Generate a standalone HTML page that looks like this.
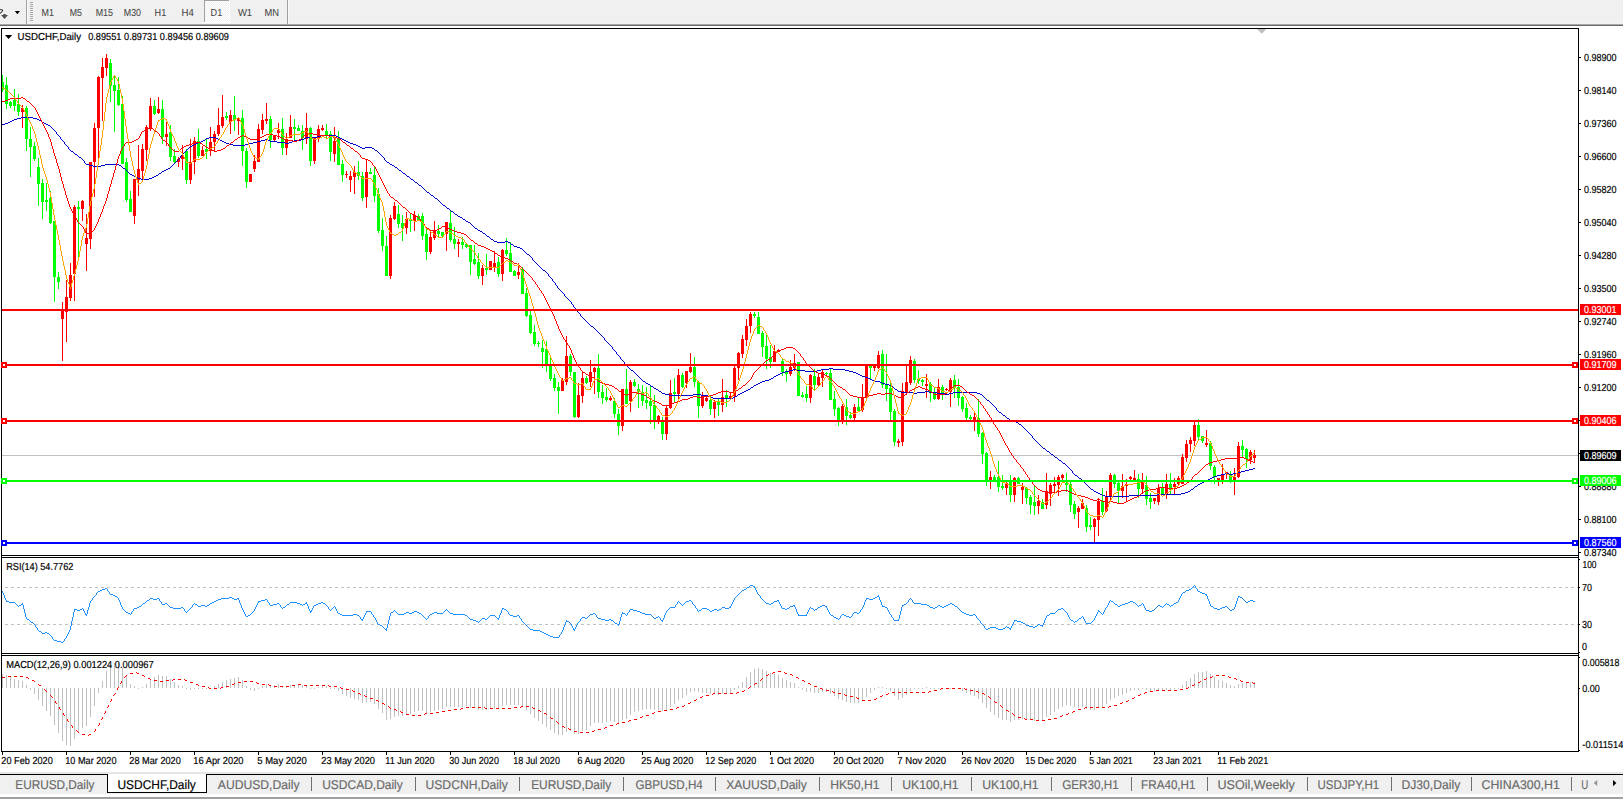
<!DOCTYPE html>
<html><head><meta charset="utf-8"><title>USDCHF,Daily</title>
<style>html,body{margin:0;padding:0;background:#fff;overflow:hidden}svg{display:block}text{white-space:pre}</style>
</head><body>
<svg width="1623" height="799" viewBox="0 0 1623 799" font-family="'Liberation Sans', sans-serif" text-rendering="geometricPrecision">
<rect x="0" y="0" width="1623" height="799" fill="#fff"/>
<g shape-rendering="crispEdges">
<rect x="0" y="0" width="1623" height="23" fill="#f0f0f0"/>
<rect x="0" y="23" width="1623" height="1" fill="#f3f3f3"/>
<rect x="0" y="24" width="1623" height="1" fill="#a8a8a8"/>
<rect x="0" y="25" width="1623" height="1" fill="#6a6a6a"/>
<rect x="26" y="0" width="1" height="24" fill="#a0a0a0"/>
<rect x="27" y="0" width="1" height="24" fill="#fafafa"/>
<rect x="30" y="2" width="3" height="1" fill="#a8a8a8"/>
<rect x="30" y="4" width="3" height="1" fill="#a8a8a8"/>
<rect x="30" y="6" width="3" height="1" fill="#a8a8a8"/>
<rect x="30" y="8" width="3" height="1" fill="#a8a8a8"/>
<rect x="30" y="10" width="3" height="1" fill="#a8a8a8"/>
<rect x="30" y="12" width="3" height="1" fill="#a8a8a8"/>
<rect x="30" y="14" width="3" height="1" fill="#a8a8a8"/>
<rect x="30" y="16" width="3" height="1" fill="#a8a8a8"/>
<rect x="30" y="18" width="3" height="1" fill="#a8a8a8"/>
<rect x="30" y="20" width="3" height="1" fill="#a8a8a8"/>
<rect x="287" y="0" width="1" height="24" fill="#a0a0a0"/>
<rect x="288" y="0" width="1" height="24" fill="#fafafa"/>
<pattern id="ck" width="2" height="2" patternUnits="userSpaceOnUse"><rect width="2" height="2" fill="#f0f0f0"/><rect width="1" height="1" fill="#fff"/><rect x="1" y="1" width="1" height="1" fill="#fff"/></pattern>
<rect x="205" y="1" width="24" height="21" fill="url(#ck)"/>
<rect x="204" y="0" width="25" height="1" fill="#a0a0a0"/>
<rect x="204" y="0" width="1" height="22" fill="#a0a0a0"/>
<rect x="229" y="0" width="1" height="23" fill="#fff"/>
<rect x="204" y="22" width="26" height="1" fill="#fff"/>
</g>
<path d="M-0.5 9.5 Q2.7 9.5 2.6 10.7 Q2.3 12.2 -0.5 13.6" fill="none" stroke="#3c3c3c" stroke-width="1.05"/>
<path d="M1 15.1 L8 15.1 L4.5 19 Z M3.3 14.1 H5.8 V15.2 H3.3 Z" fill="#505050"/>
<path d="M14.8 11 L20 11 L17.4 14.3 Z" fill="#000"/>
<text x="41.6" y="16" font-size="10.2" fill="#444" stroke="#444" stroke-width="0.05" textLength="12.4" lengthAdjust="spacingAndGlyphs">M1</text>
<text x="69.8" y="16" font-size="10.2" fill="#444" stroke="#444" stroke-width="0.05" textLength="12.2" lengthAdjust="spacingAndGlyphs">M5</text>
<text x="95.7" y="16" font-size="10.2" fill="#444" stroke="#444" stroke-width="0.05" textLength="17.3" lengthAdjust="spacingAndGlyphs">M15</text>
<text x="123.8" y="16" font-size="10.2" fill="#444" stroke="#444" stroke-width="0.05" textLength="17.2" lengthAdjust="spacingAndGlyphs">M30</text>
<text x="154.6" y="16" font-size="10.2" fill="#444" stroke="#444" stroke-width="0.05" textLength="11.6" lengthAdjust="spacingAndGlyphs">H1</text>
<text x="181.6" y="16" font-size="10.2" fill="#444" stroke="#444" stroke-width="0.05" textLength="12.3" lengthAdjust="spacingAndGlyphs">H4</text>
<text x="210.6" y="16" font-size="10.2" fill="#444" stroke="#444" stroke-width="0.05" textLength="11.6" lengthAdjust="spacingAndGlyphs">D1</text>
<text x="237.9" y="16" font-size="10.2" fill="#444" stroke="#444" stroke-width="0.05" textLength="14.2" lengthAdjust="spacingAndGlyphs">W1</text>
<text x="264.6" y="16" font-size="10.2" fill="#444" stroke="#444" stroke-width="0.05" textLength="14.5" lengthAdjust="spacingAndGlyphs">MN</text>
<g shape-rendering="crispEdges">
<rect x="1" y="28" width="1578" height="1" fill="#000"/>
<rect x="1" y="28" width="1" height="724" fill="#000"/>
<rect x="1578" y="28" width="1" height="724" fill="#000"/>
<rect x="1" y="751" width="1578" height="1" fill="#000"/>
</g>
<g shape-rendering="crispEdges">
<rect x="1" y="555" width="1578" height="1" fill="#000"/>
<rect x="1" y="557" width="1578" height="1" fill="#000"/>
<rect x="1" y="653" width="1578" height="1" fill="#000"/>
<rect x="1" y="655" width="1578" height="1" fill="#000"/>
</g>
<clipPath id="cm"><rect x="2" y="29" width="1576" height="526"/></clipPath>
<g clip-path="url(#cm)">
<g shape-rendering="crispEdges">
<rect x="2" y="455" width="1576" height="1" fill="#c0c0c0"/>
<rect x="2" y="75" width="1" height="17" fill="#00ff00"/>
<rect x="1" y="82" width="3" height="8" fill="#00ff00"/>
<rect x="6" y="77" width="1" height="32" fill="#00ff00"/>
<rect x="5" y="85" width="3" height="19" fill="#00ff00"/>
<rect x="10" y="101" width="1" height="7" fill="#00ff00"/>
<rect x="9" y="102" width="3" height="4" fill="#00ff00"/>
<rect x="14" y="89" width="1" height="22" fill="#00ff00"/>
<rect x="13" y="100" width="3" height="6" fill="#00ff00"/>
<rect x="18" y="94" width="1" height="22" fill="#00ff00"/>
<rect x="17" y="104" width="3" height="8" fill="#00ff00"/>
<rect x="22" y="105" width="1" height="23" fill="#ff0000"/>
<rect x="21" y="108" width="3" height="4" fill="#ff0000"/>
<rect x="26" y="106" width="1" height="45" fill="#00ff00"/>
<rect x="25" y="108" width="3" height="31" fill="#00ff00"/>
<rect x="30" y="127" width="1" height="50" fill="#00ff00"/>
<rect x="29" y="139" width="3" height="8" fill="#00ff00"/>
<rect x="34" y="142" width="1" height="19" fill="#00ff00"/>
<rect x="33" y="146" width="3" height="13" fill="#00ff00"/>
<rect x="38" y="158" width="1" height="48" fill="#00ff00"/>
<rect x="37" y="167" width="3" height="17" fill="#00ff00"/>
<rect x="42" y="179" width="1" height="40" fill="#00ff00"/>
<rect x="41" y="183" width="3" height="19" fill="#00ff00"/>
<rect x="46" y="183" width="1" height="28" fill="#00ff00"/>
<rect x="45" y="200" width="3" height="2" fill="#00ff00"/>
<rect x="50" y="191" width="1" height="33" fill="#00ff00"/>
<rect x="49" y="198" width="3" height="25" fill="#00ff00"/>
<rect x="54" y="221" width="1" height="81" fill="#00ff00"/>
<rect x="53" y="221" width="3" height="56" fill="#00ff00"/>
<rect x="58" y="272" width="1" height="17" fill="#00ff00"/>
<rect x="57" y="277" width="3" height="5" fill="#00ff00"/>
<rect x="62" y="302" width="1" height="59" fill="#ff0000"/>
<rect x="61" y="309" width="3" height="10" fill="#ff0000"/>
<rect x="66" y="280" width="1" height="62" fill="#ff0000"/>
<rect x="65" y="297" width="3" height="15" fill="#ff0000"/>
<rect x="70" y="263" width="1" height="38" fill="#ff0000"/>
<rect x="69" y="275" width="3" height="23" fill="#ff0000"/>
<rect x="74" y="205" width="1" height="96" fill="#ff0000"/>
<rect x="73" y="207" width="3" height="67" fill="#ff0000"/>
<rect x="78" y="201" width="1" height="56" fill="#00ff00"/>
<rect x="77" y="207" width="3" height="2" fill="#00ff00"/>
<rect x="82" y="200" width="1" height="21" fill="#ff0000"/>
<rect x="81" y="201" width="3" height="8" fill="#ff0000"/>
<rect x="86" y="214" width="1" height="57" fill="#ff0000"/>
<rect x="85" y="238" width="3" height="6" fill="#ff0000"/>
<rect x="90" y="162" width="1" height="87" fill="#ff0000"/>
<rect x="89" y="162" width="3" height="77" fill="#ff0000"/>
<rect x="94" y="123" width="1" height="74" fill="#ff0000"/>
<rect x="93" y="128" width="3" height="34" fill="#ff0000"/>
<rect x="98" y="76" width="1" height="82" fill="#ff0000"/>
<rect x="97" y="77" width="3" height="51" fill="#ff0000"/>
<rect x="102" y="58" width="1" height="63" fill="#ff0000"/>
<rect x="101" y="67" width="3" height="11" fill="#ff0000"/>
<rect x="106" y="54" width="1" height="22" fill="#ff0000"/>
<rect x="105" y="58" width="3" height="10" fill="#ff0000"/>
<rect x="110" y="59" width="1" height="43" fill="#00ff00"/>
<rect x="109" y="63" width="3" height="23" fill="#00ff00"/>
<rect x="114" y="76" width="1" height="56" fill="#00ff00"/>
<rect x="113" y="85" width="3" height="6" fill="#00ff00"/>
<rect x="118" y="77" width="1" height="29" fill="#00ff00"/>
<rect x="117" y="90" width="3" height="15" fill="#00ff00"/>
<rect x="122" y="96" width="1" height="68" fill="#00ff00"/>
<rect x="121" y="104" width="3" height="60" fill="#00ff00"/>
<rect x="126" y="158" width="1" height="44" fill="#00ff00"/>
<rect x="125" y="162" width="3" height="38" fill="#00ff00"/>
<rect x="130" y="191" width="1" height="21" fill="#00ff00"/>
<rect x="129" y="199" width="3" height="13" fill="#00ff00"/>
<rect x="134" y="179" width="1" height="45" fill="#ff0000"/>
<rect x="133" y="179" width="3" height="37" fill="#ff0000"/>
<rect x="138" y="145" width="1" height="51" fill="#ff0000"/>
<rect x="137" y="169" width="3" height="11" fill="#ff0000"/>
<rect x="142" y="144" width="1" height="35" fill="#ff0000"/>
<rect x="141" y="149" width="3" height="22" fill="#ff0000"/>
<rect x="146" y="125" width="1" height="36" fill="#ff0000"/>
<rect x="145" y="127" width="3" height="23" fill="#ff0000"/>
<rect x="150" y="98" width="1" height="33" fill="#ff0000"/>
<rect x="149" y="106" width="3" height="22" fill="#ff0000"/>
<rect x="154" y="100" width="1" height="15" fill="#00ff00"/>
<rect x="153" y="106" width="3" height="8" fill="#00ff00"/>
<rect x="158" y="97" width="1" height="17" fill="#ff0000"/>
<rect x="157" y="109" width="3" height="4" fill="#ff0000"/>
<rect x="162" y="100" width="1" height="44" fill="#00ff00"/>
<rect x="161" y="109" width="3" height="28" fill="#00ff00"/>
<rect x="166" y="122" width="1" height="24" fill="#ff0000"/>
<rect x="165" y="134" width="3" height="3" fill="#ff0000"/>
<rect x="170" y="125" width="1" height="36" fill="#00ff00"/>
<rect x="169" y="132" width="3" height="25" fill="#00ff00"/>
<rect x="174" y="149" width="1" height="14" fill="#00ff00"/>
<rect x="173" y="156" width="3" height="6" fill="#00ff00"/>
<rect x="178" y="157" width="1" height="10" fill="#ff0000"/>
<rect x="177" y="159" width="3" height="3" fill="#ff0000"/>
<rect x="182" y="145" width="1" height="25" fill="#ff0000"/>
<rect x="181" y="156" width="3" height="3" fill="#ff0000"/>
<rect x="186" y="149" width="1" height="35" fill="#00ff00"/>
<rect x="185" y="151" width="3" height="29" fill="#00ff00"/>
<rect x="190" y="139" width="1" height="45" fill="#ff0000"/>
<rect x="189" y="162" width="3" height="18" fill="#ff0000"/>
<rect x="194" y="137" width="1" height="37" fill="#ff0000"/>
<rect x="193" y="141" width="3" height="21" fill="#ff0000"/>
<rect x="198" y="129" width="1" height="29" fill="#00ff00"/>
<rect x="197" y="141" width="3" height="15" fill="#00ff00"/>
<rect x="202" y="146" width="1" height="10" fill="#ff0000"/>
<rect x="201" y="150" width="3" height="6" fill="#ff0000"/>
<rect x="206" y="139" width="1" height="20" fill="#00ff00"/>
<rect x="205" y="149" width="3" height="3" fill="#00ff00"/>
<rect x="210" y="127" width="1" height="29" fill="#ff0000"/>
<rect x="209" y="142" width="3" height="9" fill="#ff0000"/>
<rect x="214" y="131" width="1" height="21" fill="#ff0000"/>
<rect x="213" y="134" width="3" height="8" fill="#ff0000"/>
<rect x="218" y="108" width="1" height="28" fill="#ff0000"/>
<rect x="217" y="125" width="3" height="9" fill="#ff0000"/>
<rect x="222" y="95" width="1" height="33" fill="#ff0000"/>
<rect x="221" y="117" width="3" height="9" fill="#ff0000"/>
<rect x="226" y="112" width="1" height="8" fill="#00ff00"/>
<rect x="225" y="116" width="3" height="2" fill="#00ff00"/>
<rect x="230" y="110" width="1" height="24" fill="#ff0000"/>
<rect x="229" y="115" width="3" height="7" fill="#ff0000"/>
<rect x="234" y="96" width="1" height="35" fill="#00ff00"/>
<rect x="233" y="115" width="3" height="5" fill="#00ff00"/>
<rect x="238" y="117" width="1" height="18" fill="#ff0000"/>
<rect x="237" y="118" width="3" height="3" fill="#ff0000"/>
<rect x="242" y="110" width="1" height="56" fill="#00ff00"/>
<rect x="241" y="118" width="3" height="33" fill="#00ff00"/>
<rect x="246" y="148" width="1" height="40" fill="#00ff00"/>
<rect x="245" y="151" width="3" height="31" fill="#00ff00"/>
<rect x="250" y="174" width="1" height="8" fill="#ff0000"/>
<rect x="249" y="174" width="3" height="8" fill="#ff0000"/>
<rect x="254" y="155" width="1" height="17" fill="#ff0000"/>
<rect x="253" y="161" width="3" height="8" fill="#ff0000"/>
<rect x="258" y="124" width="1" height="38" fill="#ff0000"/>
<rect x="257" y="129" width="3" height="33" fill="#ff0000"/>
<rect x="262" y="114" width="1" height="20" fill="#ff0000"/>
<rect x="261" y="120" width="3" height="10" fill="#ff0000"/>
<rect x="266" y="103" width="1" height="21" fill="#ff0000"/>
<rect x="265" y="119" width="3" height="2" fill="#ff0000"/>
<rect x="270" y="116" width="1" height="32" fill="#00ff00"/>
<rect x="269" y="119" width="3" height="21" fill="#00ff00"/>
<rect x="274" y="135" width="1" height="6" fill="#ff0000"/>
<rect x="273" y="136" width="3" height="4" fill="#ff0000"/>
<rect x="278" y="123" width="1" height="16" fill="#ff0000"/>
<rect x="277" y="130" width="3" height="3" fill="#ff0000"/>
<rect x="282" y="118" width="1" height="37" fill="#00ff00"/>
<rect x="281" y="129" width="3" height="19" fill="#00ff00"/>
<rect x="286" y="133" width="1" height="22" fill="#ff0000"/>
<rect x="285" y="139" width="3" height="9" fill="#ff0000"/>
<rect x="290" y="115" width="1" height="23" fill="#ff0000"/>
<rect x="289" y="127" width="3" height="11" fill="#ff0000"/>
<rect x="294" y="119" width="1" height="21" fill="#00ff00"/>
<rect x="293" y="127" width="3" height="2" fill="#00ff00"/>
<rect x="298" y="125" width="1" height="6" fill="#00ff00"/>
<rect x="297" y="128" width="3" height="3" fill="#00ff00"/>
<rect x="302" y="125" width="1" height="25" fill="#00ff00"/>
<rect x="301" y="131" width="3" height="7" fill="#00ff00"/>
<rect x="306" y="113" width="1" height="31" fill="#ff0000"/>
<rect x="305" y="128" width="3" height="11" fill="#ff0000"/>
<rect x="310" y="127" width="1" height="39" fill="#00ff00"/>
<rect x="309" y="128" width="3" height="33" fill="#00ff00"/>
<rect x="314" y="138" width="1" height="26" fill="#ff0000"/>
<rect x="313" y="138" width="3" height="23" fill="#ff0000"/>
<rect x="318" y="125" width="1" height="17" fill="#ff0000"/>
<rect x="317" y="129" width="3" height="9" fill="#ff0000"/>
<rect x="322" y="125" width="1" height="6" fill="#ff0000"/>
<rect x="321" y="128" width="3" height="2" fill="#ff0000"/>
<rect x="326" y="124" width="1" height="14" fill="#00ff00"/>
<rect x="325" y="131" width="3" height="4" fill="#00ff00"/>
<rect x="330" y="131" width="1" height="30" fill="#00ff00"/>
<rect x="329" y="134" width="3" height="18" fill="#00ff00"/>
<rect x="334" y="127" width="1" height="35" fill="#ff0000"/>
<rect x="333" y="141" width="3" height="13" fill="#ff0000"/>
<rect x="338" y="131" width="1" height="34" fill="#00ff00"/>
<rect x="337" y="138" width="3" height="27" fill="#00ff00"/>
<rect x="342" y="160" width="1" height="22" fill="#00ff00"/>
<rect x="341" y="164" width="3" height="11" fill="#00ff00"/>
<rect x="346" y="171" width="1" height="7" fill="#ff0000"/>
<rect x="345" y="174" width="3" height="1" fill="#ff0000"/>
<rect x="350" y="171" width="1" height="21" fill="#ff0000"/>
<rect x="349" y="176" width="3" height="4" fill="#ff0000"/>
<rect x="354" y="166" width="1" height="28" fill="#ff0000"/>
<rect x="353" y="172" width="3" height="5" fill="#ff0000"/>
<rect x="358" y="161" width="1" height="19" fill="#00ff00"/>
<rect x="357" y="172" width="3" height="4" fill="#00ff00"/>
<rect x="362" y="172" width="1" height="29" fill="#00ff00"/>
<rect x="361" y="176" width="3" height="22" fill="#00ff00"/>
<rect x="366" y="160" width="1" height="48" fill="#ff0000"/>
<rect x="365" y="172" width="3" height="25" fill="#ff0000"/>
<rect x="370" y="168" width="1" height="6" fill="#00ff00"/>
<rect x="369" y="172" width="3" height="2" fill="#00ff00"/>
<rect x="374" y="166" width="1" height="36" fill="#00ff00"/>
<rect x="373" y="175" width="3" height="21" fill="#00ff00"/>
<rect x="378" y="188" width="1" height="45" fill="#00ff00"/>
<rect x="377" y="194" width="3" height="37" fill="#00ff00"/>
<rect x="382" y="218" width="1" height="33" fill="#00ff00"/>
<rect x="381" y="230" width="3" height="16" fill="#00ff00"/>
<rect x="386" y="236" width="1" height="40" fill="#00ff00"/>
<rect x="385" y="246" width="3" height="30" fill="#00ff00"/>
<rect x="390" y="215" width="1" height="64" fill="#ff0000"/>
<rect x="389" y="218" width="3" height="58" fill="#ff0000"/>
<rect x="394" y="202" width="1" height="18" fill="#ff0000"/>
<rect x="393" y="206" width="3" height="13" fill="#ff0000"/>
<rect x="398" y="205" width="1" height="23" fill="#00ff00"/>
<rect x="397" y="214" width="3" height="10" fill="#00ff00"/>
<rect x="402" y="215" width="1" height="26" fill="#00ff00"/>
<rect x="401" y="223" width="3" height="5" fill="#00ff00"/>
<rect x="406" y="212" width="1" height="22" fill="#ff0000"/>
<rect x="405" y="219" width="3" height="9" fill="#ff0000"/>
<rect x="410" y="214" width="1" height="18" fill="#00ff00"/>
<rect x="409" y="219" width="3" height="2" fill="#00ff00"/>
<rect x="414" y="211" width="1" height="20" fill="#ff0000"/>
<rect x="413" y="215" width="3" height="6" fill="#ff0000"/>
<rect x="418" y="214" width="1" height="6" fill="#00ff00"/>
<rect x="417" y="216" width="3" height="4" fill="#00ff00"/>
<rect x="422" y="213" width="1" height="27" fill="#00ff00"/>
<rect x="421" y="216" width="3" height="20" fill="#00ff00"/>
<rect x="426" y="229" width="1" height="31" fill="#00ff00"/>
<rect x="425" y="234" width="3" height="18" fill="#00ff00"/>
<rect x="430" y="232" width="1" height="22" fill="#ff0000"/>
<rect x="429" y="237" width="3" height="15" fill="#ff0000"/>
<rect x="434" y="221" width="1" height="19" fill="#ff0000"/>
<rect x="433" y="230" width="3" height="8" fill="#ff0000"/>
<rect x="438" y="225" width="1" height="13" fill="#00ff00"/>
<rect x="437" y="231" width="3" height="3" fill="#00ff00"/>
<rect x="442" y="232" width="1" height="5" fill="#00ff00"/>
<rect x="441" y="232" width="3" height="4" fill="#00ff00"/>
<rect x="446" y="222" width="1" height="29" fill="#ff0000"/>
<rect x="445" y="222" width="3" height="12" fill="#ff0000"/>
<rect x="450" y="211" width="1" height="31" fill="#00ff00"/>
<rect x="449" y="223" width="3" height="17" fill="#00ff00"/>
<rect x="454" y="227" width="1" height="22" fill="#00ff00"/>
<rect x="453" y="239" width="3" height="5" fill="#00ff00"/>
<rect x="458" y="239" width="1" height="18" fill="#ff0000"/>
<rect x="457" y="242" width="3" height="2" fill="#ff0000"/>
<rect x="462" y="237" width="1" height="12" fill="#00ff00"/>
<rect x="461" y="242" width="3" height="3" fill="#00ff00"/>
<rect x="466" y="243" width="1" height="5" fill="#00ff00"/>
<rect x="465" y="244" width="3" height="3" fill="#00ff00"/>
<rect x="470" y="245" width="1" height="30" fill="#00ff00"/>
<rect x="469" y="245" width="3" height="17" fill="#00ff00"/>
<rect x="474" y="245" width="1" height="20" fill="#00ff00"/>
<rect x="473" y="259" width="3" height="5" fill="#00ff00"/>
<rect x="478" y="253" width="1" height="26" fill="#00ff00"/>
<rect x="477" y="262" width="3" height="14" fill="#00ff00"/>
<rect x="482" y="265" width="1" height="20" fill="#ff0000"/>
<rect x="481" y="268" width="3" height="8" fill="#ff0000"/>
<rect x="486" y="254" width="1" height="21" fill="#00ff00"/>
<rect x="485" y="268" width="3" height="2" fill="#00ff00"/>
<rect x="490" y="261" width="1" height="9" fill="#ff0000"/>
<rect x="489" y="261" width="3" height="9" fill="#ff0000"/>
<rect x="494" y="251" width="1" height="21" fill="#ff0000"/>
<rect x="493" y="263" width="3" height="5" fill="#ff0000"/>
<rect x="498" y="257" width="1" height="20" fill="#00ff00"/>
<rect x="497" y="262" width="3" height="12" fill="#00ff00"/>
<rect x="502" y="249" width="1" height="32" fill="#ff0000"/>
<rect x="501" y="250" width="3" height="24" fill="#ff0000"/>
<rect x="506" y="238" width="1" height="18" fill="#00ff00"/>
<rect x="505" y="250" width="3" height="4" fill="#00ff00"/>
<rect x="510" y="242" width="1" height="30" fill="#00ff00"/>
<rect x="509" y="253" width="3" height="19" fill="#00ff00"/>
<rect x="514" y="270" width="1" height="6" fill="#00ff00"/>
<rect x="513" y="271" width="3" height="5" fill="#00ff00"/>
<rect x="518" y="263" width="1" height="16" fill="#ff0000"/>
<rect x="517" y="272" width="3" height="3" fill="#ff0000"/>
<rect x="522" y="267" width="1" height="27" fill="#00ff00"/>
<rect x="521" y="269" width="3" height="25" fill="#00ff00"/>
<rect x="526" y="288" width="1" height="29" fill="#00ff00"/>
<rect x="525" y="293" width="3" height="23" fill="#00ff00"/>
<rect x="530" y="311" width="1" height="23" fill="#00ff00"/>
<rect x="529" y="315" width="3" height="18" fill="#00ff00"/>
<rect x="534" y="325" width="1" height="21" fill="#00ff00"/>
<rect x="533" y="332" width="3" height="12" fill="#00ff00"/>
<rect x="538" y="341" width="1" height="6" fill="#00ff00"/>
<rect x="537" y="343" width="3" height="1" fill="#00ff00"/>
<rect x="542" y="340" width="1" height="28" fill="#00ff00"/>
<rect x="541" y="348" width="3" height="4" fill="#00ff00"/>
<rect x="546" y="341" width="1" height="31" fill="#00ff00"/>
<rect x="545" y="349" width="3" height="17" fill="#00ff00"/>
<rect x="550" y="358" width="1" height="23" fill="#00ff00"/>
<rect x="549" y="364" width="3" height="15" fill="#00ff00"/>
<rect x="554" y="374" width="1" height="17" fill="#00ff00"/>
<rect x="553" y="378" width="3" height="10" fill="#00ff00"/>
<rect x="558" y="382" width="1" height="32" fill="#00ff00"/>
<rect x="557" y="387" width="3" height="4" fill="#00ff00"/>
<rect x="562" y="378" width="1" height="13" fill="#ff0000"/>
<rect x="561" y="380" width="3" height="11" fill="#ff0000"/>
<rect x="566" y="336" width="1" height="49" fill="#ff0000"/>
<rect x="565" y="356" width="3" height="26" fill="#ff0000"/>
<rect x="570" y="354" width="1" height="22" fill="#00ff00"/>
<rect x="569" y="356" width="3" height="16" fill="#00ff00"/>
<rect x="574" y="372" width="1" height="46" fill="#00ff00"/>
<rect x="573" y="372" width="3" height="45" fill="#00ff00"/>
<rect x="578" y="383" width="1" height="35" fill="#ff0000"/>
<rect x="577" y="395" width="3" height="22" fill="#ff0000"/>
<rect x="582" y="372" width="1" height="31" fill="#ff0000"/>
<rect x="581" y="378" width="3" height="18" fill="#ff0000"/>
<rect x="586" y="376" width="1" height="8" fill="#00ff00"/>
<rect x="585" y="378" width="3" height="5" fill="#00ff00"/>
<rect x="590" y="360" width="1" height="27" fill="#ff0000"/>
<rect x="589" y="372" width="3" height="10" fill="#ff0000"/>
<rect x="594" y="367" width="1" height="27" fill="#ff0000"/>
<rect x="593" y="368" width="3" height="4" fill="#ff0000"/>
<rect x="598" y="354" width="1" height="44" fill="#00ff00"/>
<rect x="597" y="368" width="3" height="24" fill="#00ff00"/>
<rect x="602" y="385" width="1" height="19" fill="#00ff00"/>
<rect x="601" y="392" width="3" height="6" fill="#00ff00"/>
<rect x="606" y="388" width="1" height="14" fill="#00ff00"/>
<rect x="605" y="397" width="3" height="3" fill="#00ff00"/>
<rect x="610" y="396" width="1" height="5" fill="#ff0000"/>
<rect x="609" y="398" width="3" height="2" fill="#ff0000"/>
<rect x="614" y="398" width="1" height="20" fill="#00ff00"/>
<rect x="613" y="401" width="3" height="13" fill="#00ff00"/>
<rect x="618" y="409" width="1" height="26" fill="#00ff00"/>
<rect x="617" y="414" width="3" height="12" fill="#00ff00"/>
<rect x="622" y="389" width="1" height="42" fill="#ff0000"/>
<rect x="621" y="389" width="3" height="37" fill="#ff0000"/>
<rect x="626" y="369" width="1" height="35" fill="#00ff00"/>
<rect x="625" y="389" width="3" height="15" fill="#00ff00"/>
<rect x="630" y="380" width="1" height="32" fill="#ff0000"/>
<rect x="629" y="382" width="3" height="19" fill="#ff0000"/>
<rect x="634" y="379" width="1" height="8" fill="#00ff00"/>
<rect x="633" y="382" width="3" height="4" fill="#00ff00"/>
<rect x="638" y="384" width="1" height="24" fill="#00ff00"/>
<rect x="637" y="389" width="3" height="3" fill="#00ff00"/>
<rect x="642" y="385" width="1" height="21" fill="#00ff00"/>
<rect x="641" y="392" width="3" height="9" fill="#00ff00"/>
<rect x="646" y="387" width="1" height="22" fill="#00ff00"/>
<rect x="645" y="400" width="3" height="3" fill="#00ff00"/>
<rect x="650" y="386" width="1" height="38" fill="#00ff00"/>
<rect x="649" y="401" width="3" height="5" fill="#00ff00"/>
<rect x="654" y="395" width="1" height="34" fill="#00ff00"/>
<rect x="653" y="405" width="3" height="15" fill="#00ff00"/>
<rect x="658" y="415" width="1" height="9" fill="#ff0000"/>
<rect x="657" y="416" width="3" height="4" fill="#ff0000"/>
<rect x="662" y="417" width="1" height="23" fill="#00ff00"/>
<rect x="661" y="421" width="3" height="13" fill="#00ff00"/>
<rect x="666" y="406" width="1" height="34" fill="#ff0000"/>
<rect x="665" y="408" width="3" height="26" fill="#ff0000"/>
<rect x="670" y="380" width="1" height="29" fill="#ff0000"/>
<rect x="669" y="393" width="3" height="15" fill="#ff0000"/>
<rect x="674" y="378" width="1" height="24" fill="#00ff00"/>
<rect x="673" y="392" width="3" height="2" fill="#00ff00"/>
<rect x="678" y="369" width="1" height="32" fill="#ff0000"/>
<rect x="677" y="375" width="3" height="19" fill="#ff0000"/>
<rect x="682" y="373" width="1" height="15" fill="#00ff00"/>
<rect x="681" y="375" width="3" height="12" fill="#00ff00"/>
<rect x="686" y="371" width="1" height="17" fill="#ff0000"/>
<rect x="685" y="371" width="3" height="12" fill="#ff0000"/>
<rect x="690" y="353" width="1" height="20" fill="#ff0000"/>
<rect x="689" y="367" width="3" height="5" fill="#ff0000"/>
<rect x="694" y="357" width="1" height="30" fill="#00ff00"/>
<rect x="693" y="367" width="3" height="15" fill="#00ff00"/>
<rect x="698" y="381" width="1" height="37" fill="#00ff00"/>
<rect x="697" y="382" width="3" height="24" fill="#00ff00"/>
<rect x="702" y="392" width="1" height="16" fill="#ff0000"/>
<rect x="701" y="396" width="3" height="10" fill="#ff0000"/>
<rect x="706" y="397" width="1" height="5" fill="#ff0000"/>
<rect x="705" y="398" width="3" height="3" fill="#ff0000"/>
<rect x="710" y="396" width="1" height="19" fill="#00ff00"/>
<rect x="709" y="400" width="3" height="9" fill="#00ff00"/>
<rect x="714" y="400" width="1" height="18" fill="#ff0000"/>
<rect x="713" y="402" width="3" height="7" fill="#ff0000"/>
<rect x="718" y="398" width="1" height="18" fill="#00ff00"/>
<rect x="717" y="402" width="3" height="3" fill="#00ff00"/>
<rect x="722" y="379" width="1" height="33" fill="#ff0000"/>
<rect x="721" y="397" width="3" height="8" fill="#ff0000"/>
<rect x="726" y="390" width="1" height="17" fill="#00ff00"/>
<rect x="725" y="395" width="3" height="3" fill="#00ff00"/>
<rect x="730" y="392" width="1" height="6" fill="#ff0000"/>
<rect x="729" y="396" width="3" height="2" fill="#ff0000"/>
<rect x="734" y="366" width="1" height="36" fill="#ff0000"/>
<rect x="733" y="368" width="3" height="28" fill="#ff0000"/>
<rect x="738" y="352" width="1" height="28" fill="#ff0000"/>
<rect x="737" y="353" width="3" height="15" fill="#ff0000"/>
<rect x="742" y="335" width="1" height="23" fill="#ff0000"/>
<rect x="741" y="339" width="3" height="15" fill="#ff0000"/>
<rect x="746" y="319" width="1" height="27" fill="#ff0000"/>
<rect x="745" y="326" width="3" height="14" fill="#ff0000"/>
<rect x="750" y="312" width="1" height="21" fill="#ff0000"/>
<rect x="749" y="314" width="3" height="12" fill="#ff0000"/>
<rect x="754" y="312" width="1" height="6" fill="#00ff00"/>
<rect x="753" y="314" width="3" height="2" fill="#00ff00"/>
<rect x="758" y="312" width="1" height="22" fill="#00ff00"/>
<rect x="757" y="317" width="3" height="17" fill="#00ff00"/>
<rect x="762" y="331" width="1" height="26" fill="#00ff00"/>
<rect x="761" y="333" width="3" height="14" fill="#00ff00"/>
<rect x="766" y="335" width="1" height="34" fill="#00ff00"/>
<rect x="765" y="346" width="3" height="13" fill="#00ff00"/>
<rect x="770" y="345" width="1" height="23" fill="#00ff00"/>
<rect x="769" y="357" width="3" height="5" fill="#00ff00"/>
<rect x="774" y="345" width="1" height="17" fill="#ff0000"/>
<rect x="773" y="351" width="3" height="11" fill="#ff0000"/>
<rect x="778" y="349" width="1" height="3" fill="#ff0000"/>
<rect x="777" y="350" width="3" height="2" fill="#ff0000"/>
<rect x="782" y="359" width="1" height="17" fill="#00ff00"/>
<rect x="781" y="361" width="3" height="11" fill="#00ff00"/>
<rect x="786" y="369" width="1" height="13" fill="#00ff00"/>
<rect x="785" y="372" width="3" height="2" fill="#00ff00"/>
<rect x="790" y="360" width="1" height="16" fill="#ff0000"/>
<rect x="789" y="367" width="3" height="7" fill="#ff0000"/>
<rect x="794" y="354" width="1" height="17" fill="#ff0000"/>
<rect x="793" y="363" width="3" height="5" fill="#ff0000"/>
<rect x="798" y="362" width="1" height="34" fill="#00ff00"/>
<rect x="797" y="362" width="3" height="34" fill="#00ff00"/>
<rect x="802" y="392" width="1" height="6" fill="#00ff00"/>
<rect x="801" y="395" width="3" height="2" fill="#00ff00"/>
<rect x="806" y="386" width="1" height="16" fill="#00ff00"/>
<rect x="805" y="394" width="3" height="4" fill="#00ff00"/>
<rect x="810" y="374" width="1" height="29" fill="#ff0000"/>
<rect x="809" y="375" width="3" height="23" fill="#ff0000"/>
<rect x="814" y="369" width="1" height="22" fill="#00ff00"/>
<rect x="813" y="376" width="3" height="9" fill="#00ff00"/>
<rect x="818" y="373" width="1" height="13" fill="#ff0000"/>
<rect x="817" y="377" width="3" height="8" fill="#ff0000"/>
<rect x="822" y="369" width="1" height="18" fill="#ff0000"/>
<rect x="821" y="372" width="3" height="6" fill="#ff0000"/>
<rect x="826" y="372" width="1" height="4" fill="#00ff00"/>
<rect x="825" y="373" width="3" height="1" fill="#00ff00"/>
<rect x="830" y="368" width="1" height="32" fill="#00ff00"/>
<rect x="829" y="373" width="3" height="27" fill="#00ff00"/>
<rect x="834" y="391" width="1" height="25" fill="#00ff00"/>
<rect x="833" y="399" width="3" height="10" fill="#00ff00"/>
<rect x="838" y="407" width="1" height="19" fill="#00ff00"/>
<rect x="837" y="408" width="3" height="12" fill="#00ff00"/>
<rect x="842" y="404" width="1" height="20" fill="#ff0000"/>
<rect x="841" y="406" width="3" height="14" fill="#ff0000"/>
<rect x="846" y="399" width="1" height="26" fill="#00ff00"/>
<rect x="845" y="407" width="3" height="9" fill="#00ff00"/>
<rect x="850" y="412" width="1" height="7" fill="#00ff00"/>
<rect x="849" y="415" width="3" height="3" fill="#00ff00"/>
<rect x="854" y="404" width="1" height="16" fill="#ff0000"/>
<rect x="853" y="407" width="3" height="11" fill="#ff0000"/>
<rect x="858" y="398" width="1" height="14" fill="#00ff00"/>
<rect x="857" y="407" width="3" height="4" fill="#00ff00"/>
<rect x="862" y="384" width="1" height="28" fill="#ff0000"/>
<rect x="861" y="397" width="3" height="13" fill="#ff0000"/>
<rect x="866" y="365" width="1" height="33" fill="#ff0000"/>
<rect x="865" y="365" width="3" height="33" fill="#ff0000"/>
<rect x="870" y="365" width="1" height="15" fill="#00ff00"/>
<rect x="869" y="366" width="3" height="2" fill="#00ff00"/>
<rect x="874" y="365" width="1" height="6" fill="#ff0000"/>
<rect x="873" y="366" width="3" height="2" fill="#ff0000"/>
<rect x="878" y="351" width="1" height="18" fill="#ff0000"/>
<rect x="877" y="355" width="3" height="13" fill="#ff0000"/>
<rect x="882" y="350" width="1" height="38" fill="#00ff00"/>
<rect x="881" y="354" width="3" height="31" fill="#00ff00"/>
<rect x="886" y="354" width="1" height="47" fill="#00ff00"/>
<rect x="885" y="385" width="3" height="4" fill="#00ff00"/>
<rect x="890" y="383" width="1" height="37" fill="#00ff00"/>
<rect x="889" y="388" width="3" height="24" fill="#00ff00"/>
<rect x="894" y="409" width="1" height="37" fill="#00ff00"/>
<rect x="893" y="411" width="3" height="31" fill="#00ff00"/>
<rect x="898" y="439" width="1" height="8" fill="#ff0000"/>
<rect x="897" y="441" width="3" height="2" fill="#ff0000"/>
<rect x="902" y="383" width="1" height="63" fill="#ff0000"/>
<rect x="901" y="391" width="3" height="51" fill="#ff0000"/>
<rect x="906" y="366" width="1" height="29" fill="#ff0000"/>
<rect x="905" y="382" width="3" height="10" fill="#ff0000"/>
<rect x="910" y="356" width="1" height="29" fill="#ff0000"/>
<rect x="909" y="360" width="3" height="23" fill="#ff0000"/>
<rect x="914" y="359" width="1" height="24" fill="#00ff00"/>
<rect x="913" y="361" width="3" height="19" fill="#00ff00"/>
<rect x="918" y="370" width="1" height="14" fill="#00ff00"/>
<rect x="917" y="379" width="3" height="2" fill="#00ff00"/>
<rect x="922" y="379" width="1" height="7" fill="#00ff00"/>
<rect x="921" y="380" width="3" height="2" fill="#00ff00"/>
<rect x="926" y="374" width="1" height="24" fill="#ff0000"/>
<rect x="925" y="384" width="3" height="2" fill="#ff0000"/>
<rect x="930" y="382" width="1" height="20" fill="#00ff00"/>
<rect x="929" y="384" width="3" height="9" fill="#00ff00"/>
<rect x="934" y="388" width="1" height="12" fill="#00ff00"/>
<rect x="933" y="392" width="3" height="7" fill="#00ff00"/>
<rect x="938" y="379" width="1" height="21" fill="#ff0000"/>
<rect x="937" y="387" width="3" height="12" fill="#ff0000"/>
<rect x="942" y="385" width="1" height="15" fill="#00ff00"/>
<rect x="941" y="387" width="3" height="8" fill="#00ff00"/>
<rect x="946" y="388" width="1" height="3" fill="#ff0000"/>
<rect x="945" y="389" width="3" height="1" fill="#ff0000"/>
<rect x="950" y="378" width="1" height="29" fill="#ff0000"/>
<rect x="949" y="380" width="3" height="12" fill="#ff0000"/>
<rect x="954" y="375" width="1" height="23" fill="#00ff00"/>
<rect x="953" y="380" width="3" height="8" fill="#00ff00"/>
<rect x="958" y="379" width="1" height="27" fill="#00ff00"/>
<rect x="957" y="387" width="3" height="11" fill="#00ff00"/>
<rect x="962" y="396" width="1" height="16" fill="#00ff00"/>
<rect x="961" y="397" width="3" height="12" fill="#00ff00"/>
<rect x="966" y="403" width="1" height="17" fill="#00ff00"/>
<rect x="965" y="408" width="3" height="10" fill="#00ff00"/>
<rect x="970" y="415" width="1" height="5" fill="#00ff00"/>
<rect x="969" y="417" width="3" height="2" fill="#00ff00"/>
<rect x="974" y="411" width="1" height="20" fill="#ff0000"/>
<rect x="973" y="417" width="3" height="4" fill="#ff0000"/>
<rect x="978" y="399" width="1" height="38" fill="#00ff00"/>
<rect x="977" y="418" width="3" height="16" fill="#00ff00"/>
<rect x="982" y="432" width="1" height="32" fill="#00ff00"/>
<rect x="981" y="433" width="3" height="21" fill="#00ff00"/>
<rect x="986" y="452" width="1" height="34" fill="#00ff00"/>
<rect x="985" y="453" width="3" height="28" fill="#00ff00"/>
<rect x="990" y="471" width="1" height="18" fill="#ff0000"/>
<rect x="989" y="477" width="3" height="3" fill="#ff0000"/>
<rect x="994" y="475" width="1" height="6" fill="#00ff00"/>
<rect x="993" y="477" width="3" height="4" fill="#00ff00"/>
<rect x="998" y="461" width="1" height="31" fill="#00ff00"/>
<rect x="997" y="477" width="3" height="10" fill="#00ff00"/>
<rect x="1002" y="475" width="1" height="15" fill="#00ff00"/>
<rect x="1001" y="486" width="3" height="2" fill="#00ff00"/>
<rect x="1006" y="482" width="1" height="13" fill="#ff0000"/>
<rect x="1005" y="483" width="3" height="5" fill="#ff0000"/>
<rect x="1010" y="475" width="1" height="27" fill="#00ff00"/>
<rect x="1009" y="481" width="3" height="14" fill="#00ff00"/>
<rect x="1014" y="477" width="1" height="25" fill="#ff0000"/>
<rect x="1013" y="478" width="3" height="17" fill="#ff0000"/>
<rect x="1018" y="477" width="1" height="7" fill="#00ff00"/>
<rect x="1017" y="478" width="3" height="6" fill="#00ff00"/>
<rect x="1022" y="483" width="1" height="21" fill="#ff0000"/>
<rect x="1021" y="487" width="3" height="3" fill="#ff0000"/>
<rect x="1026" y="487" width="1" height="17" fill="#00ff00"/>
<rect x="1025" y="488" width="3" height="10" fill="#00ff00"/>
<rect x="1030" y="495" width="1" height="19" fill="#00ff00"/>
<rect x="1029" y="497" width="3" height="8" fill="#00ff00"/>
<rect x="1034" y="486" width="1" height="29" fill="#00ff00"/>
<rect x="1033" y="502" width="3" height="4" fill="#00ff00"/>
<rect x="1038" y="495" width="1" height="19" fill="#ff0000"/>
<rect x="1037" y="501" width="3" height="5" fill="#ff0000"/>
<rect x="1042" y="499" width="1" height="10" fill="#00ff00"/>
<rect x="1041" y="502" width="3" height="7" fill="#00ff00"/>
<rect x="1046" y="473" width="1" height="36" fill="#ff0000"/>
<rect x="1045" y="491" width="3" height="14" fill="#ff0000"/>
<rect x="1050" y="483" width="1" height="23" fill="#ff0000"/>
<rect x="1049" y="485" width="3" height="9" fill="#ff0000"/>
<rect x="1054" y="477" width="1" height="17" fill="#ff0000"/>
<rect x="1053" y="484" width="3" height="2" fill="#ff0000"/>
<rect x="1058" y="475" width="1" height="21" fill="#ff0000"/>
<rect x="1057" y="477" width="3" height="8" fill="#ff0000"/>
<rect x="1062" y="474" width="1" height="6" fill="#ff0000"/>
<rect x="1061" y="475" width="3" height="3" fill="#ff0000"/>
<rect x="1066" y="473" width="1" height="19" fill="#00ff00"/>
<rect x="1065" y="483" width="3" height="2" fill="#00ff00"/>
<rect x="1070" y="482" width="1" height="30" fill="#00ff00"/>
<rect x="1069" y="484" width="3" height="21" fill="#00ff00"/>
<rect x="1074" y="501" width="1" height="18" fill="#00ff00"/>
<rect x="1073" y="504" width="3" height="10" fill="#00ff00"/>
<rect x="1078" y="506" width="1" height="22" fill="#ff0000"/>
<rect x="1077" y="508" width="3" height="4" fill="#ff0000"/>
<rect x="1082" y="499" width="1" height="10" fill="#ff0000"/>
<rect x="1081" y="503" width="3" height="6" fill="#ff0000"/>
<rect x="1086" y="505" width="1" height="27" fill="#00ff00"/>
<rect x="1085" y="508" width="3" height="19" fill="#00ff00"/>
<rect x="1090" y="517" width="1" height="13" fill="#00ff00"/>
<rect x="1089" y="525" width="3" height="2" fill="#00ff00"/>
<rect x="1094" y="518" width="1" height="24" fill="#ff0000"/>
<rect x="1093" y="519" width="3" height="8" fill="#ff0000"/>
<rect x="1098" y="498" width="1" height="38" fill="#ff0000"/>
<rect x="1097" y="501" width="3" height="19" fill="#ff0000"/>
<rect x="1102" y="488" width="1" height="27" fill="#00ff00"/>
<rect x="1101" y="501" width="3" height="11" fill="#00ff00"/>
<rect x="1106" y="491" width="1" height="21" fill="#ff0000"/>
<rect x="1105" y="496" width="3" height="15" fill="#ff0000"/>
<rect x="1110" y="473" width="1" height="27" fill="#ff0000"/>
<rect x="1109" y="475" width="3" height="21" fill="#ff0000"/>
<rect x="1114" y="474" width="1" height="14" fill="#00ff00"/>
<rect x="1113" y="475" width="3" height="9" fill="#00ff00"/>
<rect x="1118" y="482" width="1" height="21" fill="#00ff00"/>
<rect x="1117" y="483" width="3" height="8" fill="#00ff00"/>
<rect x="1122" y="474" width="1" height="24" fill="#ff0000"/>
<rect x="1121" y="486" width="3" height="5" fill="#ff0000"/>
<rect x="1126" y="479" width="1" height="22" fill="#ff0000"/>
<rect x="1125" y="484" width="3" height="2" fill="#ff0000"/>
<rect x="1130" y="476" width="1" height="5" fill="#ff0000"/>
<rect x="1129" y="477" width="3" height="2" fill="#ff0000"/>
<rect x="1134" y="470" width="1" height="11" fill="#ff0000"/>
<rect x="1133" y="478" width="3" height="2" fill="#ff0000"/>
<rect x="1138" y="474" width="1" height="24" fill="#00ff00"/>
<rect x="1137" y="479" width="3" height="10" fill="#00ff00"/>
<rect x="1142" y="473" width="1" height="21" fill="#ff0000"/>
<rect x="1141" y="482" width="3" height="7" fill="#ff0000"/>
<rect x="1146" y="476" width="1" height="29" fill="#00ff00"/>
<rect x="1145" y="485" width="3" height="14" fill="#00ff00"/>
<rect x="1150" y="493" width="1" height="16" fill="#00ff00"/>
<rect x="1149" y="498" width="3" height="4" fill="#00ff00"/>
<rect x="1154" y="498" width="1" height="6" fill="#ff0000"/>
<rect x="1153" y="498" width="3" height="3" fill="#ff0000"/>
<rect x="1158" y="484" width="1" height="21" fill="#ff0000"/>
<rect x="1157" y="488" width="3" height="14" fill="#ff0000"/>
<rect x="1162" y="483" width="1" height="11" fill="#00ff00"/>
<rect x="1161" y="488" width="3" height="6" fill="#00ff00"/>
<rect x="1166" y="474" width="1" height="25" fill="#ff0000"/>
<rect x="1165" y="484" width="3" height="11" fill="#ff0000"/>
<rect x="1170" y="473" width="1" height="21" fill="#00ff00"/>
<rect x="1169" y="484" width="3" height="6" fill="#00ff00"/>
<rect x="1174" y="478" width="1" height="16" fill="#ff0000"/>
<rect x="1173" y="484" width="3" height="3" fill="#ff0000"/>
<rect x="1178" y="476" width="1" height="9" fill="#ff0000"/>
<rect x="1177" y="478" width="3" height="6" fill="#ff0000"/>
<rect x="1182" y="454" width="1" height="30" fill="#ff0000"/>
<rect x="1181" y="457" width="3" height="27" fill="#ff0000"/>
<rect x="1186" y="440" width="1" height="22" fill="#ff0000"/>
<rect x="1185" y="444" width="3" height="14" fill="#ff0000"/>
<rect x="1190" y="437" width="1" height="15" fill="#ff0000"/>
<rect x="1189" y="440" width="3" height="4" fill="#ff0000"/>
<rect x="1194" y="422" width="1" height="24" fill="#ff0000"/>
<rect x="1193" y="425" width="3" height="16" fill="#ff0000"/>
<rect x="1198" y="419" width="1" height="21" fill="#00ff00"/>
<rect x="1197" y="425" width="3" height="12" fill="#00ff00"/>
<rect x="1202" y="436" width="1" height="7" fill="#00ff00"/>
<rect x="1201" y="436" width="3" height="5" fill="#00ff00"/>
<rect x="1206" y="430" width="1" height="17" fill="#ff0000"/>
<rect x="1205" y="443" width="3" height="2" fill="#ff0000"/>
<rect x="1210" y="441" width="1" height="29" fill="#00ff00"/>
<rect x="1209" y="443" width="3" height="23" fill="#00ff00"/>
<rect x="1214" y="465" width="1" height="19" fill="#00ff00"/>
<rect x="1213" y="467" width="3" height="10" fill="#00ff00"/>
<rect x="1218" y="478" width="1" height="8" fill="#ff0000"/>
<rect x="1217" y="478" width="3" height="2" fill="#ff0000"/>
<rect x="1222" y="464" width="1" height="20" fill="#ff0000"/>
<rect x="1221" y="474" width="3" height="7" fill="#ff0000"/>
<rect x="1226" y="472" width="1" height="7" fill="#ff0000"/>
<rect x="1225" y="472" width="3" height="2" fill="#ff0000"/>
<rect x="1230" y="471" width="1" height="12" fill="#00ff00"/>
<rect x="1229" y="474" width="3" height="8" fill="#00ff00"/>
<rect x="1234" y="468" width="1" height="27" fill="#ff0000"/>
<rect x="1233" y="477" width="3" height="5" fill="#ff0000"/>
<rect x="1238" y="442" width="1" height="36" fill="#ff0000"/>
<rect x="1237" y="446" width="3" height="31" fill="#ff0000"/>
<rect x="1242" y="440" width="1" height="18" fill="#00ff00"/>
<rect x="1241" y="446" width="3" height="4" fill="#00ff00"/>
<rect x="1246" y="448" width="1" height="20" fill="#00ff00"/>
<rect x="1245" y="449" width="3" height="10" fill="#00ff00"/>
<rect x="1250" y="450" width="1" height="14" fill="#ff0000"/>
<rect x="1249" y="452" width="3" height="8" fill="#ff0000"/>
<rect x="1254" y="450" width="1" height="12" fill="#ff0000"/>
<rect x="1253" y="455" width="3" height="3" fill="#ff0000"/>
</g>
<path d="M2 124h3v1h-3zM5 123h3v1h-3zM8 122h2v1h-2zM10 121h2v1h-2zM12 120h2v1h-2zM14 119h3v1h-3zM17 118h4v1h-4zM21 117h12v1h-12zM33 118h4v1h-4zM37 119h2v1h-2zM39 120h2v1h-2zM41 121h1v1h-1zM42 122h2v1h-2zM44 123h2v1h-2zM46 124h2v1h-2zM48 125h2v1h-2zM50 126h1v1h-1zM51 127h1v1h-1zM52 128h1v1h-1zM53 129h1v1h-1zM54 130h1v1h-1zM55 131h1v1h-1zM56 132h1v2h-1zM57 134h1v1h-1zM58 135h1v1h-1zM59 136h1v1h-1zM60 137h1v2h-1zM61 139h1v1h-1zM62 140h1v1h-1zM63 141h1v1h-1zM64 142h1v2h-1zM65 144h1v1h-1zM66 145h1v1h-1zM67 146h1v1h-1zM68 147h1v2h-1zM69 149h1v1h-1zM70 150h1v1h-1zM71 151h2v1h-2zM73 152h1v1h-1zM74 153h1v1h-1zM75 154h2v1h-2zM77 155h1v1h-1zM78 156h1v1h-1zM79 157h2v1h-2zM81 158h1v1h-1zM82 159h1v1h-1zM83 160h1v1h-1zM84 161h1v2h-1zM85 163h1v1h-1zM86 164h3v1h-3zM89 165h4v1h-4zM93 166h8v1h-8zM101 165h4v1h-4zM105 164h14v1h-14zM119 165h2v1h-2zM121 166h1v1h-1zM122 167h1v1h-1zM123 168h2v1h-2zM125 169h1v1h-1zM126 170h1v1h-1zM127 171h1v1h-1zM128 172h1v1h-1zM129 173h1v1h-1zM130 174h2v1h-2zM132 175h2v1h-2zM134 176h2v1h-2zM136 177h2v1h-2zM138 178h3v1h-3zM141 179h8v1h-8zM149 178h3v1h-3zM152 177h2v1h-2zM154 176h2v1h-2zM156 175h2v1h-2zM158 174h1v1h-1zM159 173h2v1h-2zM161 172h1v1h-1zM162 171h2v1h-2zM164 170h2v1h-2zM166 169h2v1h-2zM168 168h2v1h-2zM170 167h1v1h-1zM171 166h1v1h-1zM172 165h1v1h-1zM173 164h1v1h-1zM174 163h1v1h-1zM175 162h1v1h-1zM176 161h1v1h-1zM177 160h1v1h-1zM178 159h1v1h-1zM179 158h1v1h-1zM180 156h1v2h-1zM181 155h1v1h-1zM182 154h1v1h-1zM183 153h1v1h-1zM184 152h1v1h-1zM185 151h1v1h-1zM186 150h1v1h-1zM187 149h1v1h-1zM188 148h1v1h-1zM189 147h1v1h-1zM190 146h2v1h-2zM192 145h2v1h-2zM194 144h2v1h-2zM196 143h2v1h-2zM198 142h3v1h-3zM201 141h2v1h-2zM203 140h2v1h-2zM205 139h1v1h-1zM206 138h3v1h-3zM209 137h7v1h-7zM216 138h2v1h-2zM218 139h2v1h-2zM220 140h2v1h-2zM222 141h2v1h-2zM224 142h2v1h-2zM226 143h3v1h-3zM229 144h4v1h-4zM233 145h12v1h-12zM245 144h4v1h-4zM249 143h4v1h-4zM253 142h4v1h-4zM257 141h4v1h-4zM261 140h4v1h-4zM265 139h3v1h-3zM268 140h2v1h-2zM270 141h7v1h-7zM277 142h8v1h-8zM285 143h4v1h-4zM289 142h3v1h-3zM292 141h2v1h-2zM294 140h7v1h-7zM301 139h3v1h-3zM304 138h2v1h-2zM306 137h11v1h-11zM317 136h4v1h-4zM321 135h15v1h-15zM336 136h2v1h-2zM338 137h2v1h-2zM340 138h2v1h-2zM342 139h2v1h-2zM344 140h2v1h-2zM346 141h2v1h-2zM348 142h2v1h-2zM350 143h3v1h-3zM353 144h3v1h-3zM356 145h2v1h-2zM358 146h2v1h-2zM360 147h2v1h-2zM362 148h3v1h-3zM365 147h7v1h-7zM372 148h2v1h-2zM374 149h1v1h-1zM375 150h2v1h-2zM377 151h1v1h-1zM378 152h1v1h-1zM379 153h1v1h-1zM380 154h1v1h-1zM381 155h1v1h-1zM382 156h1v1h-1zM383 157h1v1h-1zM384 158h1v2h-1zM385 160h1v1h-1zM386 161h1v1h-1zM387 162h2v1h-2zM389 163h1v1h-1zM390 164h2v1h-2zM392 165h2v1h-2zM394 166h1v1h-1zM395 167h2v1h-2zM397 168h1v1h-1zM398 169h1v1h-1zM399 170h2v1h-2zM401 171h1v1h-1zM402 172h1v1h-1zM403 173h2v1h-2zM405 174h1v1h-1zM406 175h1v1h-1zM407 176h2v1h-2zM409 177h1v1h-1zM410 178h1v1h-1zM411 179h2v1h-2zM413 180h1v1h-1zM414 181h1v1h-1zM415 182h2v1h-2zM417 183h1v1h-1zM418 184h1v1h-1zM419 185h2v1h-2zM421 186h1v1h-1zM422 187h1v1h-1zM423 188h1v1h-1zM424 189h1v1h-1zM425 190h1v1h-1zM426 191h1v1h-1zM427 192h2v1h-2zM429 193h1v1h-1zM430 194h1v1h-1zM431 195h2v1h-2zM433 196h1v1h-1zM434 197h1v1h-1zM435 198h2v1h-2zM437 199h1v1h-1zM438 200h1v1h-1zM439 201h1v1h-1zM440 202h1v1h-1zM441 203h1v1h-1zM442 204h1v1h-1zM443 205h2v1h-2zM445 206h1v1h-1zM446 207h1v1h-1zM447 208h2v1h-2zM449 209h1v1h-1zM450 210h1v1h-1zM451 211h2v1h-2zM453 212h1v1h-1zM454 213h1v1h-1zM455 214h2v1h-2zM457 215h1v1h-1zM458 216h2v1h-2zM460 217h2v1h-2zM462 218h1v1h-1zM463 219h2v1h-2zM465 220h1v1h-1zM466 221h2v1h-2zM468 222h2v1h-2zM470 223h1v1h-1zM471 224h1v1h-1zM472 225h1v1h-1zM473 226h1v1h-1zM474 227h1v1h-1zM475 228h2v1h-2zM477 229h1v1h-1zM478 230h2v1h-2zM480 231h2v1h-2zM482 232h1v1h-1zM483 233h2v1h-2zM485 234h1v1h-1zM486 235h1v1h-1zM487 236h2v1h-2zM489 237h1v1h-1zM490 238h1v1h-1zM491 239h2v1h-2zM493 240h1v1h-1zM494 241h3v1h-3zM497 242h8v1h-8zM505 241h3v1h-3zM508 242h2v1h-2zM510 243h1v1h-1zM511 244h2v1h-2zM513 245h1v1h-1zM514 246h3v1h-3zM517 247h3v1h-3zM520 248h2v1h-2zM522 249h1v1h-1zM523 250h1v1h-1zM524 251h1v1h-1zM525 252h1v1h-1zM526 253h1v1h-1zM527 254h2v1h-2zM529 255h1v1h-1zM530 256h1v1h-1zM531 257h1v1h-1zM532 258h1v2h-1zM533 260h1v1h-1zM534 261h1v1h-1zM535 262h1v1h-1zM536 263h1v1h-1zM537 264h1v1h-1zM538 265h1v1h-1zM539 266h1v1h-1zM540 267h1v1h-1zM541 268h1v1h-1zM542 269h1v1h-1zM543 270h2v1h-2zM545 271h1v1h-1zM546 272h1v1h-1zM547 273h1v1h-1zM548 274h1v2h-1zM549 276h1v1h-1zM550 277h1v1h-1zM551 278h1v1h-1zM552 279h1v2h-1zM553 281h1v1h-1zM554 282h1v1h-1zM555 283h1v2h-1zM556 285h1v1h-1zM557 286h1v2h-1zM558 288h1v1h-1zM559 289h1v1h-1zM560 290h1v1h-1zM561 291h1v1h-1zM562 292h1v1h-1zM563 293h1v1h-1zM564 294h1v2h-1zM565 296h1v1h-1zM566 297h1v1h-1zM567 298h1v1h-1zM568 299h1v1h-1zM569 300h1v1h-1zM570 301h1v1h-1zM571 302h1v2h-1zM572 304h1v1h-1zM573 305h1v2h-1zM574 307h1v1h-1zM575 308h1v1h-1zM576 309h1v2h-1zM577 311h1v1h-1zM578 312h1v1h-1zM579 313h1v1h-1zM580 314h1v2h-1zM581 316h1v1h-1zM582 317h1v1h-1zM583 318h1v1h-1zM584 319h1v1h-1zM585 320h1v1h-1zM586 321h1v1h-1zM587 322h1v1h-1zM588 323h1v1h-1zM589 324h1v1h-1zM590 325h1v1h-1zM591 326h2v1h-2zM593 327h1v1h-1zM594 328h1v1h-1zM595 329h1v1h-1zM596 330h1v1h-1zM597 331h1v1h-1zM598 332h1v1h-1zM599 333h1v1h-1zM600 334h1v1h-1zM601 335h1v1h-1zM602 336h1v1h-1zM603 337h1v1h-1zM604 338h1v2h-1zM605 340h1v1h-1zM606 341h1v1h-1zM607 342h1v1h-1zM608 343h1v1h-1zM609 344h1v1h-1zM610 345h1v1h-1zM611 346h1v1h-1zM612 347h1v2h-1zM613 349h1v1h-1zM614 350h1v1h-1zM615 351h1v1h-1zM616 352h1v2h-1zM617 354h1v1h-1zM618 355h1v1h-1zM619 356h1v1h-1zM620 357h1v2h-1zM621 359h1v1h-1zM622 360h1v1h-1zM623 361h1v1h-1zM624 362h1v2h-1zM625 364h1v1h-1zM626 365h1v1h-1zM627 366h1v1h-1zM628 367h1v1h-1zM629 368h1v1h-1zM630 369h1v1h-1zM631 370h2v1h-2zM633 371h1v1h-1zM634 372h1v1h-1zM635 373h1v1h-1zM636 374h1v1h-1zM637 375h1v1h-1zM638 376h1v1h-1zM639 377h1v1h-1zM640 378h1v1h-1zM641 379h1v1h-1zM642 380h1v1h-1zM643 381h2v1h-2zM645 382h1v1h-1zM646 383h2v1h-2zM648 384h2v1h-2zM650 385h1v1h-1zM651 386h2v1h-2zM653 387h1v1h-1zM654 388h2v1h-2zM656 389h2v1h-2zM658 390h1v1h-1zM659 391h2v1h-2zM661 392h1v1h-1zM662 393h3v1h-3zM665 394h4v1h-4zM669 395h24v1h-24zM693 394h8v1h-8zM701 395h7v1h-7zM708 396h2v1h-2zM710 397h3v1h-3zM713 398h20v1h-20zM733 397h2v1h-2zM735 396h2v1h-2zM737 395h1v1h-1zM738 394h2v1h-2zM740 393h2v1h-2zM742 392h2v1h-2zM744 391h2v1h-2zM746 390h2v1h-2zM748 389h2v1h-2zM750 388h1v1h-1zM751 387h2v1h-2zM753 386h1v1h-1zM754 385h2v1h-2zM756 384h2v1h-2zM758 383h2v1h-2zM760 382h2v1h-2zM762 381h3v1h-3zM765 380h4v1h-4zM769 379h2v1h-2zM771 378h2v1h-2zM773 377h1v1h-1zM774 376h2v1h-2zM776 375h2v1h-2zM778 374h2v1h-2zM780 373h2v1h-2zM782 372h3v1h-3zM785 371h4v1h-4zM789 370h4v1h-4zM793 369h4v1h-4zM797 370h8v1h-8zM805 371h12v1h-12zM817 370h4v1h-4zM821 369h8v1h-8zM829 368h4v1h-4zM833 369h12v1h-12zM845 370h4v1h-4zM849 371h4v1h-4zM853 372h3v1h-3zM856 373h2v1h-2zM858 374h2v1h-2zM860 375h2v1h-2zM862 376h3v1h-3zM865 377h3v1h-3zM868 378h2v1h-2zM870 379h2v1h-2zM872 380h2v1h-2zM874 381h6v1h-6zM880 382h2v1h-2zM882 383h3v1h-3zM885 384h4v1h-4zM889 385h2v1h-2zM891 386h2v1h-2zM893 387h1v1h-1zM894 388h1v1h-1zM895 389h2v1h-2zM897 390h1v1h-1zM898 391h3v1h-3zM901 392h12v1h-12zM913 393h4v1h-4zM917 392h8v1h-8zM925 391h4v1h-4zM929 392h8v1h-8zM937 393h8v1h-8zM945 394h4v1h-4zM949 393h4v1h-4zM953 392h24v1h-24zM977 393h3v1h-3zM980 394h2v1h-2zM982 395h1v1h-1zM983 396h1v1h-1zM984 397h1v1h-1zM985 398h1v1h-1zM986 399h1v1h-1zM987 400h2v1h-2zM989 401h1v1h-1zM990 402h1v1h-1zM991 403h1v1h-1zM992 404h1v1h-1zM993 405h1v1h-1zM994 406h1v1h-1zM995 407h1v1h-1zM996 408h1v2h-1zM997 410h1v1h-1zM998 411h1v1h-1zM999 412h2v1h-2zM1001 413h1v1h-1zM1002 414h1v1h-1zM1003 415h2v1h-2zM1005 416h1v1h-1zM1006 417h1v1h-1zM1007 418h2v1h-2zM1009 419h1v1h-1zM1010 420h3v1h-3zM1013 421h3v1h-3zM1016 422h2v1h-2zM1018 423h1v1h-1zM1019 424h2v1h-2zM1021 425h1v1h-1zM1022 426h1v1h-1zM1023 427h1v1h-1zM1024 428h1v1h-1zM1025 429h1v1h-1zM1026 430h1v1h-1zM1027 431h1v1h-1zM1028 432h1v1h-1zM1029 433h1v1h-1zM1030 434h1v1h-1zM1031 435h1v1h-1zM1032 436h1v2h-1zM1033 438h1v1h-1zM1034 439h1v1h-1zM1035 440h1v1h-1zM1036 441h1v1h-1zM1037 442h1v1h-1zM1038 443h1v1h-1zM1039 444h1v1h-1zM1040 445h1v1h-1zM1041 446h1v1h-1zM1042 447h1v1h-1zM1043 448h2v1h-2zM1045 449h1v1h-1zM1046 450h1v1h-1zM1047 451h2v1h-2zM1049 452h1v1h-1zM1050 453h1v1h-1zM1051 454h2v1h-2zM1053 455h1v1h-1zM1054 456h1v1h-1zM1055 457h2v1h-2zM1057 458h1v1h-1zM1058 459h1v1h-1zM1059 460h2v1h-2zM1061 461h1v1h-1zM1062 462h1v1h-1zM1063 463h2v1h-2zM1065 464h1v1h-1zM1066 465h1v1h-1zM1067 466h1v1h-1zM1068 467h1v1h-1zM1069 468h1v1h-1zM1070 469h1v1h-1zM1071 470h1v1h-1zM1072 471h1v2h-1zM1073 473h1v1h-1zM1074 474h1v1h-1zM1075 475h2v1h-2zM1077 476h1v1h-1zM1078 477h1v1h-1zM1079 478h2v1h-2zM1081 479h1v1h-1zM1082 480h1v1h-1zM1083 481h1v1h-1zM1084 482h1v1h-1zM1085 483h1v1h-1zM1086 484h1v1h-1zM1087 485h1v1h-1zM1088 486h1v1h-1zM1089 487h1v1h-1zM1090 488h1v1h-1zM1091 489h2v1h-2zM1093 490h1v1h-1zM1094 491h2v1h-2zM1096 492h2v1h-2zM1098 493h2v1h-2zM1100 494h2v1h-2zM1102 495h3v1h-3zM1105 496h24v1h-24zM1129 495h28v1h-28zM1157 494h24v1h-24zM1181 493h4v1h-4zM1185 492h3v1h-3zM1188 491h2v1h-2zM1190 490h1v1h-1zM1191 489h2v1h-2zM1193 488h1v1h-1zM1194 487h1v1h-1zM1195 486h2v1h-2zM1197 485h1v1h-1zM1198 484h2v1h-2zM1200 483h2v1h-2zM1202 482h2v1h-2zM1204 481h2v1h-2zM1206 480h2v1h-2zM1208 479h2v1h-2zM1210 478h2v1h-2zM1212 477h2v1h-2zM1214 476h3v1h-3zM1217 475h4v1h-4zM1221 474h4v1h-4zM1225 473h4v1h-4zM1229 474h4v1h-4zM1233 473h4v1h-4zM1237 472h4v1h-4zM1241 471h4v1h-4zM1245 470h4v1h-4zM1249 469h4v1h-4zM1253 468h2v1h-2z" fill="#0000cd" shape-rendering="crispEdges"/>
<path d="M2 101h3v1h-3zM5 100h3v1h-3zM8 99h2v1h-2zM10 98h11v1h-11zM21 97h2v1h-2zM23 98h2v1h-2zM25 99h1v1h-1zM26 100h1v1h-1zM27 101h2v1h-2zM29 102h1v1h-1zM30 103h1v1h-1zM31 104h1v1h-1zM32 105h1v1h-1zM33 106h1v1h-1zM34 107h1v1h-1zM35 108h1v2h-1zM36 110h1v2h-1zM37 112h1v2h-1zM38 114h1v2h-1zM39 116h1v2h-1zM40 118h1v2h-1zM41 120h1v2h-1zM42 122h1v2h-1zM43 124h1v2h-1zM44 126h1v2h-1zM45 128h1v2h-1zM46 130h1v2h-1zM47 132h1v2h-1zM48 134h1v3h-1zM49 137h1v2h-1zM50 139h1v3h-1zM51 142h1v4h-1zM52 146h1v3h-1zM53 149h1v4h-1zM54 153h1v3h-1zM55 156h1v3h-1zM56 159h1v4h-1zM57 163h1v3h-1zM58 166h1v3h-1zM59 169h1v4h-1zM60 173h1v4h-1zM61 177h1v4h-1zM62 181h1v3h-1zM63 184h1v4h-1zM64 188h1v3h-1zM65 191h1v4h-1zM66 195h1v3h-1zM67 198h1v3h-1zM68 201h1v3h-1zM69 204h1v3h-1zM70 207h1v2h-1zM71 209h1v2h-1zM72 211h1v2h-1zM73 213h1v2h-1zM74 215h1v1h-1zM75 216h1v2h-1zM76 218h1v2h-1zM77 220h1v2h-1zM78 222h1v1h-1zM79 223h1v1h-1zM80 224h1v1h-1zM81 225h1v1h-1zM82 226h1v1h-1zM83 227h1v2h-1zM84 229h1v2h-1zM85 231h1v2h-1zM86 233h5v1h-5zM91 232h1v1h-1zM92 231h1v1h-1zM93 230h1v1h-1zM94 228h1v2h-1zM95 226h1v2h-1zM96 224h1v2h-1zM97 222h1v2h-1zM98 219h1v3h-1zM99 217h1v2h-1zM100 214h1v3h-1zM101 212h1v2h-1zM102 209h1v3h-1zM103 206h1v3h-1zM104 204h1v2h-1zM105 201h1v3h-1zM106 198h1v3h-1zM107 194h1v4h-1zM108 191h1v3h-1zM109 187h1v4h-1zM110 184h1v3h-1zM111 180h1v4h-1zM112 177h1v3h-1zM113 173h1v4h-1zM114 170h1v3h-1zM115 166h1v4h-1zM116 163h1v3h-1zM117 159h1v4h-1zM118 156h1v3h-1zM119 154h1v2h-1zM120 151h1v3h-1zM121 149h1v2h-1zM122 147h1v2h-1zM123 146h1v1h-1zM124 144h1v2h-1zM125 143h1v1h-1zM126 142h6v1h-6zM132 141h2v1h-2zM134 140h2v1h-2zM136 139h2v1h-2zM138 138h1v1h-1zM139 136h1v2h-1zM140 134h1v2h-1zM141 132h1v2h-1zM142 131h2v1h-2zM144 130h2v1h-2zM146 129h2v1h-2zM148 128h2v1h-2zM150 127h1v1h-1zM151 128h2v1h-2zM153 129h1v1h-1zM154 130h1v1h-1zM155 131h2v1h-2zM157 132h1v1h-1zM158 133h1v1h-1zM159 134h1v2h-1zM160 136h1v1h-1zM161 137h1v2h-1zM162 139h1v1h-1zM163 140h2v1h-2zM165 141h1v1h-1zM166 142h1v1h-1zM167 143h1v1h-1zM168 144h1v2h-1zM169 146h1v1h-1zM170 147h1v1h-1zM171 148h1v1h-1zM172 149h1v1h-1zM173 150h1v1h-1zM174 151h5v1h-5zM179 150h1v1h-1zM180 149h1v1h-1zM181 148h1v1h-1zM182 147h2v1h-2zM184 146h2v1h-2zM186 145h3v1h-3zM189 144h3v1h-3zM192 143h2v1h-2zM194 142h6v1h-6zM200 143h2v1h-2zM202 144h1v1h-1zM203 145h2v1h-2zM205 146h1v1h-1zM206 147h2v1h-2zM208 148h2v1h-2zM210 149h2v1h-2zM212 150h2v1h-2zM214 151h3v1h-3zM217 150h4v1h-4zM221 149h2v1h-2zM223 148h2v1h-2zM225 147h1v1h-1zM226 146h1v1h-1zM227 145h2v1h-2zM229 144h1v1h-1zM230 143h1v1h-1zM231 142h2v1h-2zM233 141h1v1h-1zM234 140h1v1h-1zM235 139h2v1h-2zM237 138h1v1h-1zM238 137h2v1h-2zM240 136h2v1h-2zM242 135h2v1h-2zM244 136h2v1h-2zM246 137h2v1h-2zM248 138h2v1h-2zM250 139h7v1h-7zM257 138h3v1h-3zM260 137h2v1h-2zM262 136h2v1h-2zM264 135h2v1h-2zM266 134h7v1h-7zM273 135h4v1h-4zM277 136h3v1h-3zM280 137h2v1h-2zM282 138h2v1h-2zM284 139h2v1h-2zM286 140h7v1h-7zM293 141h4v1h-4zM297 140h2v1h-2zM299 139h2v1h-2zM301 138h1v1h-1zM302 137h1v1h-1zM303 136h1v1h-1zM304 135h1v1h-1zM305 134h1v1h-1zM306 133h7v1h-7zM313 134h4v1h-4zM317 135h12v1h-12zM329 136h4v1h-4zM333 137h4v1h-4zM337 138h2v1h-2zM339 139h2v1h-2zM341 140h1v1h-1zM342 141h1v1h-1zM343 142h2v1h-2zM345 143h1v1h-1zM346 144h1v1h-1zM347 145h2v1h-2zM349 146h1v1h-1zM350 147h1v1h-1zM351 148h2v1h-2zM353 149h1v1h-1zM354 150h1v1h-1zM355 151h2v1h-2zM357 152h1v1h-1zM358 153h1v1h-1zM359 154h1v1h-1zM360 155h1v2h-1zM361 157h1v1h-1zM362 158h3v1h-3zM365 159h3v1h-3zM368 160h2v1h-2zM370 161h1v1h-1zM371 162h1v1h-1zM372 163h1v2h-1zM373 165h1v1h-1zM374 166h1v1h-1zM375 167h1v2h-1zM376 169h1v2h-1zM377 171h1v2h-1zM378 173h1v2h-1zM379 175h1v2h-1zM380 177h1v2h-1zM381 179h1v2h-1zM382 181h1v2h-1zM383 183h1v2h-1zM384 185h1v2h-1zM385 187h1v2h-1zM386 189h1v2h-1zM387 191h1v2h-1zM388 193h1v1h-1zM389 194h1v2h-1zM390 196h1v1h-1zM391 197h2v1h-2zM393 198h1v1h-1zM394 199h1v1h-1zM395 200h2v1h-2zM397 201h1v1h-1zM398 202h1v1h-1zM399 203h1v1h-1zM400 204h1v1h-1zM401 205h1v1h-1zM402 206h1v1h-1zM403 207h2v1h-2zM405 208h1v1h-1zM406 209h1v1h-1zM407 210h1v1h-1zM408 211h1v1h-1zM409 212h1v1h-1zM410 213h2v1h-2zM412 214h2v1h-2zM414 215h2v1h-2zM416 216h2v1h-2zM418 217h1v1h-1zM419 218h1v1h-1zM420 219h1v2h-1zM421 221h1v1h-1zM422 222h1v1h-1zM423 223h1v1h-1zM424 224h1v2h-1zM425 226h1v1h-1zM426 227h1v1h-1zM427 228h2v1h-2zM429 229h1v1h-1zM430 230h7v1h-7zM437 229h2v1h-2zM439 228h2v1h-2zM441 227h1v1h-1zM442 226h3v1h-3zM445 227h3v1h-3zM448 228h2v1h-2zM450 229h2v1h-2zM452 230h2v1h-2zM454 231h3v1h-3zM457 232h4v1h-4zM461 233h3v1h-3zM464 234h2v1h-2zM466 235h1v1h-1zM467 236h1v1h-1zM468 237h1v1h-1zM469 238h1v1h-1zM470 239h1v1h-1zM471 240h2v1h-2zM473 241h1v1h-1zM474 242h1v1h-1zM475 243h2v1h-2zM477 244h1v1h-1zM478 245h3v1h-3zM481 246h3v1h-3zM484 247h2v1h-2zM486 248h2v1h-2zM488 249h2v1h-2zM490 250h2v1h-2zM492 251h2v1h-2zM494 252h1v1h-1zM495 253h2v1h-2zM497 254h1v1h-1zM498 255h2v1h-2zM500 256h2v1h-2zM502 257h3v1h-3zM505 258h3v1h-3zM508 259h2v1h-2zM510 260h1v1h-1zM511 261h2v1h-2zM513 262h1v1h-1zM514 263h3v1h-3zM517 264h2v1h-2zM519 265h1v1h-1zM520 266h1v1h-1zM521 267h1v1h-1zM522 268h1v1h-1zM523 269h1v1h-1zM524 270h1v1h-1zM525 271h1v1h-1zM526 272h1v1h-1zM527 273h1v1h-1zM528 274h1v1h-1zM529 275h1v1h-1zM530 276h1v1h-1zM531 277h1v1h-1zM532 278h1v2h-1zM533 280h1v1h-1zM534 281h1v1h-1zM535 282h1v2h-1zM536 284h1v1h-1zM537 285h1v2h-1zM538 287h1v1h-1zM539 288h1v2h-1zM540 290h1v1h-1zM541 291h1v2h-1zM542 293h1v1h-1zM543 294h1v2h-1zM544 296h1v2h-1zM545 298h1v2h-1zM546 300h1v2h-1zM547 302h1v2h-1zM548 304h1v2h-1zM549 306h1v2h-1zM550 308h1v2h-1zM551 310h1v2h-1zM552 312h1v2h-1zM553 314h1v2h-1zM554 316h1v3h-1zM555 319h1v2h-1zM556 321h1v3h-1zM557 324h1v2h-1zM558 326h1v3h-1zM559 329h1v2h-1zM560 331h1v2h-1zM561 333h1v2h-1zM562 335h1v2h-1zM563 337h1v2h-1zM564 339h1v1h-1zM565 340h1v2h-1zM566 342h1v1h-1zM567 343h1v2h-1zM568 345h1v1h-1zM569 346h1v2h-1zM570 348h1v2h-1zM571 350h1v3h-1zM572 353h1v2h-1zM573 355h1v3h-1zM574 358h1v2h-1zM575 360h1v2h-1zM576 362h1v2h-1zM577 364h1v2h-1zM578 366h1v1h-1zM579 367h1v1h-1zM580 368h1v2h-1zM581 370h1v1h-1zM582 371h1v1h-1zM583 372h2v1h-2zM585 373h1v1h-1zM586 374h2v1h-2zM588 375h2v1h-2zM590 376h2v1h-2zM592 377h2v1h-2zM594 378h1v1h-1zM595 379h2v1h-2zM597 380h1v1h-1zM598 381h2v1h-2zM600 382h2v1h-2zM602 383h3v1h-3zM605 384h4v1h-4zM609 385h3v1h-3zM612 386h2v1h-2zM614 387h1v1h-1zM615 388h2v1h-2zM617 389h1v1h-1zM618 390h1v1h-1zM619 391h2v1h-2zM621 392h1v1h-1zM622 393h2v1h-2zM624 394h2v1h-2zM626 395h1v1h-1zM627 394h2v1h-2zM629 393h1v1h-1zM630 392h7v1h-7zM637 393h4v1h-4zM641 394h3v1h-3zM644 395h2v1h-2zM646 396h1v1h-1zM647 397h2v1h-2zM649 398h1v1h-1zM650 399h2v1h-2zM652 400h2v1h-2zM654 401h3v1h-3zM657 402h2v1h-2zM659 403h2v1h-2zM661 404h1v1h-1zM662 405h7v1h-7zM669 404h3v1h-3zM672 403h2v1h-2zM674 402h3v1h-3zM677 401h3v1h-3zM680 400h2v1h-2zM682 399h6v1h-6zM688 398h2v1h-2zM690 397h3v1h-3zM693 396h4v1h-4zM697 397h4v1h-4zM701 396h8v1h-8zM709 395h4v1h-4zM713 394h3v1h-3zM716 393h2v1h-2zM718 392h3v1h-3zM721 391h8v1h-8zM729 392h4v1h-4zM733 391h3v1h-3zM736 390h2v1h-2zM738 389h1v1h-1zM739 388h2v1h-2zM741 387h1v1h-1zM742 386h1v1h-1zM743 385h2v1h-2zM745 384h1v1h-1zM746 383h1v1h-1zM747 382h1v1h-1zM748 381h1v1h-1zM749 380h1v1h-1zM750 379h1v1h-1zM751 377h1v2h-1zM752 375h1v2h-1zM753 373h1v2h-1zM754 372h1v1h-1zM755 371h1v1h-1zM756 370h1v1h-1zM757 369h1v1h-1zM758 368h1v1h-1zM759 367h1v1h-1zM760 366h1v1h-1zM761 365h1v1h-1zM762 364h1v1h-1zM763 363h1v1h-1zM764 362h1v1h-1zM765 361h1v1h-1zM766 360h2v1h-2zM768 359h2v1h-2zM770 358h1v1h-1zM771 357h1v1h-1zM772 356h1v1h-1zM773 355h1v1h-1zM774 354h1v1h-1zM775 353h1v1h-1zM776 352h1v1h-1zM777 351h1v1h-1zM778 350h3v1h-3zM781 349h3v1h-3zM784 348h2v1h-2zM786 347h7v1h-7zM793 348h2v1h-2zM795 349h1v1h-1zM796 350h1v1h-1zM797 351h1v1h-1zM798 352h1v1h-1zM799 353h1v1h-1zM800 354h1v2h-1zM801 356h1v1h-1zM802 357h1v1h-1zM803 358h1v2h-1zM804 360h1v1h-1zM805 361h1v2h-1zM806 363h1v1h-1zM807 364h1v1h-1zM808 365h1v1h-1zM809 366h1v1h-1zM810 367h1v1h-1zM811 368h1v1h-1zM812 369h1v1h-1zM813 370h1v1h-1zM814 371h2v1h-2zM816 372h2v1h-2zM818 373h3v1h-3zM821 374h4v1h-4zM825 375h2v1h-2zM827 376h2v1h-2zM829 377h1v1h-1zM830 378h1v1h-1zM831 379h1v1h-1zM832 380h1v1h-1zM833 381h1v1h-1zM834 382h1v1h-1zM835 383h1v1h-1zM836 384h1v1h-1zM837 385h1v1h-1zM838 386h2v1h-2zM840 387h2v1h-2zM842 388h1v1h-1zM843 389h2v1h-2zM845 390h1v1h-1zM846 391h1v1h-1zM847 392h1v1h-1zM848 393h1v1h-1zM849 394h1v1h-1zM850 395h3v1h-3zM853 396h4v1h-4zM857 397h8v1h-8zM865 396h4v1h-4zM869 395h4v1h-4zM873 394h4v1h-4zM877 393h4v1h-4zM881 394h4v1h-4zM885 393h7v1h-7zM892 394h2v1h-2zM894 395h2v1h-2zM896 396h2v1h-2zM898 397h3v1h-3zM901 396h2v1h-2zM903 395h2v1h-2zM905 394h1v1h-1zM906 393h1v1h-1zM907 392h2v1h-2zM909 391h1v1h-1zM910 390h2v1h-2zM912 389h2v1h-2zM914 388h2v1h-2zM916 387h2v1h-2zM918 386h2v1h-2zM920 387h2v1h-2zM922 388h3v1h-3zM925 389h3v1h-3zM928 390h2v1h-2zM930 391h1v1h-1zM931 392h2v1h-2zM933 393h1v1h-1zM934 394h11v1h-11zM945 393h2v1h-2zM947 392h1v1h-1zM948 390h1v2h-1zM949 389h1v1h-1zM950 388h1v1h-1zM951 387h2v1h-2zM953 386h1v1h-1zM954 385h6v1h-6zM960 386h2v1h-2zM962 387h1v1h-1zM963 388h1v1h-1zM964 389h1v1h-1zM965 390h1v1h-1zM966 391h1v1h-1zM967 392h2v1h-2zM969 393h1v1h-1zM970 394h2v1h-2zM972 395h2v1h-2zM974 396h1v1h-1zM975 397h1v1h-1zM976 398h1v1h-1zM977 399h1v1h-1zM978 400h1v1h-1zM979 401h1v1h-1zM980 402h1v2h-1zM981 404h1v1h-1zM982 405h1v1h-1zM983 406h1v2h-1zM984 408h1v1h-1zM985 409h1v2h-1zM986 411h1v1h-1zM987 412h1v2h-1zM988 414h1v1h-1zM989 415h1v2h-1zM990 417h1v1h-1zM991 418h1v2h-1zM992 420h1v2h-1zM993 422h1v2h-1zM994 424h1v1h-1zM995 425h1v2h-1zM996 427h1v1h-1zM997 428h1v2h-1zM998 430h1v1h-1zM999 431h1v2h-1zM1000 433h1v2h-1zM1001 435h1v2h-1zM1002 437h1v2h-1zM1003 439h1v2h-1zM1004 441h1v2h-1zM1005 443h1v2h-1zM1006 445h1v1h-1zM1007 446h1v2h-1zM1008 448h1v2h-1zM1009 450h1v2h-1zM1010 452h1v1h-1zM1011 453h1v2h-1zM1012 455h1v1h-1zM1013 456h1v2h-1zM1014 458h1v1h-1zM1015 459h1v1h-1zM1016 460h1v2h-1zM1017 462h1v1h-1zM1018 463h1v1h-1zM1019 464h1v1h-1zM1020 465h1v2h-1zM1021 467h1v1h-1zM1022 468h1v1h-1zM1023 469h1v2h-1zM1024 471h1v1h-1zM1025 472h1v2h-1zM1026 474h1v1h-1zM1027 475h1v2h-1zM1028 477h1v1h-1zM1029 478h1v2h-1zM1030 480h1v1h-1zM1031 481h1v1h-1zM1032 482h1v2h-1zM1033 484h1v1h-1zM1034 485h1v1h-1zM1035 486h1v1h-1zM1036 487h1v1h-1zM1037 488h1v1h-1zM1038 489h2v1h-2zM1040 490h2v1h-2zM1042 491h3v1h-3zM1045 492h12v1h-12zM1057 491h4v1h-4zM1061 490h7v1h-7zM1068 491h2v1h-2zM1070 492h2v1h-2zM1072 493h2v1h-2zM1074 494h3v1h-3zM1077 495h4v1h-4zM1081 496h4v1h-4zM1085 497h3v1h-3zM1088 498h2v1h-2zM1090 499h3v1h-3zM1093 500h4v1h-4zM1097 499h3v1h-3zM1100 500h2v1h-2zM1102 501h3v1h-3zM1105 502h4v1h-4zM1109 501h4v1h-4zM1113 502h4v1h-4zM1117 503h7v1h-7zM1124 502h2v1h-2zM1126 501h2v1h-2zM1128 500h2v1h-2zM1130 499h2v1h-2zM1132 498h2v1h-2zM1134 497h3v1h-3zM1137 496h2v1h-2zM1139 495h1v1h-1zM1140 494h1v1h-1zM1141 493h1v1h-1zM1142 492h2v1h-2zM1144 491h2v1h-2zM1146 490h3v1h-3zM1149 489h7v1h-7zM1156 488h2v1h-2zM1158 487h7v1h-7zM1165 488h12v1h-12zM1177 487h3v1h-3zM1180 486h2v1h-2zM1182 485h2v1h-2zM1184 484h2v1h-2zM1186 483h1v1h-1zM1187 482h2v1h-2zM1189 481h1v1h-1zM1190 480h1v1h-1zM1191 479h1v1h-1zM1192 477h1v2h-1zM1193 476h1v1h-1zM1194 475h1v1h-1zM1195 474h2v1h-2zM1197 473h1v1h-1zM1198 472h1v1h-1zM1199 471h1v1h-1zM1200 470h1v1h-1zM1201 469h1v1h-1zM1202 468h1v1h-1zM1203 467h1v1h-1zM1204 466h1v1h-1zM1205 465h1v1h-1zM1206 464h2v1h-2zM1208 463h2v1h-2zM1210 462h3v1h-3zM1213 461h4v1h-4zM1217 460h4v1h-4zM1221 459h4v1h-4zM1225 458h12v1h-12zM1237 457h7v1h-7zM1244 458h2v1h-2zM1246 459h2v1h-2zM1248 460h2v1h-2zM1250 461h3v1h-3zM1253 462h2v1h-2z" fill="#ff0000" shape-rendering="crispEdges"/>
<path d="M2 87h1v1h-1zM3 88h2v1h-2zM5 89h1v1h-1zM6 90h1v1h-1zM7 91h2v1h-2zM9 92h1v1h-1zM10 93h1v1h-1zM11 94h1v1h-1zM12 95h1v1h-1zM13 96h1v1h-1zM14 97h1v1h-1zM15 98h1v2h-1zM16 100h1v1h-1zM17 101h1v2h-1zM18 103h1v1h-1zM19 104h1v1h-1zM20 105h1v1h-1zM21 106h1v1h-1zM22 107h1v1h-1zM23 108h1v2h-1zM24 110h1v2h-1zM25 112h1v2h-1zM26 114h1v2h-1zM27 116h1v2h-1zM28 118h1v2h-1zM29 120h1v2h-1zM30 122h1v2h-1zM31 124h1v2h-1zM32 126h1v3h-1zM33 129h1v2h-1zM34 131h1v3h-1zM35 134h1v4h-1zM36 138h1v4h-1zM37 142h1v4h-1zM38 146h1v4h-1zM39 150h1v5h-1zM40 155h1v4h-1zM41 159h1v5h-1zM42 164h1v4h-1zM43 168h1v3h-1zM44 171h1v3h-1zM45 174h1v3h-1zM46 177h1v3h-1zM47 180h1v4h-1zM48 184h1v4h-1zM49 188h1v4h-1zM50 192h1v5h-1zM51 197h1v6h-1zM52 203h1v6h-1zM53 209h1v6h-1zM54 215h1v5h-1zM55 220h1v5h-1zM56 225h1v5h-1zM57 230h1v5h-1zM58 235h1v5h-1zM59 240h1v5h-1zM60 245h1v6h-1zM61 251h1v5h-1zM62 256h1v5h-1zM63 261h1v5h-1zM64 266h1v4h-1zM65 270h1v5h-1zM66 275h1v4h-1zM67 279h1v3h-1zM68 282h1v2h-1zM69 284h1v3h-1zM70 287h1v2h-1zM71 283h1v4h-1zM72 280h1v3h-1zM73 276h1v4h-1zM74 273h1v3h-1zM75 269h1v4h-1zM76 265h1v4h-1zM77 261h1v4h-1zM78 257h1v4h-1zM79 251h1v6h-1zM80 246h1v5h-1zM81 240h1v6h-1zM82 236h1v4h-1zM83 233h1v3h-1zM84 231h1v2h-1zM85 228h1v3h-1zM86 224h1v4h-1zM87 218h1v6h-1zM88 212h1v6h-1zM89 206h1v6h-1zM90 201h1v5h-1zM91 197h1v4h-1zM92 193h1v4h-1zM93 189h1v4h-1zM94 184h1v5h-1zM95 178h1v6h-1zM96 171h1v7h-1zM97 165h1v6h-1zM98 158h1v7h-1zM99 151h1v7h-1zM100 145h1v6h-1zM101 138h1v7h-1zM102 130h1v8h-1zM103 121h1v9h-1zM104 112h1v9h-1zM105 103h1v9h-1zM106 97h1v6h-1zM107 93h1v4h-1zM108 89h1v4h-1zM109 85h1v4h-1zM110 82h1v3h-1zM111 80h1v2h-1zM112 78h1v2h-1zM113 76h1v2h-1zM114 75h1v1h-1zM115 76h1v2h-1zM116 78h1v1h-1zM117 79h1v2h-1zM118 81h1v3h-1zM119 84h1v5h-1zM120 89h1v4h-1zM121 93h1v5h-1zM122 98h1v6h-1zM123 104h1v7h-1zM124 111h1v8h-1zM125 119h1v7h-1zM126 126h1v7h-1zM127 133h1v6h-1zM128 139h1v6h-1zM129 145h1v6h-1zM130 151h1v6h-1zM131 157h1v4h-1zM132 161h1v5h-1zM133 166h1v4h-1zM134 170h1v4h-1zM135 174h1v3h-1zM136 177h1v3h-1zM137 180h1v3h-1zM138 183h3v1h-3zM138 184h1v1h-1zM141 182h1v1h-1zM142 180h1v2h-1zM143 176h1v4h-1zM144 173h1v3h-1zM145 169h1v4h-1zM146 165h1v4h-1zM147 159h1v6h-1zM148 154h1v5h-1zM149 148h1v6h-1zM150 144h1v4h-1zM151 141h1v3h-1zM152 137h1v4h-1zM153 134h1v3h-1zM154 131h1v3h-1zM155 128h1v3h-1zM156 125h1v3h-1zM157 122h1v3h-1zM158 120h2v1h-2zM158 121h1v1h-1zM160 119h2v1h-2zM162 118h3v1h-3zM165 119h2v1h-2zM166 120h1v1h-1zM167 121h1v3h-1zM168 124h1v2h-1zM169 126h1v3h-1zM170 129h1v3h-1zM171 132h1v2h-1zM172 134h1v2h-1zM173 136h1v2h-1zM174 138h1v3h-1zM175 141h1v2h-1zM176 143h1v3h-1zM177 146h1v2h-1zM178 148h1v2h-1zM179 150h1v1h-1zM180 151h1v1h-1zM181 152h1v1h-1zM182 153h1v2h-1zM183 155h1v2h-1zM184 157h1v2h-1zM185 159h1v2h-1zM186 161h1v2h-1zM187 162h2v1h-2zM189 163h2v1h-2zM191 162h1v1h-1zM192 161h1v1h-1zM193 160h1v1h-1zM194 159h6v1h-6zM200 158h2v1h-2zM202 157h1v1h-1zM203 156h1v1h-1zM204 154h1v2h-1zM205 153h1v1h-1zM206 152h1v1h-1zM207 151h1v1h-1zM208 150h1v1h-1zM209 149h1v1h-1zM210 148h2v1h-2zM212 147h2v1h-2zM214 146h1v1h-1zM215 144h1v2h-1zM216 143h1v1h-1zM217 141h1v2h-1zM218 140h1v1h-1zM219 138h1v2h-1zM220 137h1v1h-1zM221 135h1v2h-1zM222 134h1v1h-1zM223 132h1v2h-1zM224 130h1v2h-1zM225 128h1v2h-1zM226 127h1v1h-1zM227 125h1v2h-1zM228 124h1v1h-1zM229 122h1v2h-1zM230 121h2v1h-2zM232 120h2v1h-2zM234 119h2v1h-2zM236 118h2v1h-2zM238 117h1v1h-1zM239 118h1v2h-1zM240 120h1v2h-1zM241 122h1v2h-1zM242 124h1v2h-1zM243 126h1v3h-1zM244 129h1v4h-1zM245 133h1v3h-1zM246 136h1v3h-1zM247 139h1v3h-1zM248 142h1v3h-1zM249 145h1v3h-1zM250 148h1v3h-1zM251 151h1v2h-1zM252 153h1v2h-1zM253 155h1v2h-1zM254 157h2v1h-2zM256 158h2v1h-2zM258 159h1v1h-1zM259 157h1v2h-1zM260 156h1v1h-1zM261 154h1v2h-1zM262 152h1v2h-1zM263 149h1v3h-1zM264 145h1v4h-1zM265 142h1v3h-1zM266 140h1v2h-1zM267 138h1v2h-1zM268 136h1v2h-1zM269 134h1v2h-1zM270 133h1v1h-1zM271 132h1v1h-1zM272 130h1v2h-1zM273 129h1v1h-1zM274 128h5v1h-5zM279 129h1v2h-1zM280 131h1v1h-1zM281 132h1v2h-1zM282 134h1v1h-1zM283 135h1v1h-1zM284 136h1v1h-1zM285 137h1v1h-1zM286 138h1v1h-1zM287 137h2v1h-2zM289 136h1v1h-1zM290 135h3v1h-3zM293 134h7v1h-7zM300 133h2v1h-2zM302 132h2v1h-2zM304 131h2v1h-2zM306 130h1v1h-1zM307 131h1v2h-1zM308 133h1v2h-1zM309 135h1v2h-1zM310 137h2v1h-2zM312 138h2v1h-2zM314 139h3v1h-3zM317 138h3v1h-3zM320 137h2v1h-2zM322 136h2v1h-2zM324 137h2v1h-2zM326 138h2v1h-2zM328 137h2v1h-2zM330 136h5v1h-5zM334 137h1v1h-1zM335 138h1v2h-1zM336 140h1v2h-1zM337 142h1v2h-1zM338 144h1v2h-1zM339 146h1v2h-1zM340 148h1v2h-1zM341 150h1v2h-1zM342 152h1v3h-1zM343 155h1v2h-1zM344 157h1v2h-1zM345 159h1v2h-1zM346 161h1v1h-1zM347 162h1v1h-1zM348 163h1v1h-1zM349 164h1v1h-1zM350 165h1v1h-1zM351 166h1v2h-1zM352 168h1v2h-1zM353 170h1v2h-1zM354 172h2v1h-2zM356 173h2v1h-2zM358 174h1v1h-1zM359 175h1v1h-1zM360 176h1v1h-1zM361 177h1v1h-1zM362 178h9v1h-9zM371 179h1v1h-1zM372 180h1v2h-1zM373 182h1v1h-1zM374 183h1v2h-1zM375 185h1v3h-1zM376 188h1v2h-1zM377 190h1v3h-1zM378 193h1v3h-1zM379 196h1v2h-1zM380 198h1v2h-1zM381 200h1v2h-1zM382 202h1v4h-1zM383 206h1v5h-1zM384 211h1v6h-1zM385 217h1v5h-1zM386 222h1v4h-1zM387 226h1v2h-1zM388 228h1v2h-1zM389 230h1v2h-1zM390 232h1v2h-1zM391 233h1v1h-1zM392 234h2v1h-2zM394 235h2v1h-2zM396 234h2v1h-2zM398 233h1v1h-1zM399 232h2v1h-2zM401 231h1v1h-1zM402 229h1v2h-1zM403 226h1v3h-1zM404 223h1v3h-1zM405 220h1v3h-1zM406 218h3v1h-3zM406 219h1v1h-1zM409 219h3v1h-3zM412 220h2v1h-2zM414 221h3v1h-3zM417 220h3v1h-3zM420 221h2v1h-2zM422 222h1v1h-1zM423 223h1v2h-1zM424 225h1v1h-1zM425 226h1v2h-1zM426 228h1v1h-1zM427 229h2v1h-2zM429 230h1v1h-1zM430 231h1v1h-1zM431 232h2v1h-2zM433 233h1v1h-1zM434 234h1v1h-1zM435 235h2v1h-2zM437 236h1v1h-1zM438 237h5v1h-5zM443 235h1v2h-1zM444 234h1v1h-1zM445 232h1v2h-1zM446 231h3v1h-3zM449 232h2v1h-2zM451 233h2v1h-2zM453 234h1v1h-1zM454 235h2v1h-2zM456 236h2v1h-2zM458 237h3v1h-3zM461 238h2v1h-2zM463 239h1v1h-1zM464 240h1v2h-1zM465 242h1v1h-1zM466 243h1v1h-1zM467 244h1v1h-1zM468 245h1v2h-1zM469 247h1v1h-1zM470 248h1v1h-1zM471 249h1v1h-1zM472 250h1v1h-1zM473 251h1v1h-1zM474 252h1v1h-1zM475 253h1v2h-1zM476 255h1v1h-1zM477 256h1v2h-1zM478 258h1v1h-1zM479 259h1v1h-1zM480 260h1v2h-1zM481 262h1v1h-1zM482 263h1v1h-1zM483 264h1v1h-1zM484 265h1v1h-1zM485 266h1v1h-1zM486 267h13v1h-13zM499 266h1v1h-1zM500 265h1v1h-1zM501 264h1v1h-1zM502 263h1v1h-1zM503 262h2v1h-2zM505 261h1v1h-1zM506 260h2v1h-2zM508 261h2v1h-2zM510 262h1v1h-1zM511 263h2v1h-2zM513 264h1v1h-1zM514 265h3v1h-3zM517 264h2v1h-2zM518 265h1v1h-1zM519 266h1v2h-1zM520 268h1v2h-1zM521 270h1v2h-1zM522 272h1v3h-1zM523 275h1v3h-1zM524 278h1v3h-1zM525 281h1v3h-1zM526 284h1v3h-1zM527 287h1v3h-1zM528 290h1v3h-1zM529 293h1v3h-1zM530 296h1v3h-1zM531 299h1v4h-1zM532 303h1v3h-1zM533 306h1v4h-1zM534 310h1v3h-1zM535 313h1v4h-1zM536 317h1v4h-1zM537 321h1v4h-1zM538 325h1v3h-1zM539 328h1v3h-1zM540 331h1v2h-1zM541 333h1v3h-1zM542 336h1v3h-1zM543 339h1v2h-1zM544 341h1v3h-1zM545 344h1v2h-1zM546 346h1v3h-1zM547 349h1v2h-1zM548 351h1v2h-1zM549 353h1v2h-1zM550 355h1v3h-1zM551 358h1v2h-1zM552 360h1v2h-1zM553 362h1v2h-1zM554 364h1v3h-1zM555 367h1v2h-1zM556 369h1v2h-1zM557 371h1v2h-1zM558 373h1v2h-1zM559 375h1v2h-1zM560 377h1v1h-1zM561 378h1v2h-1zM562 380h2v1h-2zM564 379h2v1h-2zM566 378h3v1h-3zM569 377h2v1h-2zM571 378h1v2h-1zM572 380h1v1h-1zM573 381h1v2h-1zM574 383h3v1h-3zM577 384h4v1h-4zM581 383h2v1h-2zM583 384h1v2h-1zM584 386h1v1h-1zM585 387h1v2h-1zM586 389h5v1h-5zM590 388h1v1h-1zM591 386h1v2h-1zM592 383h1v3h-1zM593 381h1v2h-1zM594 379h3v1h-3zM594 380h1v1h-1zM597 378h2v1h-2zM599 379h1v1h-1zM600 380h1v1h-1zM601 381h1v1h-1zM602 382h1v1h-1zM603 383h1v1h-1zM604 384h1v1h-1zM605 385h1v1h-1zM606 386h1v1h-1zM607 387h1v1h-1zM608 388h1v2h-1zM609 390h1v1h-1zM610 391h1v2h-1zM611 393h1v2h-1zM612 395h1v2h-1zM613 397h1v2h-1zM614 399h1v2h-1zM615 401h1v2h-1zM616 403h1v2h-1zM617 405h1v2h-1zM618 407h2v1h-2zM620 406h2v1h-2zM622 405h3v1h-3zM625 406h2v1h-2zM627 405h1v1h-1zM628 404h1v1h-1zM629 403h1v1h-1zM630 402h1v1h-1zM631 401h1v1h-1zM632 399h1v2h-1zM633 398h1v1h-1zM634 397h1v1h-1zM635 395h1v2h-1zM636 393h1v2h-1zM637 391h1v2h-1zM638 390h1v1h-1zM639 391h2v1h-2zM641 392h1v1h-1zM642 393h3v1h-3zM645 392h2v1h-2zM647 393h1v1h-1zM648 394h1v2h-1zM649 396h1v1h-1zM650 397h1v1h-1zM651 398h1v2h-1zM652 400h1v2h-1zM653 402h1v2h-1zM654 404h1v1h-1zM655 405h1v1h-1zM656 406h1v2h-1zM657 408h1v1h-1zM658 409h1v1h-1zM659 410h1v2h-1zM660 412h1v1h-1zM661 413h1v2h-1zM662 415h3v1h-3zM665 416h3v1h-3zM668 415h2v1h-2zM670 414h1v1h-1zM671 413h1v1h-1zM672 411h1v2h-1zM673 410h1v1h-1zM674 408h1v2h-1zM675 406h1v2h-1zM676 404h1v2h-1zM677 402h1v2h-1zM678 399h1v3h-1zM679 397h1v2h-1zM680 395h1v2h-1zM681 393h1v2h-1zM682 391h1v2h-1zM683 389h1v2h-1zM684 387h1v2h-1zM685 385h1v2h-1zM686 384h1v1h-1zM687 382h1v2h-1zM688 381h1v1h-1zM689 379h1v2h-1zM690 378h2v1h-2zM692 377h2v1h-2zM694 376h1v1h-1zM695 377h1v2h-1zM696 379h1v1h-1zM697 380h1v2h-1zM698 382h2v1h-2zM700 383h2v1h-2zM702 384h1v1h-1zM703 385h1v1h-1zM704 386h1v2h-1zM705 388h1v1h-1zM706 389h1v2h-1zM707 391h1v2h-1zM708 393h1v2h-1zM709 395h1v2h-1zM710 397h1v2h-1zM711 399h2v1h-2zM713 400h1v1h-1zM714 401h7v1h-7zM721 402h6v1h-6zM727 401h2v1h-2zM729 400h1v1h-1zM730 399h1v1h-1zM731 397h1v2h-1zM732 395h1v2h-1zM733 393h1v2h-1zM734 391h1v2h-1zM735 389h1v2h-1zM736 386h1v3h-1zM737 384h1v2h-1zM738 381h1v3h-1zM739 378h1v3h-1zM740 375h1v3h-1zM741 372h1v3h-1zM742 369h1v3h-1zM743 365h1v4h-1zM744 362h1v3h-1zM745 358h1v4h-1zM746 354h1v4h-1zM747 350h1v4h-1zM748 346h1v4h-1zM749 342h1v4h-1zM750 339h1v3h-1zM751 336h1v3h-1zM752 334h1v2h-1zM753 331h1v3h-1zM754 329h1v2h-1zM755 328h1v1h-1zM756 327h1v1h-1zM757 326h1v1h-1zM758 325h2v1h-2zM760 326h2v1h-2zM762 327h1v1h-1zM763 328h1v2h-1zM764 330h1v1h-1zM765 331h1v2h-1zM766 333h1v2h-1zM767 335h1v2h-1zM768 337h1v3h-1zM769 340h1v2h-1zM770 342h1v2h-1zM771 344h1v2h-1zM772 346h1v2h-1zM773 348h1v2h-1zM774 350h1v1h-1zM775 351h2v1h-2zM777 352h1v1h-1zM778 353h1v1h-1zM779 354h1v1h-1zM780 355h1v2h-1zM781 357h1v1h-1zM782 358h1v1h-1zM783 359h2v1h-2zM785 360h1v1h-1zM786 361h3v1h-3zM789 362h2v1h-2zM791 363h2v1h-2zM793 364h1v1h-1zM794 365h1v2h-1zM795 367h1v2h-1zM796 369h1v2h-1zM797 371h1v2h-1zM798 373h1v2h-1zM799 375h1v1h-1zM800 376h1v2h-1zM801 378h1v1h-1zM802 379h1v1h-1zM803 380h1v1h-1zM804 381h1v2h-1zM805 383h1v1h-1zM806 384h3v1h-3zM809 385h2v1h-2zM811 386h1v1h-1zM812 387h1v2h-1zM813 389h1v1h-1zM814 390h1v1h-1zM815 389h1v1h-1zM816 388h1v1h-1zM817 387h1v1h-1zM818 386h1v1h-1zM819 385h1v1h-1zM820 383h1v2h-1zM821 382h1v1h-1zM822 381h1v1h-1zM823 380h1v1h-1zM824 378h1v2h-1zM825 377h1v1h-1zM826 376h1v1h-1zM827 377h1v1h-1zM828 378h1v2h-1zM829 380h1v1h-1zM830 381h1v1h-1zM831 382h1v1h-1zM832 383h1v2h-1zM833 385h1v1h-1zM834 386h1v2h-1zM835 388h1v2h-1zM836 390h1v2h-1zM837 392h1v2h-1zM838 394h1v2h-1zM839 396h1v2h-1zM840 398h1v1h-1zM841 399h1v2h-1zM842 401h1v2h-1zM843 403h1v2h-1zM844 405h1v2h-1zM845 407h1v2h-1zM846 409h1v2h-1zM847 411h2v1h-2zM849 412h1v1h-1zM850 413h6v1h-6zM856 412h2v1h-2zM858 411h2v1h-2zM860 410h2v1h-2zM862 408h1v2h-1zM863 406h1v2h-1zM864 403h1v3h-1zM865 401h1v2h-1zM866 398h1v3h-1zM867 396h1v2h-1zM868 393h1v3h-1zM869 391h1v2h-1zM870 388h1v3h-1zM871 386h1v2h-1zM872 384h1v2h-1zM873 382h1v2h-1zM874 380h1v2h-1zM875 377h1v3h-1zM876 375h1v2h-1zM877 372h1v3h-1zM878 370h1v2h-1zM879 369h2v1h-2zM881 368h1v1h-1zM882 367h1v1h-1zM883 368h1v1h-1zM884 369h1v2h-1zM885 371h1v1h-1zM886 372h1v2h-1zM887 374h1v2h-1zM888 376h1v2h-1zM889 378h1v2h-1zM890 380h1v3h-1zM891 383h1v4h-1zM892 387h1v4h-1zM893 391h1v4h-1zM894 395h1v4h-1zM895 399h1v4h-1zM896 403h1v4h-1zM897 407h1v4h-1zM898 411h1v3h-1zM899 413h1v1h-1zM900 414h2v1h-2zM902 415h2v1h-2zM904 414h2v1h-2zM906 412h1v2h-1zM907 410h1v2h-1zM908 407h1v3h-1zM909 405h1v2h-1zM910 402h1v3h-1zM911 399h1v3h-1zM912 395h1v4h-1zM913 392h1v3h-1zM914 389h1v3h-1zM915 386h1v3h-1zM916 383h1v3h-1zM917 380h1v3h-1zM918 378h3v1h-3zM918 379h1v1h-1zM921 377h6v1h-6zM927 378h1v2h-1zM928 380h1v2h-1zM929 382h1v2h-1zM930 384h1v1h-1zM931 385h2v1h-2zM933 386h1v1h-1zM934 387h3v1h-3zM937 388h2v1h-2zM939 389h2v1h-2zM941 390h1v1h-1zM942 391h3v1h-3zM945 392h3v1h-3zM948 391h2v1h-2zM950 390h1v1h-1zM951 389h2v1h-2zM953 388h1v1h-1zM954 387h2v1h-2zM956 388h2v1h-2zM958 389h1v1h-1zM959 390h2v1h-2zM961 391h1v1h-1zM962 392h1v1h-1zM963 393h1v2h-1zM964 395h1v1h-1zM965 396h1v2h-1zM966 398h1v2h-1zM967 400h1v2h-1zM968 402h1v2h-1zM969 404h1v2h-1zM970 406h1v1h-1zM971 407h1v1h-1zM972 408h1v2h-1zM973 410h1v1h-1zM974 411h1v2h-1zM975 413h1v2h-1zM976 415h1v2h-1zM977 417h1v2h-1zM978 419h1v2h-1zM979 421h1v2h-1zM980 423h1v2h-1zM981 425h1v2h-1zM982 427h1v3h-1zM983 430h1v3h-1zM984 433h1v4h-1zM985 437h1v3h-1zM986 440h1v3h-1zM987 443h1v3h-1zM988 446h1v2h-1zM989 448h1v3h-1zM990 451h1v3h-1zM991 454h1v3h-1zM992 457h1v4h-1zM993 461h1v3h-1zM994 464h1v3h-1zM995 467h1v2h-1zM996 469h1v3h-1zM997 472h1v2h-1zM998 474h1v2h-1zM999 476h1v2h-1zM1000 478h1v2h-1zM1001 480h1v2h-1zM1002 482h3v1h-3zM1005 483h2v1h-2zM1007 484h2v1h-2zM1009 485h1v1h-1zM1010 486h7v1h-7zM1017 485h6v1h-6zM1023 486h2v1h-2zM1025 487h1v1h-1zM1026 488h2v1h-2zM1028 489h2v1h-2zM1030 490h1v1h-1zM1031 491h1v1h-1zM1032 492h1v2h-1zM1033 494h1v1h-1zM1034 495h1v1h-1zM1035 496h1v1h-1zM1036 497h1v1h-1zM1037 498h1v1h-1zM1038 499h1v1h-1zM1039 500h1v1h-1zM1040 501h1v1h-1zM1041 502h1v1h-1zM1042 503h3v1h-3zM1045 502h2v1h-2zM1047 501h1v1h-1zM1048 500h1v1h-1zM1049 499h1v1h-1zM1050 498h1v1h-1zM1051 497h1v1h-1zM1052 495h1v2h-1zM1053 494h1v1h-1zM1054 493h1v1h-1zM1055 492h1v1h-1zM1056 491h1v1h-1zM1057 490h1v1h-1zM1058 489h1v1h-1zM1059 487h1v2h-1zM1060 485h1v2h-1zM1061 483h1v2h-1zM1062 482h3v1h-3zM1065 481h2v1h-2zM1067 482h1v1h-1zM1068 483h1v1h-1zM1069 484h1v1h-1zM1070 485h1v1h-1zM1071 486h1v2h-1zM1072 488h1v1h-1zM1073 489h1v2h-1zM1074 491h1v1h-1zM1075 492h1v2h-1zM1076 494h1v1h-1zM1077 495h1v2h-1zM1078 497h1v1h-1zM1079 498h1v1h-1zM1080 499h1v2h-1zM1081 501h1v1h-1zM1082 502h1v2h-1zM1083 504h1v2h-1zM1084 506h1v2h-1zM1085 508h1v2h-1zM1086 510h1v2h-1zM1087 512h1v1h-1zM1088 513h1v1h-1zM1089 514h1v1h-1zM1090 515h3v1h-3zM1093 516h4v1h-4zM1097 515h3v1h-3zM1100 516h2v1h-2zM1102 517h1v1h-1zM1103 515h1v2h-1zM1104 513h1v2h-1zM1105 511h1v2h-1zM1106 509h1v2h-1zM1107 507h1v2h-1zM1108 504h1v3h-1zM1109 502h1v2h-1zM1110 500h1v2h-1zM1111 498h1v2h-1zM1112 496h1v2h-1zM1113 494h1v2h-1zM1114 493h2v1h-2zM1116 492h2v1h-2zM1118 491h1v1h-1zM1119 490h1v1h-1zM1120 488h1v2h-1zM1121 487h1v1h-1zM1122 486h2v1h-2zM1124 485h2v1h-2zM1126 484h7v1h-7zM1133 483h4v1h-4zM1137 482h4v1h-4zM1141 481h2v1h-2zM1143 482h2v1h-2zM1145 483h1v1h-1zM1146 484h1v1h-1zM1147 485h1v2h-1zM1148 487h1v1h-1zM1149 488h1v2h-1zM1150 490h1v1h-1zM1151 491h2v1h-2zM1153 492h1v1h-1zM1154 493h5v1h-5zM1159 494h2v1h-2zM1161 495h1v1h-1zM1162 496h1v1h-1zM1163 495h2v1h-2zM1165 494h1v1h-1zM1166 493h1v1h-1zM1167 492h2v1h-2zM1169 491h1v1h-1zM1170 490h1v1h-1zM1171 489h2v1h-2zM1173 488h1v1h-1zM1174 487h2v1h-2zM1176 486h2v1h-2zM1178 485h1v1h-1zM1179 483h1v2h-1zM1180 481h1v2h-1zM1181 479h1v2h-1zM1182 477h1v2h-1zM1183 475h1v2h-1zM1184 473h1v2h-1zM1185 471h1v2h-1zM1186 469h1v2h-1zM1187 467h1v2h-1zM1188 464h1v3h-1zM1189 462h1v2h-1zM1190 459h1v3h-1zM1191 456h1v3h-1zM1192 453h1v3h-1zM1193 450h1v3h-1zM1194 447h1v3h-1zM1195 445h1v2h-1zM1196 443h1v2h-1zM1197 441h1v2h-1zM1198 440h1v1h-1zM1199 439h2v1h-2zM1201 438h1v1h-1zM1202 437h5v1h-5zM1207 438h1v1h-1zM1208 439h1v2h-1zM1209 441h1v1h-1zM1210 442h1v2h-1zM1211 444h1v2h-1zM1212 446h1v3h-1zM1213 449h1v2h-1zM1214 451h1v3h-1zM1215 454h1v2h-1zM1216 456h1v2h-1zM1217 458h1v2h-1zM1218 460h1v2h-1zM1219 462h1v2h-1zM1220 464h1v1h-1zM1221 465h1v2h-1zM1222 467h1v1h-1zM1223 468h1v2h-1zM1224 470h1v1h-1zM1225 471h1v2h-1zM1226 473h1v1h-1zM1227 474h2v1h-2zM1229 475h1v1h-1zM1230 476h5v1h-5zM1235 474h1v2h-1zM1236 473h1v1h-1zM1237 471h1v2h-1zM1238 470h1v1h-1zM1239 469h1v1h-1zM1240 467h1v2h-1zM1241 466h1v1h-1zM1242 465h1v1h-1zM1243 464h2v1h-2zM1245 463h1v1h-1zM1246 462h1v1h-1zM1247 460h1v2h-1zM1248 459h1v1h-1zM1249 457h1v2h-1zM1250 456h1v1h-1zM1251 455h1v1h-1zM1252 454h1v1h-1zM1253 453h1v1h-1zM1254 452h1v1h-1z" fill="#ffa500" shape-rendering="crispEdges"/>
<g shape-rendering="crispEdges">
<rect x="2" y="309" width="1576" height="2" fill="#ff0000"/>
<rect x="2" y="364" width="1576" height="2" fill="#ff0000"/>
<rect x="2" y="420" width="1576" height="2" fill="#ff0000"/>
<rect x="2" y="480" width="1576" height="2" fill="#00ff00"/>
<rect x="2" y="542" width="1576" height="2" fill="#0000ff"/>
</g>
</g>
<rect x="1" y="362" width="6" height="6" fill="#ff0000" shape-rendering="crispEdges"/>
<rect x="3" y="364" width="2" height="2" fill="#fff" shape-rendering="crispEdges"/>
<rect x="1572" y="362" width="6" height="6" fill="#ff0000" shape-rendering="crispEdges"/>
<rect x="1574" y="364" width="2" height="2" fill="#fff" shape-rendering="crispEdges"/>
<rect x="1" y="418" width="6" height="6" fill="#ff0000" shape-rendering="crispEdges"/>
<rect x="3" y="420" width="2" height="2" fill="#fff" shape-rendering="crispEdges"/>
<rect x="1572" y="418" width="6" height="6" fill="#ff0000" shape-rendering="crispEdges"/>
<rect x="1574" y="420" width="2" height="2" fill="#fff" shape-rendering="crispEdges"/>
<rect x="1" y="478" width="6" height="6" fill="#00ff00" shape-rendering="crispEdges"/>
<rect x="3" y="480" width="2" height="2" fill="#fff" shape-rendering="crispEdges"/>
<rect x="1572" y="478" width="6" height="6" fill="#00ff00" shape-rendering="crispEdges"/>
<rect x="1574" y="480" width="2" height="2" fill="#fff" shape-rendering="crispEdges"/>
<rect x="1" y="540" width="6" height="6" fill="#0000ff" shape-rendering="crispEdges"/>
<rect x="3" y="542" width="2" height="2" fill="#fff" shape-rendering="crispEdges"/>
<rect x="1572" y="540" width="6" height="6" fill="#0000ff" shape-rendering="crispEdges"/>
<rect x="1574" y="542" width="2" height="2" fill="#fff" shape-rendering="crispEdges"/>
<path d="M5 35 L12.2 35 L8.6 39 Z" fill="#000"/>
<text x="17.5" y="40" font-size="10.2" fill="#000" stroke="#000" stroke-width="0.18" textLength="63.5" lengthAdjust="spacingAndGlyphs">USDCHF,Daily</text>
<text x="88.2" y="40" font-size="10.2" fill="#000" stroke="#000" stroke-width="0.18" textLength="140.8" lengthAdjust="spacingAndGlyphs">0.89551 0.89731 0.89456 0.89609</text>
<path d="M1257 29 L1266.4 29 L1261.7 33.7 Z" fill="#c0c0c0"/>
<g shape-rendering="crispEdges">
<rect x="1579" y="57" width="2" height="1" fill="#000"/>
<rect x="1579" y="90" width="2" height="1" fill="#000"/>
<rect x="1579" y="123" width="2" height="1" fill="#000"/>
<rect x="1579" y="156" width="2" height="1" fill="#000"/>
<rect x="1579" y="189" width="2" height="1" fill="#000"/>
<rect x="1579" y="222" width="2" height="1" fill="#000"/>
<rect x="1579" y="255" width="2" height="1" fill="#000"/>
<rect x="1579" y="288" width="2" height="1" fill="#000"/>
<rect x="1579" y="321" width="2" height="1" fill="#000"/>
<rect x="1579" y="354" width="2" height="1" fill="#000"/>
<rect x="1579" y="387" width="2" height="1" fill="#000"/>
<rect x="1579" y="420" width="2" height="1" fill="#000"/>
<rect x="1579" y="453" width="2" height="1" fill="#000"/>
<rect x="1579" y="486" width="2" height="1" fill="#000"/>
<rect x="1579" y="519" width="2" height="1" fill="#000"/>
<rect x="1579" y="552" width="2" height="1" fill="#000"/>
</g>
<text x="1584" y="61" font-size="10.2" fill="#000" stroke="#000" stroke-width="0.18" textLength="32.6" lengthAdjust="spacingAndGlyphs">0.98900</text>
<text x="1584" y="94" font-size="10.2" fill="#000" stroke="#000" stroke-width="0.18" textLength="32.6" lengthAdjust="spacingAndGlyphs">0.98140</text>
<text x="1584" y="127" font-size="10.2" fill="#000" stroke="#000" stroke-width="0.18" textLength="32.6" lengthAdjust="spacingAndGlyphs">0.97360</text>
<text x="1584" y="160" font-size="10.2" fill="#000" stroke="#000" stroke-width="0.18" textLength="32.6" lengthAdjust="spacingAndGlyphs">0.96600</text>
<text x="1584" y="193" font-size="10.2" fill="#000" stroke="#000" stroke-width="0.18" textLength="32.6" lengthAdjust="spacingAndGlyphs">0.95820</text>
<text x="1584" y="226" font-size="10.2" fill="#000" stroke="#000" stroke-width="0.18" textLength="32.6" lengthAdjust="spacingAndGlyphs">0.95040</text>
<text x="1584" y="259" font-size="10.2" fill="#000" stroke="#000" stroke-width="0.18" textLength="32.6" lengthAdjust="spacingAndGlyphs">0.94280</text>
<text x="1584" y="292" font-size="10.2" fill="#000" stroke="#000" stroke-width="0.18" textLength="32.6" lengthAdjust="spacingAndGlyphs">0.93500</text>
<text x="1584" y="325" font-size="10.2" fill="#000" stroke="#000" stroke-width="0.18" textLength="32.6" lengthAdjust="spacingAndGlyphs">0.92740</text>
<text x="1584" y="358" font-size="10.2" fill="#000" stroke="#000" stroke-width="0.18" textLength="32.6" lengthAdjust="spacingAndGlyphs">0.91960</text>
<text x="1584" y="391" font-size="10.2" fill="#000" stroke="#000" stroke-width="0.18" textLength="32.6" lengthAdjust="spacingAndGlyphs">0.91200</text>
<text x="1584" y="490" font-size="10.2" fill="#000" stroke="#000" stroke-width="0.18" textLength="32.6" lengthAdjust="spacingAndGlyphs">0.88880</text>
<text x="1584" y="523" font-size="10.2" fill="#000" stroke="#000" stroke-width="0.18" textLength="32.6" lengthAdjust="spacingAndGlyphs">0.88100</text>
<text x="1584" y="556" font-size="10.2" fill="#000" stroke="#000" stroke-width="0.18" textLength="32.6" lengthAdjust="spacingAndGlyphs">0.87340</text>
<rect x="1580" y="304" width="41" height="11" fill="#ff0000" shape-rendering="crispEdges"/>
<text x="1584" y="313" font-size="10.2" fill="#fff" stroke="#fff" stroke-width="0.18" textLength="32.6" lengthAdjust="spacingAndGlyphs">0.93001</text>
<rect x="1580" y="359" width="41" height="11" fill="#ff0000" shape-rendering="crispEdges"/>
<text x="1584" y="368" font-size="10.2" fill="#fff" stroke="#fff" stroke-width="0.18" textLength="32.6" lengthAdjust="spacingAndGlyphs">0.91709</text>
<rect x="1580" y="415" width="41" height="11" fill="#ff0000" shape-rendering="crispEdges"/>
<text x="1584" y="424" font-size="10.2" fill="#fff" stroke="#fff" stroke-width="0.18" textLength="32.6" lengthAdjust="spacingAndGlyphs">0.90406</text>
<rect x="1580" y="450" width="41" height="11" fill="#000000" shape-rendering="crispEdges"/>
<text x="1584" y="459" font-size="10.2" fill="#fff" stroke="#fff" stroke-width="0.18" textLength="32.6" lengthAdjust="spacingAndGlyphs">0.89609</text>
<rect x="1580" y="475" width="41" height="11" fill="#00ff00" shape-rendering="crispEdges"/>
<text x="1584" y="484" font-size="10.2" fill="#fff" stroke="#fff" stroke-width="0.18" textLength="32.6" lengthAdjust="spacingAndGlyphs">0.89006</text>
<rect x="1580" y="537" width="41" height="11" fill="#0000ff" shape-rendering="crispEdges"/>
<text x="1584" y="546" font-size="10.2" fill="#fff" stroke="#fff" stroke-width="0.18" textLength="32.6" lengthAdjust="spacingAndGlyphs">0.87560</text>
<clipPath id="cr"><rect x="2" y="558" width="1576" height="95"/></clipPath>
<g clip-path="url(#cr)">
<line x1="2" x2="1578" y1="587.5" y2="587.5" stroke="#c0c0c0" stroke-width="1" stroke-dasharray="3 3" stroke-dashoffset="3" shape-rendering="crispEdges"/>
<line x1="2" x2="1578" y1="624.5" y2="624.5" stroke="#c0c0c0" stroke-width="1" stroke-dasharray="3 3" stroke-dashoffset="3" shape-rendering="crispEdges"/>
<path d="M2 591h1v2h-1zM3 593h1v2h-1zM4 595h1v3h-1zM5 598h1v2h-1zM6 600h1v2h-1zM7 601h2v1h-2zM9 602h6v1h-6zM15 603h1v1h-1zM16 604h1v1h-1zM17 605h1v1h-1zM18 606h1v1h-1zM19 605h2v1h-2zM21 604h2v1h-2zM22 603h1v1h-1zM23 605h1v4h-1zM24 609h1v4h-1zM25 613h1v4h-1zM26 617h1v2h-1zM27 619h2v1h-2zM29 620h1v1h-1zM30 621h1v1h-1zM31 622h2v1h-2zM33 623h1v1h-1zM34 624h1v1h-1zM35 625h1v2h-1zM36 627h1v1h-1zM37 628h1v2h-1zM38 630h1v1h-1zM39 631h2v1h-2zM41 632h1v1h-1zM42 633h3v1h-3zM45 632h2v1h-2zM47 633h2v1h-2zM49 634h1v1h-1zM50 635h1v1h-1zM51 636h1v1h-1zM52 637h1v2h-1zM53 639h1v1h-1zM54 640h3v1h-3zM57 641h4v1h-4zM61 642h2v1h-2zM63 641h1v1h-1zM64 639h1v2h-1zM65 638h1v1h-1zM66 636h1v2h-1zM67 634h1v2h-1zM68 632h1v2h-1zM69 630h1v2h-1zM70 626h1v4h-1zM71 621h1v5h-1zM72 617h1v4h-1zM73 612h1v5h-1zM74 609h3v1h-3zM74 610h1v2h-1zM77 610h3v1h-3zM80 609h2v1h-2zM82 608h1v1h-1zM83 609h1v2h-1zM84 611h1v2h-1zM85 613h1v2h-1zM86 614h1v2h-1zM87 610h1v4h-1zM88 607h1v3h-1zM89 603h1v4h-1zM90 601h1v2h-1zM91 600h1v1h-1zM92 598h1v2h-1zM93 597h1v1h-1zM94 596h1v1h-1zM95 595h1v1h-1zM96 593h1v2h-1zM97 592h1v1h-1zM98 591h2v1h-2zM100 590h2v1h-2zM102 589h3v1h-3zM105 588h2v1h-2zM107 589h1v2h-1zM108 591h1v1h-1zM109 592h1v2h-1zM110 594h3v1h-3zM113 595h2v1h-2zM115 596h2v1h-2zM117 597h1v1h-1zM118 598h1v2h-1zM119 600h1v2h-1zM120 602h1v3h-1zM121 605h1v2h-1zM122 607h1v2h-1zM123 609h1v1h-1zM124 610h1v1h-1zM125 611h1v1h-1zM126 612h2v1h-2zM128 613h2v1h-2zM130 614h1v1h-1zM131 612h1v2h-1zM132 611h1v1h-1zM133 609h1v2h-1zM134 608h3v1h-3zM137 607h2v1h-2zM139 606h2v1h-2zM141 605h1v1h-1zM142 604h1v1h-1zM143 603h2v1h-2zM145 602h1v1h-1zM146 601h1v1h-1zM147 600h2v1h-2zM149 599h1v1h-1zM150 598h3v1h-3zM153 599h4v1h-4zM157 598h2v1h-2zM159 599h1v2h-1zM160 601h1v1h-1zM161 602h1v2h-1zM162 604h3v1h-3zM165 603h2v1h-2zM167 604h1v1h-1zM168 605h1v1h-1zM169 606h1v1h-1zM170 607h3v1h-3zM173 608h8v1h-8zM181 607h2v1h-2zM183 608h1v1h-1zM184 609h1v2h-1zM185 611h1v1h-1zM186 612h1v1h-1zM187 611h1v1h-1zM188 610h1v1h-1zM189 609h1v1h-1zM190 608h1v1h-1zM191 607h1v1h-1zM192 605h1v2h-1zM193 604h1v1h-1zM194 603h1v1h-1zM195 604h2v1h-2zM197 605h1v1h-1zM198 606h3v1h-3zM201 605h4v1h-4zM205 606h2v1h-2zM207 605h2v1h-2zM209 604h1v1h-1zM210 603h2v1h-2zM212 602h2v1h-2zM214 601h2v1h-2zM216 600h2v1h-2zM218 599h3v1h-3zM221 598h8v1h-8zM229 597h3v1h-3zM232 598h2v1h-2zM234 599h3v1h-3zM237 598h2v1h-2zM238 599h1v1h-1zM239 600h1v3h-1zM240 603h1v2h-1zM241 605h1v3h-1zM242 608h1v2h-1zM243 610h1v2h-1zM244 612h1v2h-1zM245 614h1v2h-1zM246 616h2v1h-2zM248 615h2v1h-2zM250 614h1v1h-1zM251 613h1v1h-1zM252 612h1v1h-1zM253 611h1v1h-1zM254 609h1v2h-1zM255 607h1v2h-1zM256 605h1v2h-1zM257 603h1v2h-1zM258 601h3v1h-3zM258 602h1v1h-1zM261 600h4v1h-4zM265 599h2v1h-2zM267 600h1v2h-1zM268 602h1v1h-1zM269 603h1v2h-1zM270 605h3v1h-3zM273 604h4v1h-4zM277 603h2v1h-2zM279 604h1v1h-1zM280 605h1v2h-1zM281 607h1v1h-1zM282 608h1v1h-1zM283 607h2v1h-2zM285 606h1v1h-1zM286 605h1v1h-1zM287 604h2v1h-2zM289 603h1v1h-1zM290 602h7v1h-7zM297 603h3v1h-3zM300 604h2v1h-2zM302 605h1v1h-1zM303 604h2v1h-2zM305 603h2v1h-2zM306 602h1v1h-1zM307 604h1v2h-1zM308 606h1v3h-1zM309 609h1v2h-1zM310 611h2v1h-2zM310 612h1v1h-1zM311 610h1v1h-1zM312 608h1v2h-1zM313 606h1v2h-1zM314 605h2v1h-2zM316 604h2v1h-2zM318 603h3v1h-3zM321 602h2v1h-2zM323 603h2v1h-2zM325 604h1v1h-1zM326 605h1v1h-1zM327 606h1v1h-1zM328 607h1v2h-1zM329 609h1v1h-1zM330 610h1v1h-1zM331 609h1v1h-1zM332 608h1v1h-1zM333 607h1v1h-1zM334 606h1v1h-1zM335 607h1v2h-1zM336 609h1v2h-1zM337 611h1v2h-1zM338 613h2v1h-2zM340 614h2v1h-2zM342 615h11v1h-11zM353 614h4v1h-4zM357 615h2v1h-2zM359 616h1v1h-1zM360 617h1v2h-1zM361 619h2v1h-2zM362 620h1v1h-1zM363 617h1v2h-1zM364 615h1v2h-1zM365 613h1v2h-1zM366 611h5v1h-5zM366 612h1v1h-1zM371 612h1v2h-1zM372 614h1v1h-1zM373 615h1v2h-1zM374 617h1v1h-1zM375 618h1v2h-1zM376 620h1v2h-1zM377 622h1v2h-1zM378 624h2v1h-2zM380 625h2v1h-2zM382 626h1v1h-1zM383 627h1v1h-1zM384 628h1v1h-1zM385 629h2v1h-2zM386 628h1v1h-1zM386 630h1v1h-1zM387 624h1v4h-1zM388 620h1v4h-1zM389 616h1v4h-1zM390 613h1v3h-1zM391 612h2v1h-2zM393 611h1v1h-1zM394 610h1v1h-1zM395 611h1v1h-1zM396 612h1v1h-1zM397 613h1v1h-1zM398 614h6v1h-6zM404 613h2v1h-2zM406 612h3v1h-3zM409 613h3v1h-3zM412 612h2v1h-2zM414 611h3v1h-3zM417 612h2v1h-2zM419 613h2v1h-2zM421 614h1v1h-1zM422 615h1v1h-1zM423 616h1v1h-1zM424 617h1v1h-1zM425 618h1v1h-1zM426 619h1v1h-1zM427 618h1v1h-1zM428 616h1v2h-1zM429 615h1v1h-1zM430 614h2v1h-2zM432 613h2v1h-2zM434 612h3v1h-3zM437 613h6v1h-6zM443 612h1v1h-1zM444 611h1v1h-1zM445 610h1v1h-1zM446 609h1v1h-1zM447 610h1v1h-1zM448 611h1v1h-1zM449 612h1v1h-1zM450 613h3v1h-3zM453 614h12v1h-12zM465 615h2v1h-2zM467 616h1v1h-1zM468 617h1v1h-1zM469 618h1v1h-1zM470 619h3v1h-3zM473 620h3v1h-3zM476 621h2v1h-2zM478 622h1v1h-1zM479 621h1v1h-1zM480 620h1v1h-1zM481 619h1v1h-1zM482 618h3v1h-3zM485 619h2v1h-2zM487 618h1v1h-1zM488 617h1v1h-1zM489 616h1v1h-1zM490 615h5v1h-5zM495 616h1v1h-1zM496 617h1v1h-1zM497 618h2v1h-2zM498 619h1v1h-1zM499 615h1v3h-1zM500 613h1v2h-1zM501 610h1v3h-1zM502 608h2v1h-2zM502 609h1v1h-1zM504 609h2v1h-2zM506 610h1v1h-1zM507 611h1v1h-1zM508 612h1v2h-1zM509 614h1v1h-1zM510 615h3v1h-3zM513 616h4v1h-4zM517 615h2v1h-2zM519 616h1v2h-1zM520 618h1v1h-1zM521 619h1v2h-1zM522 621h1v1h-1zM523 622h1v1h-1zM524 623h1v1h-1zM525 624h1v1h-1zM526 625h1v1h-1zM527 626h1v1h-1zM528 627h1v1h-1zM529 628h1v1h-1zM530 629h3v1h-3zM533 630h7v1h-7zM540 631h2v1h-2zM542 632h2v1h-2zM544 633h2v1h-2zM546 634h2v1h-2zM548 635h2v1h-2zM550 636h3v1h-3zM553 637h6v1h-6zM559 635h1v2h-1zM560 634h1v1h-1zM561 632h1v2h-1zM562 630h1v2h-1zM563 627h1v3h-1zM564 625h1v2h-1zM565 622h1v3h-1zM566 620h1v2h-1zM567 621h2v1h-2zM569 622h1v1h-1zM570 623h1v1h-1zM571 624h1v2h-1zM572 626h1v2h-1zM573 628h1v2h-1zM574 629h1v2h-1zM575 627h1v2h-1zM576 625h1v2h-1zM577 623h1v2h-1zM578 622h1v1h-1zM579 621h1v1h-1zM580 619h1v2h-1zM581 618h1v1h-1zM582 617h3v1h-3zM585 618h2v1h-2zM587 617h1v1h-1zM588 616h1v1h-1zM589 615h1v1h-1zM590 614h3v1h-3zM593 613h2v1h-2zM595 614h1v1h-1zM596 615h1v2h-1zM597 617h1v1h-1zM598 618h3v1h-3zM601 619h4v1h-4zM605 620h4v1h-4zM609 619h2v1h-2zM611 620h2v1h-2zM613 621h1v1h-1zM614 622h1v1h-1zM615 623h2v1h-2zM617 624h2v1h-2zM618 625h1v1h-1zM619 621h1v3h-1zM620 617h1v4h-1zM621 614h1v3h-1zM622 612h1v2h-1zM623 613h2v1h-2zM625 614h1v1h-1zM626 615h1v1h-1zM627 613h1v2h-1zM628 612h1v1h-1zM629 610h1v2h-1zM630 609h3v1h-3zM633 610h4v1h-4zM637 611h3v1h-3zM640 612h2v1h-2zM642 613h3v1h-3zM645 614h6v1h-6zM651 615h1v1h-1zM652 616h1v1h-1zM653 617h1v1h-1zM654 618h2v1h-2zM656 617h2v1h-2zM658 616h1v1h-1zM659 617h1v1h-1zM660 618h1v2h-1zM661 620h2v1h-2zM662 621h1v1h-1zM663 618h1v2h-1zM664 615h1v3h-1zM665 613h1v2h-1zM666 611h1v2h-1zM667 610h1v1h-1zM668 609h1v1h-1zM669 608h1v1h-1zM670 607h5v1h-5zM675 605h1v2h-1zM676 604h1v1h-1zM677 602h1v2h-1zM678 601h1v1h-1zM679 602h1v1h-1zM680 603h1v1h-1zM681 604h1v1h-1zM682 605h1v1h-1zM683 604h1v1h-1zM684 603h1v1h-1zM685 602h1v1h-1zM686 601h3v1h-3zM689 600h2v1h-2zM691 601h1v1h-1zM692 602h1v2h-1zM693 604h1v1h-1zM694 605h1v1h-1zM695 606h1v2h-1zM696 608h1v1h-1zM697 609h1v2h-1zM698 611h1v1h-1zM699 610h2v1h-2zM701 609h1v1h-1zM702 608h5v1h-5zM707 609h2v1h-2zM709 610h1v1h-1zM710 611h2v1h-2zM712 610h2v1h-2zM714 609h3v1h-3zM717 610h2v1h-2zM719 609h2v1h-2zM721 608h1v1h-1zM722 607h3v1h-3zM725 608h4v1h-4zM729 607h2v1h-2zM730 606h1v1h-1zM731 604h1v2h-1zM732 602h1v2h-1zM733 600h1v2h-1zM734 598h1v2h-1zM735 597h1v1h-1zM736 596h1v1h-1zM737 595h1v1h-1zM738 594h1v1h-1zM739 593h1v1h-1zM740 592h1v1h-1zM741 591h1v1h-1zM742 590h2v1h-2zM744 589h2v1h-2zM746 588h1v1h-1zM747 587h2v1h-2zM749 586h1v1h-1zM750 585h3v1h-3zM753 586h2v1h-2zM754 587h1v1h-1zM755 588h1v2h-1zM756 590h1v2h-1zM757 592h1v2h-1zM758 594h1v1h-1zM759 595h1v1h-1zM760 596h1v2h-1zM761 598h1v1h-1zM762 599h1v1h-1zM763 600h1v1h-1zM764 601h1v1h-1zM765 602h1v1h-1zM766 603h3v1h-3zM769 604h2v1h-2zM771 603h2v1h-2zM773 602h1v1h-1zM774 601h3v1h-3zM777 600h2v1h-2zM778 601h1v1h-1zM779 602h1v2h-1zM780 604h1v2h-1zM781 606h1v2h-1zM782 608h3v1h-3zM785 609h2v1h-2zM787 608h2v1h-2zM789 607h1v1h-1zM790 606h3v1h-3zM793 605h2v1h-2zM794 606h1v1h-1zM795 607h1v2h-1zM796 609h1v3h-1zM797 612h1v2h-1zM798 614h1v2h-1zM799 615h8v1h-8zM806 614h1v1h-1zM807 612h1v2h-1zM808 610h1v2h-1zM809 608h1v2h-1zM810 607h1v1h-1zM811 608h2v1h-2zM813 609h1v1h-1zM814 610h1v1h-1zM815 609h2v1h-2zM817 608h1v1h-1zM818 607h2v1h-2zM820 606h2v1h-2zM822 605h3v1h-3zM825 606h2v1h-2zM826 607h1v1h-1zM827 608h1v2h-1zM828 610h1v2h-1zM829 612h1v2h-1zM830 614h1v1h-1zM831 615h2v1h-2zM833 616h1v1h-1zM834 617h2v1h-2zM836 618h2v1h-2zM838 619h1v1h-1zM839 618h1v1h-1zM840 616h1v2h-1zM841 615h1v1h-1zM842 614h2v1h-2zM844 615h2v1h-2zM846 616h3v1h-3zM849 617h2v1h-2zM851 616h1v1h-1zM852 614h1v2h-1zM853 613h1v1h-1zM854 612h3v1h-3zM857 613h2v1h-2zM859 612h1v1h-1zM860 610h1v2h-1zM861 609h1v1h-1zM862 607h1v2h-1zM863 605h1v2h-1zM864 602h1v3h-1zM865 600h1v2h-1zM866 598h3v1h-3zM866 599h1v1h-1zM869 599h4v1h-4zM873 598h2v1h-2zM875 597h2v1h-2zM877 596h2v1h-2zM878 595h1v1h-1zM879 597h1v3h-1zM880 600h1v2h-1zM881 602h1v3h-1zM882 605h1v2h-1zM883 606h2v1h-2zM885 607h2v1h-2zM887 608h1v2h-1zM888 610h1v2h-1zM889 612h1v2h-1zM890 614h1v1h-1zM891 615h1v2h-1zM892 617h1v1h-1zM893 618h1v2h-1zM894 620h5v1h-5zM898 619h1v1h-1zM899 615h1v4h-1zM900 611h1v4h-1zM901 607h1v4h-1zM902 605h2v1h-2zM902 606h1v1h-1zM904 604h2v1h-2zM906 603h1v1h-1zM907 602h1v1h-1zM908 600h1v2h-1zM909 599h1v1h-1zM910 598h1v1h-1zM911 599h1v1h-1zM912 600h1v2h-1zM913 602h1v1h-1zM914 603h7v1h-7zM921 604h6v1h-6zM927 605h2v1h-2zM929 606h1v1h-1zM930 607h3v1h-3zM933 608h2v1h-2zM935 607h2v1h-2zM937 606h1v1h-1zM938 605h2v1h-2zM940 606h2v1h-2zM942 607h2v1h-2zM944 606h2v1h-2zM946 605h2v1h-2zM948 604h2v1h-2zM950 603h2v1h-2zM952 604h2v1h-2zM954 605h1v1h-1zM955 606h2v1h-2zM957 607h1v1h-1zM958 608h1v1h-1zM959 609h1v1h-1zM960 610h1v1h-1zM961 611h1v1h-1zM962 612h2v1h-2zM964 613h2v1h-2zM966 614h3v1h-3zM969 615h4v1h-4zM973 614h2v1h-2zM975 615h1v1h-1zM976 616h1v2h-1zM977 618h1v1h-1zM978 619h1v1h-1zM979 620h1v1h-1zM980 621h1v2h-1zM981 623h1v1h-1zM982 624h1v1h-1zM983 625h1v1h-1zM984 626h1v2h-1zM985 628h1v1h-1zM986 629h2v1h-2zM988 628h2v1h-2zM990 627h6v1h-6zM996 628h2v1h-2zM998 629h5v1h-5zM1003 628h2v1h-2zM1005 627h1v1h-1zM1006 626h1v1h-1zM1007 627h2v1h-2zM1009 628h2v1h-2zM1010 629h1v1h-1zM1011 626h1v2h-1zM1012 624h1v2h-1zM1013 622h1v2h-1zM1014 620h3v1h-3zM1014 621h1v1h-1zM1017 621h4v1h-4zM1021 622h2v1h-2zM1023 623h2v1h-2zM1025 624h1v1h-1zM1026 625h3v1h-3zM1029 626h4v1h-4zM1033 627h2v1h-2zM1035 626h2v1h-2zM1037 625h1v1h-1zM1038 624h2v1h-2zM1040 625h3v1h-3zM1042 626h1v1h-1zM1043 623h1v2h-1zM1044 620h1v3h-1zM1045 618h1v2h-1zM1046 616h1v2h-1zM1047 615h2v1h-2zM1049 614h1v1h-1zM1050 613h5v1h-5zM1055 612h1v1h-1zM1056 611h1v1h-1zM1057 610h1v1h-1zM1058 609h3v1h-3zM1061 608h2v1h-2zM1063 609h1v1h-1zM1064 610h1v1h-1zM1065 611h1v1h-1zM1066 612h1v1h-1zM1067 613h1v2h-1zM1068 615h1v2h-1zM1069 617h1v2h-1zM1070 619h1v1h-1zM1071 620h2v1h-2zM1073 621h1v1h-1zM1074 622h1v1h-1zM1075 621h2v1h-2zM1077 620h1v1h-1zM1078 619h1v1h-1zM1079 618h2v1h-2zM1081 617h1v1h-1zM1082 616h1v1h-1zM1083 617h1v2h-1zM1084 619h1v2h-1zM1085 621h1v2h-1zM1086 623h5v1h-5zM1091 622h1v1h-1zM1092 621h1v1h-1zM1093 620h1v1h-1zM1094 618h1v2h-1zM1095 616h1v2h-1zM1096 614h1v2h-1zM1097 612h1v2h-1zM1098 610h1v2h-1zM1099 611h1v1h-1zM1100 612h1v1h-1zM1101 613h1v1h-1zM1102 614h1v1h-1zM1103 612h1v2h-1zM1104 610h1v2h-1zM1105 608h1v2h-1zM1106 607h1v1h-1zM1107 605h1v2h-1zM1108 603h1v2h-1zM1109 601h1v2h-1zM1110 600h1v1h-1zM1111 601h2v1h-2zM1113 602h1v1h-1zM1114 603h1v1h-1zM1115 604h2v1h-2zM1117 605h1v1h-1zM1118 606h2v1h-2zM1120 605h2v1h-2zM1122 604h3v1h-3zM1125 603h3v1h-3zM1128 602h2v1h-2zM1130 601h3v1h-3zM1133 602h2v1h-2zM1135 603h1v1h-1zM1136 604h1v1h-1zM1137 605h1v1h-1zM1138 606h1v1h-1zM1139 605h2v1h-2zM1141 604h1v1h-1zM1142 603h1v1h-1zM1143 604h1v2h-1zM1144 606h1v2h-1zM1145 608h1v2h-1zM1146 610h3v1h-3zM1149 611h3v1h-3zM1152 610h2v1h-2zM1154 609h1v1h-1zM1155 608h1v1h-1zM1156 607h1v1h-1zM1157 606h1v1h-1zM1158 605h2v1h-2zM1160 606h2v1h-2zM1162 607h1v1h-1zM1163 606h1v1h-1zM1164 605h1v1h-1zM1165 604h1v1h-1zM1166 603h1v1h-1zM1167 604h2v1h-2zM1169 605h1v1h-1zM1170 606h1v1h-1zM1171 605h2v1h-2zM1173 604h1v1h-1zM1174 603h2v1h-2zM1176 602h2v1h-2zM1178 600h1v2h-1zM1179 598h1v2h-1zM1180 596h1v2h-1zM1181 594h1v2h-1zM1182 593h1v1h-1zM1183 592h2v1h-2zM1185 591h1v1h-1zM1186 590h3v1h-3zM1189 589h2v1h-2zM1191 588h1v1h-1zM1192 587h1v1h-1zM1193 586h1v1h-1zM1194 585h1v1h-1zM1195 586h1v2h-1zM1196 588h1v1h-1zM1197 589h1v2h-1zM1198 591h2v1h-2zM1200 592h2v1h-2zM1202 593h3v1h-3zM1205 594h2v1h-2zM1206 595h1v1h-1zM1207 596h1v3h-1zM1208 599h1v2h-1zM1209 601h1v3h-1zM1210 604h1v2h-1zM1211 606h2v1h-2zM1213 607h1v1h-1zM1214 608h3v1h-3zM1217 609h3v1h-3zM1220 608h2v1h-2zM1222 607h3v1h-3zM1225 606h2v1h-2zM1227 607h1v1h-1zM1228 608h1v1h-1zM1229 609h1v1h-1zM1230 610h2v1h-2zM1232 609h2v1h-2zM1234 607h1v2h-1zM1235 604h1v3h-1zM1236 601h1v3h-1zM1237 598h1v3h-1zM1238 596h2v1h-2zM1238 597h1v1h-1zM1240 597h2v1h-2zM1242 598h1v1h-1zM1243 599h1v1h-1zM1244 600h1v1h-1zM1245 601h1v1h-1zM1246 602h2v1h-2zM1248 601h2v1h-2zM1250 600h3v1h-3zM1253 601h2v1h-2z" fill="#1e90ff" shape-rendering="crispEdges"/>
</g>
<text x="6.2" y="570" font-size="10.2" fill="#000" stroke="#000" stroke-width="0.18" textLength="67.2" lengthAdjust="spacingAndGlyphs">RSI(14) 54.7762</text>
<g shape-rendering="crispEdges">
<rect x="1579" y="559" width="1" height="1" fill="#000"/>
<rect x="1579" y="587" width="1" height="1" fill="#000"/>
<rect x="1579" y="624" width="1" height="1" fill="#000"/>
<rect x="1579" y="652" width="1" height="1" fill="#000"/>
</g>
<text x="1582.5" y="568" font-size="10.2" fill="#000" stroke="#000" stroke-width="0.18" textLength="14" lengthAdjust="spacingAndGlyphs">100</text>
<text x="1582" y="591" font-size="10.2" fill="#000" stroke="#000" stroke-width="0.18" textLength="10" lengthAdjust="spacingAndGlyphs">70</text>
<text x="1582" y="628" font-size="10.2" fill="#000" stroke="#000" stroke-width="0.18" textLength="10" lengthAdjust="spacingAndGlyphs">30</text>
<text x="1582" y="650" font-size="10.2" fill="#000" stroke="#000" stroke-width="0.18" textLength="5" lengthAdjust="spacingAndGlyphs">0</text>
<clipPath id="cd"><rect x="2" y="656" width="1576" height="95"/></clipPath>
<g clip-path="url(#cd)">
<g shape-rendering="crispEdges">
<rect x="2" y="674" width="1" height="14" fill="#c0c0c0"/>
<rect x="6" y="675" width="1" height="13" fill="#c0c0c0"/>
<rect x="10" y="677" width="1" height="11" fill="#c0c0c0"/>
<rect x="14" y="679" width="1" height="9" fill="#c0c0c0"/>
<rect x="18" y="680" width="1" height="8" fill="#c0c0c0"/>
<rect x="22" y="681" width="1" height="7" fill="#c0c0c0"/>
<rect x="26" y="685" width="1" height="3" fill="#c0c0c0"/>
<rect x="30" y="688" width="1" height="2" fill="#c0c0c0"/>
<rect x="34" y="688" width="1" height="6" fill="#c0c0c0"/>
<rect x="38" y="688" width="1" height="12" fill="#c0c0c0"/>
<rect x="42" y="688" width="1" height="18" fill="#c0c0c0"/>
<rect x="46" y="688" width="1" height="23" fill="#c0c0c0"/>
<rect x="50" y="688" width="1" height="28" fill="#c0c0c0"/>
<rect x="54" y="688" width="1" height="37" fill="#c0c0c0"/>
<rect x="58" y="688" width="1" height="45" fill="#c0c0c0"/>
<rect x="62" y="688" width="1" height="53" fill="#c0c0c0"/>
<rect x="66" y="688" width="1" height="57" fill="#c0c0c0"/>
<rect x="70" y="688" width="1" height="58" fill="#c0c0c0"/>
<rect x="74" y="688" width="1" height="51" fill="#c0c0c0"/>
<rect x="78" y="688" width="1" height="45" fill="#c0c0c0"/>
<rect x="82" y="688" width="1" height="40" fill="#c0c0c0"/>
<rect x="86" y="688" width="1" height="38" fill="#c0c0c0"/>
<rect x="90" y="688" width="1" height="29" fill="#c0c0c0"/>
<rect x="94" y="688" width="1" height="18" fill="#c0c0c0"/>
<rect x="98" y="688" width="1" height="5" fill="#c0c0c0"/>
<rect x="102" y="681" width="1" height="7" fill="#c0c0c0"/>
<rect x="106" y="671" width="1" height="17" fill="#c0c0c0"/>
<rect x="110" y="666" width="1" height="22" fill="#c0c0c0"/>
<rect x="114" y="663" width="1" height="25" fill="#c0c0c0"/>
<rect x="118" y="662" width="1" height="26" fill="#c0c0c0"/>
<rect x="122" y="668" width="1" height="20" fill="#c0c0c0"/>
<rect x="126" y="676" width="1" height="12" fill="#c0c0c0"/>
<rect x="130" y="684" width="1" height="4" fill="#c0c0c0"/>
<rect x="134" y="686" width="1" height="2" fill="#c0c0c0"/>
<rect x="138" y="688" width="1" height="1" fill="#c0c0c0"/>
<rect x="142" y="687" width="1" height="1" fill="#c0c0c0"/>
<rect x="146" y="684" width="1" height="4" fill="#c0c0c0"/>
<rect x="150" y="679" width="1" height="9" fill="#c0c0c0"/>
<rect x="154" y="677" width="1" height="11" fill="#c0c0c0"/>
<rect x="158" y="675" width="1" height="13" fill="#c0c0c0"/>
<rect x="162" y="676" width="1" height="12" fill="#c0c0c0"/>
<rect x="166" y="676" width="1" height="12" fill="#c0c0c0"/>
<rect x="170" y="679" width="1" height="9" fill="#c0c0c0"/>
<rect x="174" y="682" width="1" height="6" fill="#c0c0c0"/>
<rect x="178" y="685" width="1" height="3" fill="#c0c0c0"/>
<rect x="182" y="686" width="1" height="2" fill="#c0c0c0"/>
<rect x="186" y="688" width="1" height="1" fill="#c0c0c0"/>
<rect x="190" y="688" width="1" height="2" fill="#c0c0c0"/>
<rect x="194" y="688" width="1" height="1" fill="#c0c0c0"/>
<rect x="198" y="688" width="1" height="1" fill="#c0c0c0"/>
<rect x="202" y="688" width="1" height="1" fill="#c0c0c0"/>
<rect x="206" y="688" width="1" height="1" fill="#c0c0c0"/>
<rect x="210" y="688" width="1" height="1" fill="#c0c0c0"/>
<rect x="214" y="686" width="1" height="2" fill="#c0c0c0"/>
<rect x="218" y="684" width="1" height="4" fill="#c0c0c0"/>
<rect x="222" y="682" width="1" height="6" fill="#c0c0c0"/>
<rect x="226" y="680" width="1" height="8" fill="#c0c0c0"/>
<rect x="230" y="679" width="1" height="9" fill="#c0c0c0"/>
<rect x="234" y="678" width="1" height="10" fill="#c0c0c0"/>
<rect x="238" y="677" width="1" height="11" fill="#c0c0c0"/>
<rect x="242" y="680" width="1" height="8" fill="#c0c0c0"/>
<rect x="246" y="686" width="1" height="2" fill="#c0c0c0"/>
<rect x="250" y="688" width="1" height="2" fill="#c0c0c0"/>
<rect x="254" y="688" width="1" height="3" fill="#c0c0c0"/>
<rect x="258" y="688" width="1" height="1" fill="#c0c0c0"/>
<rect x="262" y="686" width="1" height="2" fill="#c0c0c0"/>
<rect x="266" y="684" width="1" height="4" fill="#c0c0c0"/>
<rect x="270" y="685" width="1" height="3" fill="#c0c0c0"/>
<rect x="274" y="685" width="1" height="3" fill="#c0c0c0"/>
<rect x="278" y="684" width="1" height="4" fill="#c0c0c0"/>
<rect x="282" y="686" width="1" height="2" fill="#c0c0c0"/>
<rect x="286" y="686" width="1" height="2" fill="#c0c0c0"/>
<rect x="290" y="685" width="1" height="3" fill="#c0c0c0"/>
<rect x="294" y="685" width="1" height="3" fill="#c0c0c0"/>
<rect x="298" y="684" width="1" height="4" fill="#c0c0c0"/>
<rect x="302" y="685" width="1" height="3" fill="#c0c0c0"/>
<rect x="306" y="685" width="1" height="3" fill="#c0c0c0"/>
<rect x="310" y="688" width="1" height="1" fill="#c0c0c0"/>
<rect x="314" y="688" width="1" height="1" fill="#c0c0c0"/>
<rect x="318" y="687" width="1" height="1" fill="#c0c0c0"/>
<rect x="322" y="686" width="1" height="2" fill="#c0c0c0"/>
<rect x="326" y="686" width="1" height="2" fill="#c0c0c0"/>
<rect x="330" y="688" width="1" height="1" fill="#c0c0c0"/>
<rect x="334" y="688" width="1" height="1" fill="#c0c0c0"/>
<rect x="338" y="688" width="1" height="3" fill="#c0c0c0"/>
<rect x="342" y="688" width="1" height="6" fill="#c0c0c0"/>
<rect x="346" y="688" width="1" height="8" fill="#c0c0c0"/>
<rect x="350" y="688" width="1" height="10" fill="#c0c0c0"/>
<rect x="354" y="688" width="1" height="11" fill="#c0c0c0"/>
<rect x="358" y="688" width="1" height="12" fill="#c0c0c0"/>
<rect x="362" y="688" width="1" height="15" fill="#c0c0c0"/>
<rect x="366" y="688" width="1" height="14" fill="#c0c0c0"/>
<rect x="370" y="688" width="1" height="14" fill="#c0c0c0"/>
<rect x="374" y="688" width="1" height="16" fill="#c0c0c0"/>
<rect x="378" y="688" width="1" height="21" fill="#c0c0c0"/>
<rect x="382" y="688" width="1" height="25" fill="#c0c0c0"/>
<rect x="386" y="688" width="1" height="32" fill="#c0c0c0"/>
<rect x="390" y="688" width="1" height="31" fill="#c0c0c0"/>
<rect x="394" y="688" width="1" height="29" fill="#c0c0c0"/>
<rect x="398" y="688" width="1" height="28" fill="#c0c0c0"/>
<rect x="402" y="688" width="1" height="28" fill="#c0c0c0"/>
<rect x="406" y="688" width="1" height="27" fill="#c0c0c0"/>
<rect x="410" y="688" width="1" height="26" fill="#c0c0c0"/>
<rect x="414" y="688" width="1" height="24" fill="#c0c0c0"/>
<rect x="418" y="688" width="1" height="23" fill="#c0c0c0"/>
<rect x="422" y="688" width="1" height="23" fill="#c0c0c0"/>
<rect x="426" y="688" width="1" height="25" fill="#c0c0c0"/>
<rect x="430" y="688" width="1" height="24" fill="#c0c0c0"/>
<rect x="434" y="688" width="1" height="23" fill="#c0c0c0"/>
<rect x="438" y="688" width="1" height="22" fill="#c0c0c0"/>
<rect x="442" y="688" width="1" height="21" fill="#c0c0c0"/>
<rect x="446" y="688" width="1" height="19" fill="#c0c0c0"/>
<rect x="450" y="688" width="1" height="19" fill="#c0c0c0"/>
<rect x="454" y="688" width="1" height="19" fill="#c0c0c0"/>
<rect x="458" y="688" width="1" height="19" fill="#c0c0c0"/>
<rect x="462" y="688" width="1" height="19" fill="#c0c0c0"/>
<rect x="466" y="688" width="1" height="18" fill="#c0c0c0"/>
<rect x="470" y="688" width="1" height="20" fill="#c0c0c0"/>
<rect x="474" y="688" width="1" height="20" fill="#c0c0c0"/>
<rect x="478" y="688" width="1" height="22" fill="#c0c0c0"/>
<rect x="482" y="688" width="1" height="22" fill="#c0c0c0"/>
<rect x="486" y="688" width="1" height="22" fill="#c0c0c0"/>
<rect x="490" y="688" width="1" height="21" fill="#c0c0c0"/>
<rect x="494" y="688" width="1" height="21" fill="#c0c0c0"/>
<rect x="498" y="688" width="1" height="21" fill="#c0c0c0"/>
<rect x="502" y="688" width="1" height="18" fill="#c0c0c0"/>
<rect x="506" y="688" width="1" height="17" fill="#c0c0c0"/>
<rect x="510" y="688" width="1" height="17" fill="#c0c0c0"/>
<rect x="514" y="688" width="1" height="17" fill="#c0c0c0"/>
<rect x="518" y="688" width="1" height="17" fill="#c0c0c0"/>
<rect x="522" y="688" width="1" height="19" fill="#c0c0c0"/>
<rect x="526" y="688" width="1" height="22" fill="#c0c0c0"/>
<rect x="530" y="688" width="1" height="26" fill="#c0c0c0"/>
<rect x="534" y="688" width="1" height="30" fill="#c0c0c0"/>
<rect x="538" y="688" width="1" height="33" fill="#c0c0c0"/>
<rect x="542" y="688" width="1" height="36" fill="#c0c0c0"/>
<rect x="546" y="688" width="1" height="39" fill="#c0c0c0"/>
<rect x="550" y="688" width="1" height="42" fill="#c0c0c0"/>
<rect x="554" y="688" width="1" height="45" fill="#c0c0c0"/>
<rect x="558" y="688" width="1" height="47" fill="#c0c0c0"/>
<rect x="562" y="688" width="1" height="47" fill="#c0c0c0"/>
<rect x="566" y="688" width="1" height="44" fill="#c0c0c0"/>
<rect x="570" y="688" width="1" height="43" fill="#c0c0c0"/>
<rect x="574" y="688" width="1" height="46" fill="#c0c0c0"/>
<rect x="578" y="688" width="1" height="46" fill="#c0c0c0"/>
<rect x="582" y="688" width="1" height="43" fill="#c0c0c0"/>
<rect x="586" y="688" width="1" height="42" fill="#c0c0c0"/>
<rect x="590" y="688" width="1" height="38" fill="#c0c0c0"/>
<rect x="594" y="688" width="1" height="35" fill="#c0c0c0"/>
<rect x="598" y="688" width="1" height="35" fill="#c0c0c0"/>
<rect x="602" y="688" width="1" height="35" fill="#c0c0c0"/>
<rect x="606" y="688" width="1" height="34" fill="#c0c0c0"/>
<rect x="610" y="688" width="1" height="33" fill="#c0c0c0"/>
<rect x="614" y="688" width="1" height="34" fill="#c0c0c0"/>
<rect x="618" y="688" width="1" height="35" fill="#c0c0c0"/>
<rect x="622" y="688" width="1" height="32" fill="#c0c0c0"/>
<rect x="626" y="688" width="1" height="31" fill="#c0c0c0"/>
<rect x="630" y="688" width="1" height="27" fill="#c0c0c0"/>
<rect x="634" y="688" width="1" height="24" fill="#c0c0c0"/>
<rect x="638" y="688" width="1" height="23" fill="#c0c0c0"/>
<rect x="642" y="688" width="1" height="22" fill="#c0c0c0"/>
<rect x="646" y="688" width="1" height="21" fill="#c0c0c0"/>
<rect x="650" y="688" width="1" height="21" fill="#c0c0c0"/>
<rect x="654" y="688" width="1" height="22" fill="#c0c0c0"/>
<rect x="658" y="688" width="1" height="22" fill="#c0c0c0"/>
<rect x="662" y="688" width="1" height="23" fill="#c0c0c0"/>
<rect x="666" y="688" width="1" height="22" fill="#c0c0c0"/>
<rect x="670" y="688" width="1" height="19" fill="#c0c0c0"/>
<rect x="674" y="688" width="1" height="16" fill="#c0c0c0"/>
<rect x="678" y="688" width="1" height="12" fill="#c0c0c0"/>
<rect x="682" y="688" width="1" height="10" fill="#c0c0c0"/>
<rect x="686" y="688" width="1" height="7" fill="#c0c0c0"/>
<rect x="690" y="688" width="1" height="4" fill="#c0c0c0"/>
<rect x="694" y="688" width="1" height="3" fill="#c0c0c0"/>
<rect x="698" y="688" width="1" height="4" fill="#c0c0c0"/>
<rect x="702" y="688" width="1" height="5" fill="#c0c0c0"/>
<rect x="706" y="688" width="1" height="5" fill="#c0c0c0"/>
<rect x="710" y="688" width="1" height="6" fill="#c0c0c0"/>
<rect x="714" y="688" width="1" height="6" fill="#c0c0c0"/>
<rect x="718" y="688" width="1" height="7" fill="#c0c0c0"/>
<rect x="722" y="688" width="1" height="6" fill="#c0c0c0"/>
<rect x="726" y="688" width="1" height="6" fill="#c0c0c0"/>
<rect x="730" y="688" width="1" height="5" fill="#c0c0c0"/>
<rect x="734" y="688" width="1" height="2" fill="#c0c0c0"/>
<rect x="738" y="686" width="1" height="2" fill="#c0c0c0"/>
<rect x="742" y="682" width="1" height="6" fill="#c0c0c0"/>
<rect x="746" y="677" width="1" height="11" fill="#c0c0c0"/>
<rect x="750" y="672" width="1" height="16" fill="#c0c0c0"/>
<rect x="754" y="669" width="1" height="19" fill="#c0c0c0"/>
<rect x="758" y="668" width="1" height="20" fill="#c0c0c0"/>
<rect x="762" y="669" width="1" height="19" fill="#c0c0c0"/>
<rect x="766" y="671" width="1" height="17" fill="#c0c0c0"/>
<rect x="770" y="673" width="1" height="15" fill="#c0c0c0"/>
<rect x="774" y="674" width="1" height="14" fill="#c0c0c0"/>
<rect x="778" y="675" width="1" height="13" fill="#c0c0c0"/>
<rect x="782" y="678" width="1" height="10" fill="#c0c0c0"/>
<rect x="786" y="680" width="1" height="8" fill="#c0c0c0"/>
<rect x="790" y="682" width="1" height="6" fill="#c0c0c0"/>
<rect x="794" y="683" width="1" height="5" fill="#c0c0c0"/>
<rect x="798" y="687" width="1" height="1" fill="#c0c0c0"/>
<rect x="802" y="688" width="1" height="2" fill="#c0c0c0"/>
<rect x="806" y="688" width="1" height="4" fill="#c0c0c0"/>
<rect x="810" y="688" width="1" height="4" fill="#c0c0c0"/>
<rect x="814" y="688" width="1" height="5" fill="#c0c0c0"/>
<rect x="818" y="688" width="1" height="5" fill="#c0c0c0"/>
<rect x="822" y="688" width="1" height="4" fill="#c0c0c0"/>
<rect x="826" y="688" width="1" height="4" fill="#c0c0c0"/>
<rect x="830" y="688" width="1" height="6" fill="#c0c0c0"/>
<rect x="834" y="688" width="1" height="8" fill="#c0c0c0"/>
<rect x="838" y="688" width="1" height="11" fill="#c0c0c0"/>
<rect x="842" y="688" width="1" height="12" fill="#c0c0c0"/>
<rect x="846" y="688" width="1" height="14" fill="#c0c0c0"/>
<rect x="850" y="688" width="1" height="15" fill="#c0c0c0"/>
<rect x="854" y="688" width="1" height="15" fill="#c0c0c0"/>
<rect x="858" y="688" width="1" height="15" fill="#c0c0c0"/>
<rect x="862" y="688" width="1" height="13" fill="#c0c0c0"/>
<rect x="866" y="688" width="1" height="9" fill="#c0c0c0"/>
<rect x="870" y="688" width="1" height="5" fill="#c0c0c0"/>
<rect x="874" y="688" width="1" height="2" fill="#c0c0c0"/>
<rect x="878" y="687" width="1" height="1" fill="#c0c0c0"/>
<rect x="882" y="687" width="1" height="1" fill="#c0c0c0"/>
<rect x="886" y="688" width="1" height="1" fill="#c0c0c0"/>
<rect x="890" y="688" width="1" height="3" fill="#c0c0c0"/>
<rect x="894" y="688" width="1" height="8" fill="#c0c0c0"/>
<rect x="898" y="688" width="1" height="12" fill="#c0c0c0"/>
<rect x="902" y="688" width="1" height="10" fill="#c0c0c0"/>
<rect x="906" y="688" width="1" height="7" fill="#c0c0c0"/>
<rect x="910" y="688" width="1" height="3" fill="#c0c0c0"/>
<rect x="914" y="688" width="1" height="1" fill="#c0c0c0"/>
<rect x="918" y="688" width="1" height="1" fill="#c0c0c0"/>
<rect x="922" y="688" width="1" height="1" fill="#c0c0c0"/>
<rect x="926" y="687" width="1" height="1" fill="#c0c0c0"/>
<rect x="930" y="688" width="1" height="1" fill="#c0c0c0"/>
<rect x="934" y="688" width="1" height="1" fill="#c0c0c0"/>
<rect x="938" y="688" width="1" height="1" fill="#c0c0c0"/>
<rect x="942" y="688" width="1" height="1" fill="#c0c0c0"/>
<rect x="946" y="688" width="1" height="1" fill="#c0c0c0"/>
<rect x="950" y="688" width="1" height="1" fill="#c0c0c0"/>
<rect x="954" y="688" width="1" height="1" fill="#c0c0c0"/>
<rect x="958" y="688" width="1" height="1" fill="#c0c0c0"/>
<rect x="962" y="688" width="1" height="3" fill="#c0c0c0"/>
<rect x="966" y="688" width="1" height="5" fill="#c0c0c0"/>
<rect x="970" y="688" width="1" height="7" fill="#c0c0c0"/>
<rect x="974" y="688" width="1" height="8" fill="#c0c0c0"/>
<rect x="978" y="688" width="1" height="11" fill="#c0c0c0"/>
<rect x="982" y="688" width="1" height="15" fill="#c0c0c0"/>
<rect x="986" y="688" width="1" height="20" fill="#c0c0c0"/>
<rect x="990" y="688" width="1" height="24" fill="#c0c0c0"/>
<rect x="994" y="688" width="1" height="27" fill="#c0c0c0"/>
<rect x="998" y="688" width="1" height="30" fill="#c0c0c0"/>
<rect x="1002" y="688" width="1" height="32" fill="#c0c0c0"/>
<rect x="1006" y="688" width="1" height="32" fill="#c0c0c0"/>
<rect x="1010" y="688" width="1" height="34" fill="#c0c0c0"/>
<rect x="1014" y="688" width="1" height="32" fill="#c0c0c0"/>
<rect x="1018" y="688" width="1" height="32" fill="#c0c0c0"/>
<rect x="1022" y="688" width="1" height="31" fill="#c0c0c0"/>
<rect x="1026" y="688" width="1" height="32" fill="#c0c0c0"/>
<rect x="1030" y="688" width="1" height="32" fill="#c0c0c0"/>
<rect x="1034" y="688" width="1" height="33" fill="#c0c0c0"/>
<rect x="1038" y="688" width="1" height="32" fill="#c0c0c0"/>
<rect x="1042" y="688" width="1" height="32" fill="#c0c0c0"/>
<rect x="1046" y="688" width="1" height="29" fill="#c0c0c0"/>
<rect x="1050" y="688" width="1" height="27" fill="#c0c0c0"/>
<rect x="1054" y="688" width="1" height="24" fill="#c0c0c0"/>
<rect x="1058" y="688" width="1" height="21" fill="#c0c0c0"/>
<rect x="1062" y="688" width="1" height="19" fill="#c0c0c0"/>
<rect x="1066" y="688" width="1" height="17" fill="#c0c0c0"/>
<rect x="1070" y="688" width="1" height="18" fill="#c0c0c0"/>
<rect x="1074" y="688" width="1" height="19" fill="#c0c0c0"/>
<rect x="1078" y="688" width="1" height="20" fill="#c0c0c0"/>
<rect x="1082" y="688" width="1" height="19" fill="#c0c0c0"/>
<rect x="1086" y="688" width="1" height="21" fill="#c0c0c0"/>
<rect x="1090" y="688" width="1" height="22" fill="#c0c0c0"/>
<rect x="1094" y="688" width="1" height="22" fill="#c0c0c0"/>
<rect x="1098" y="688" width="1" height="20" fill="#c0c0c0"/>
<rect x="1102" y="688" width="1" height="19" fill="#c0c0c0"/>
<rect x="1106" y="688" width="1" height="16" fill="#c0c0c0"/>
<rect x="1110" y="688" width="1" height="12" fill="#c0c0c0"/>
<rect x="1114" y="688" width="1" height="10" fill="#c0c0c0"/>
<rect x="1118" y="688" width="1" height="8" fill="#c0c0c0"/>
<rect x="1122" y="688" width="1" height="7" fill="#c0c0c0"/>
<rect x="1126" y="688" width="1" height="5" fill="#c0c0c0"/>
<rect x="1130" y="688" width="1" height="3" fill="#c0c0c0"/>
<rect x="1134" y="688" width="1" height="2" fill="#c0c0c0"/>
<rect x="1138" y="688" width="1" height="2" fill="#c0c0c0"/>
<rect x="1142" y="688" width="1" height="1" fill="#c0c0c0"/>
<rect x="1146" y="688" width="1" height="2" fill="#c0c0c0"/>
<rect x="1150" y="688" width="1" height="3" fill="#c0c0c0"/>
<rect x="1154" y="688" width="1" height="3" fill="#c0c0c0"/>
<rect x="1158" y="688" width="1" height="3" fill="#c0c0c0"/>
<rect x="1162" y="688" width="1" height="3" fill="#c0c0c0"/>
<rect x="1166" y="688" width="1" height="2" fill="#c0c0c0"/>
<rect x="1170" y="688" width="1" height="2" fill="#c0c0c0"/>
<rect x="1174" y="688" width="1" height="1" fill="#c0c0c0"/>
<rect x="1178" y="688" width="1" height="1" fill="#c0c0c0"/>
<rect x="1182" y="685" width="1" height="3" fill="#c0c0c0"/>
<rect x="1186" y="681" width="1" height="7" fill="#c0c0c0"/>
<rect x="1190" y="678" width="1" height="10" fill="#c0c0c0"/>
<rect x="1194" y="674" width="1" height="14" fill="#c0c0c0"/>
<rect x="1198" y="672" width="1" height="16" fill="#c0c0c0"/>
<rect x="1202" y="672" width="1" height="16" fill="#c0c0c0"/>
<rect x="1206" y="671" width="1" height="17" fill="#c0c0c0"/>
<rect x="1210" y="674" width="1" height="14" fill="#c0c0c0"/>
<rect x="1214" y="677" width="1" height="11" fill="#c0c0c0"/>
<rect x="1218" y="680" width="1" height="8" fill="#c0c0c0"/>
<rect x="1222" y="681" width="1" height="7" fill="#c0c0c0"/>
<rect x="1226" y="683" width="1" height="5" fill="#c0c0c0"/>
<rect x="1230" y="685" width="1" height="3" fill="#c0c0c0"/>
<rect x="1234" y="686" width="1" height="2" fill="#c0c0c0"/>
<rect x="1238" y="684" width="1" height="4" fill="#c0c0c0"/>
<rect x="1242" y="683" width="1" height="5" fill="#c0c0c0"/>
<rect x="1246" y="683" width="1" height="5" fill="#c0c0c0"/>
<rect x="1250" y="682" width="1" height="6" fill="#c0c0c0"/>
<rect x="1254" y="682" width="1" height="6" fill="#c0c0c0"/>
</g>
<path d="M2 677h3v1h-3zM8 676h3v1h-3zM14 676h3v1h-3zM20 676h3v1h-3zM26 677h2v1h-2zM28 678h1v1h-1zM32 680h2v1h-2zM34 681h1v1h-1zM38 684h1v1h-1zM39 685h2v1h-2zM44 689h1v1h-1zM45 690h1v1h-1zM46 691h1v1h-1zM50 695h1v1h-1zM51 696h1v1h-1zM52 697h1v1h-1zM55 701h1v2h-1zM56 703h1v1h-1zM59 707h1v2h-1zM60 709h1v1h-1zM63 713h1v2h-1zM64 715h1v1h-1zM67 719h1v2h-1zM68 721h1v1h-1zM71 725h1v1h-1zM72 726h1v2h-1zM76 730h1v1h-1zM77 731h1v1h-1zM78 732h1v1h-1zM82 734h3v1h-3zM88 735h1v1h-1zM89 734h2v1h-2zM94 731h1v1h-1zM95 729h1v2h-1zM98 725h1v1h-1zM99 723h1v2h-1zM101 719h1v1h-1zM102 717h1v2h-1zM104 713h1v1h-1zM105 711h1v2h-1zM107 707h1v1h-1zM108 705h1v2h-1zM110 701h1v1h-1zM111 699h1v2h-1zM113 695h1v1h-1zM114 694h1v1h-1zM115 693h1v1h-1zM117 688h1v2h-1zM118 687h1v1h-1zM120 683h1v1h-1zM121 681h1v2h-1zM124 677h1v1h-1zM125 676h1v1h-1zM126 675h1v1h-1zM130 673h3v1h-3zM136 672h1v1h-1zM137 673h2v1h-2zM142 675h2v1h-2zM144 676h1v1h-1zM148 678h2v1h-2zM150 679h1v1h-1zM154 680h3v1h-3zM160 681h3v1h-3zM166 680h3v1h-3zM172 680h1v1h-1zM173 679h2v1h-2zM178 679h3v1h-3zM184 679h1v1h-1zM185 680h2v1h-2zM190 682h3v1h-3zM196 684h2v1h-2zM198 685h1v1h-1zM202 686h3v1h-3zM208 687h1v1h-1zM209 688h2v1h-2zM214 688h3v1h-3zM220 688h1v1h-1zM221 687h2v1h-2zM226 686h3v1h-3zM232 684h2v1h-2zM234 683h1v1h-1zM238 682h3v1h-3zM244 681h3v1h-3zM250 681h3v1h-3zM256 682h1v1h-1zM257 683h2v1h-2zM262 684h3v1h-3zM268 684h1v1h-1zM269 685h2v1h-2zM274 686h3v1h-3zM280 686h3v1h-3zM286 686h3v1h-3zM292 685h3v1h-3zM298 684h3v1h-3zM304 685h3v1h-3zM310 685h3v1h-3zM316 685h3v1h-3zM322 685h3v1h-3zM328 685h1v1h-1zM329 686h2v1h-2zM334 686h3v1h-3zM340 687h1v1h-1zM341 688h2v1h-2zM346 689h3v1h-3zM352 690h1v1h-1zM353 691h2v1h-2zM358 693h2v1h-2zM360 694h1v1h-1zM364 695h1v1h-1zM365 696h2v1h-2zM370 698h3v1h-3zM376 700h2v1h-2zM378 701h1v1h-1zM382 703h2v1h-2zM384 704h1v1h-1zM388 706h1v1h-1zM389 707h1v1h-1zM390 708h1v1h-1zM394 709h2v1h-2zM396 710h1v1h-1zM400 711h1v1h-1zM401 712h2v1h-2zM406 714h3v1h-3zM412 715h3v1h-3zM418 715h3v1h-3zM424 714h1v1h-1zM425 713h2v1h-2zM430 713h3v1h-3zM436 712h3v1h-3zM442 711h3v1h-3zM448 710h3v1h-3zM454 709h3v1h-3zM460 709h1v1h-1zM461 708h2v1h-2zM466 707h3v1h-3zM472 707h3v1h-3zM478 707h3v1h-3zM484 707h1v1h-1zM485 708h2v1h-2zM490 708h3v1h-3zM496 708h3v1h-3zM502 708h3v1h-3zM508 708h3v1h-3zM514 707h3v1h-3zM520 707h1v1h-1zM521 706h2v1h-2zM526 706h3v1h-3zM532 707h1v1h-1zM533 708h2v1h-2zM538 710h2v1h-2zM540 711h1v1h-1zM544 713h2v1h-2zM546 714h1v1h-1zM550 717h1v1h-1zM551 718h2v1h-2zM556 721h1v1h-1zM557 722h1v1h-1zM558 723h1v1h-1zM562 726h2v1h-2zM564 727h1v1h-1zM568 728h1v1h-1zM569 729h2v1h-2zM574 731h3v1h-3zM580 732h3v1h-3zM586 732h3v1h-3zM592 731h2v1h-2zM594 730h1v1h-1zM598 729h3v1h-3zM604 728h1v1h-1zM605 727h2v1h-2zM610 725h3v1h-3zM616 724h1v1h-1zM617 723h2v1h-2zM622 722h3v1h-3zM628 721h1v1h-1zM629 720h2v1h-2zM634 719h3v1h-3zM640 717h2v1h-2zM642 716h1v1h-1zM646 715h3v1h-3zM652 713h2v1h-2zM654 712h1v1h-1zM658 711h3v1h-3zM664 710h3v1h-3zM670 709h3v1h-3zM676 708h1v1h-1zM677 707h2v1h-2zM682 706h2v1h-2zM684 705h1v1h-1zM688 703h2v1h-2zM690 702h1v1h-1zM694 700h2v1h-2zM696 699h1v1h-1zM700 697h2v1h-2zM702 696h1v1h-1zM706 695h3v1h-3zM712 694h1v1h-1zM713 693h2v1h-2zM718 693h3v1h-3zM724 693h3v1h-3zM730 693h3v1h-3zM736 693h1v1h-1zM737 692h2v1h-2zM742 691h2v1h-2zM744 690h1v1h-1zM748 688h1v1h-1zM749 687h1v1h-1zM750 686h1v1h-1zM754 684h1v1h-1zM755 683h2v1h-2zM760 680h1v1h-1zM761 679h1v1h-1zM762 678h1v1h-1zM766 675h2v1h-2zM768 674h1v1h-1zM772 673h1v1h-1zM773 672h2v1h-2zM778 671h3v1h-3zM784 672h1v1h-1zM785 673h2v1h-2zM790 674h2v1h-2zM792 675h1v1h-1zM796 677h2v1h-2zM798 678h1v1h-1zM802 680h2v1h-2zM804 681h1v1h-1zM808 683h2v1h-2zM810 684h1v1h-1zM814 686h3v1h-3zM820 688h2v1h-2zM822 689h1v1h-1zM826 690h3v1h-3zM832 691h1v1h-1zM833 692h2v1h-2zM838 693h3v1h-3zM844 694h1v1h-1zM845 695h2v1h-2zM850 696h3v1h-3zM856 697h1v1h-1zM857 698h2v1h-2zM862 700h3v1h-3zM868 700h3v1h-3zM874 699h2v1h-2zM876 698h1v1h-1zM880 696h2v1h-2zM882 695h1v1h-1zM886 694h2v1h-2zM888 693h1v1h-1zM892 692h3v1h-3zM898 692h3v1h-3zM904 692h3v1h-3zM910 692h3v1h-3zM916 692h3v1h-3zM922 692h3v1h-3zM928 692h1v1h-1zM929 691h2v1h-2zM934 690h3v1h-3zM940 689h1v1h-1zM941 688h2v1h-2zM946 688h3v1h-3zM952 688h3v1h-3zM958 688h3v1h-3zM964 688h1v1h-1zM965 689h2v1h-2zM970 690h3v1h-3zM976 691h2v1h-2zM978 692h1v1h-1zM982 693h2v1h-2zM984 694h1v1h-1zM988 696h1v1h-1zM989 697h1v1h-1zM990 698h1v1h-1zM994 701h1v1h-1zM995 702h2v1h-2zM1000 705h1v1h-1zM1001 706h1v1h-1zM1002 707h1v1h-1zM1006 710h2v1h-2zM1008 711h1v1h-1zM1012 713h1v1h-1zM1013 714h1v1h-1zM1014 715h1v1h-1zM1018 717h3v1h-3zM1024 718h1v1h-1zM1025 719h2v1h-2zM1030 719h3v1h-3zM1036 720h3v1h-3zM1042 720h3v1h-3zM1048 719h3v1h-3zM1054 718h3v1h-3zM1060 716h2v1h-2zM1062 715h1v1h-1zM1066 714h2v1h-2zM1068 713h1v1h-1zM1072 712h1v1h-1zM1073 711h2v1h-2zM1078 709h3v1h-3zM1084 708h1v1h-1zM1085 707h2v1h-2zM1090 707h3v1h-3zM1096 707h3v1h-3zM1102 707h3v1h-3zM1108 707h1v1h-1zM1109 706h2v1h-2zM1114 705h3v1h-3zM1120 703h2v1h-2zM1122 702h1v1h-1zM1126 701h2v1h-2zM1128 700h1v1h-1zM1132 698h2v1h-2zM1134 697h1v1h-1zM1138 695h2v1h-2zM1140 694h1v1h-1zM1144 693h1v1h-1zM1145 692h2v1h-2zM1150 691h3v1h-3zM1156 690h3v1h-3zM1162 690h3v1h-3zM1168 690h3v1h-3zM1174 690h3v1h-3zM1180 689h3v1h-3zM1186 688h2v1h-2zM1188 687h1v1h-1zM1192 685h2v1h-2zM1194 684h1v1h-1zM1198 682h2v1h-2zM1200 681h1v1h-1zM1204 679h2v1h-2zM1206 678h1v1h-1zM1210 677h2v1h-2zM1212 676h1v1h-1zM1216 675h3v1h-3zM1222 675h3v1h-3zM1228 676h1v1h-1zM1229 677h2v1h-2zM1234 678h2v1h-2zM1236 679h1v1h-1zM1240 680h1v1h-1zM1241 681h2v1h-2zM1246 682h3v1h-3zM1252 682h1v1h-1zM1253 683h2v1h-2z" fill="#ff0000" shape-rendering="crispEdges"/>
</g>
<text x="6.2" y="668" font-size="10.2" fill="#000" stroke="#000" stroke-width="0.18" textLength="147.5" lengthAdjust="spacingAndGlyphs">MACD(12,26,9) 0.001224 0.000967</text>
<g shape-rendering="crispEdges">
<rect x="1579" y="657" width="1" height="1" fill="#000"/>
<rect x="1579" y="688" width="1" height="1" fill="#000"/>
<rect x="1579" y="750" width="1" height="1" fill="#000"/>
</g>
<text x="1582.3" y="666" font-size="10.2" fill="#000" stroke="#000" stroke-width="0.18" textLength="37.2" lengthAdjust="spacingAndGlyphs">0.005818</text>
<text x="1582.3" y="692" font-size="10.2" fill="#000" stroke="#000" stroke-width="0.18" textLength="17.6" lengthAdjust="spacingAndGlyphs">0.00</text>
<text x="1582.3" y="748" font-size="10.2" fill="#000" stroke="#000" stroke-width="0.18" textLength="41" lengthAdjust="spacingAndGlyphs">-0.011514</text>
<g shape-rendering="crispEdges">
<rect x="2" y="752" width="1" height="3" fill="#000"/>
<rect x="66" y="752" width="1" height="3" fill="#000"/>
<rect x="130" y="752" width="1" height="3" fill="#000"/>
<rect x="194" y="752" width="1" height="3" fill="#000"/>
<rect x="258" y="752" width="1" height="3" fill="#000"/>
<rect x="322" y="752" width="1" height="3" fill="#000"/>
<rect x="386" y="752" width="1" height="3" fill="#000"/>
<rect x="450" y="752" width="1" height="3" fill="#000"/>
<rect x="514" y="752" width="1" height="3" fill="#000"/>
<rect x="578" y="752" width="1" height="3" fill="#000"/>
<rect x="642" y="752" width="1" height="3" fill="#000"/>
<rect x="706" y="752" width="1" height="3" fill="#000"/>
<rect x="770" y="752" width="1" height="3" fill="#000"/>
<rect x="834" y="752" width="1" height="3" fill="#000"/>
<rect x="898" y="752" width="1" height="3" fill="#000"/>
<rect x="962" y="752" width="1" height="3" fill="#000"/>
<rect x="1026" y="752" width="1" height="3" fill="#000"/>
<rect x="1090" y="752" width="1" height="3" fill="#000"/>
<rect x="1154" y="752" width="1" height="3" fill="#000"/>
<rect x="1218" y="752" width="1" height="3" fill="#000"/>
</g>
<text x="1.3" y="764" font-size="10.2" fill="#000" stroke="#000" stroke-width="0.18" textLength="51.5" lengthAdjust="spacingAndGlyphs">20 Feb 2020</text>
<text x="65.3" y="764" font-size="10.2" fill="#000" stroke="#000" stroke-width="0.18" textLength="51.2" lengthAdjust="spacingAndGlyphs">10 Mar 2020</text>
<text x="129.3" y="764" font-size="10.2" fill="#000" stroke="#000" stroke-width="0.18" textLength="51.5" lengthAdjust="spacingAndGlyphs">28 Mar 2020</text>
<text x="193.3" y="764" font-size="10.2" fill="#000" stroke="#000" stroke-width="0.18" textLength="50.2" lengthAdjust="spacingAndGlyphs">16 Apr 2020</text>
<text x="257.3" y="764" font-size="10.2" fill="#000" stroke="#000" stroke-width="0.18" textLength="49.6" lengthAdjust="spacingAndGlyphs">5 May 2020</text>
<text x="321.3" y="764" font-size="10.2" fill="#000" stroke="#000" stroke-width="0.18" textLength="53.7" lengthAdjust="spacingAndGlyphs">23 May 2020</text>
<text x="385.3" y="764" font-size="10.2" fill="#000" stroke="#000" stroke-width="0.18" textLength="49.3" lengthAdjust="spacingAndGlyphs">11 Jun 2020</text>
<text x="449.3" y="764" font-size="10.2" fill="#000" stroke="#000" stroke-width="0.18" textLength="49.6" lengthAdjust="spacingAndGlyphs">30 Jun 2020</text>
<text x="513.3" y="764" font-size="10.2" fill="#000" stroke="#000" stroke-width="0.18" textLength="46.6" lengthAdjust="spacingAndGlyphs">18 Jul 2020</text>
<text x="577.3" y="764" font-size="10.2" fill="#000" stroke="#000" stroke-width="0.18" textLength="47.4" lengthAdjust="spacingAndGlyphs">6 Aug 2020</text>
<text x="641.3" y="764" font-size="10.2" fill="#000" stroke="#000" stroke-width="0.18" textLength="52" lengthAdjust="spacingAndGlyphs">25 Aug 2020</text>
<text x="705.3" y="764" font-size="10.2" fill="#000" stroke="#000" stroke-width="0.18" textLength="51" lengthAdjust="spacingAndGlyphs">12 Sep 2020</text>
<text x="769.3" y="764" font-size="10.2" fill="#000" stroke="#000" stroke-width="0.18" textLength="44.7" lengthAdjust="spacingAndGlyphs">1 Oct 2020</text>
<text x="833.3" y="764" font-size="10.2" fill="#000" stroke="#000" stroke-width="0.18" textLength="50.4" lengthAdjust="spacingAndGlyphs">20 Oct 2020</text>
<text x="897.3" y="764" font-size="10.2" fill="#000" stroke="#000" stroke-width="0.18" textLength="48.8" lengthAdjust="spacingAndGlyphs">7 Nov 2020</text>
<text x="961.3" y="764" font-size="10.2" fill="#000" stroke="#000" stroke-width="0.18" textLength="52.8" lengthAdjust="spacingAndGlyphs">26 Nov 2020</text>
<text x="1025.3" y="764" font-size="10.2" fill="#000" stroke="#000" stroke-width="0.18" textLength="51" lengthAdjust="spacingAndGlyphs">15 Dec 2020</text>
<text x="1089.3" y="764" font-size="10.2" fill="#000" stroke="#000" stroke-width="0.18" textLength="43.4" lengthAdjust="spacingAndGlyphs">5 Jan 2021</text>
<text x="1153.3" y="764" font-size="10.2" fill="#000" stroke="#000" stroke-width="0.18" textLength="48.5" lengthAdjust="spacingAndGlyphs">23 Jan 2021</text>
<text x="1217.3" y="764" font-size="10.2" fill="#000" stroke="#000" stroke-width="0.18" textLength="51" lengthAdjust="spacingAndGlyphs">11 Feb 2021</text>
<g shape-rendering="crispEdges">
<rect x="0" y="772" width="1623" height="2" fill="#e6e6e6"/>
<rect x="0" y="774" width="1623" height="1" fill="#000"/>
<rect x="0" y="775" width="1623" height="19" fill="#f0f0f0"/>
<rect x="0" y="794" width="1623" height="3" fill="#fdfdfd"/>
<rect x="0" y="797" width="1623" height="2" fill="#a0a0a0"/>
<rect x="108" y="774" width="98" height="18" fill="#fff"/>
<rect x="107" y="774" width="1" height="19" fill="#000"/>
<rect x="206" y="774" width="1" height="19" fill="#000"/>
<rect x="107" y="792" width="100" height="1" fill="#000"/>
<rect x="311" y="777" width="1" height="14" fill="#707070"/>
<rect x="415" y="777" width="1" height="14" fill="#707070"/>
<rect x="519" y="777" width="1" height="14" fill="#707070"/>
<rect x="623" y="777" width="1" height="14" fill="#707070"/>
<rect x="715" y="777" width="1" height="14" fill="#707070"/>
<rect x="819" y="777" width="1" height="14" fill="#707070"/>
<rect x="891" y="777" width="1" height="14" fill="#707070"/>
<rect x="971" y="777" width="1" height="14" fill="#707070"/>
<rect x="1051" y="777" width="1" height="14" fill="#707070"/>
<rect x="1131" y="777" width="1" height="14" fill="#707070"/>
<rect x="1207" y="777" width="1" height="14" fill="#707070"/>
<rect x="1307" y="777" width="1" height="14" fill="#707070"/>
<rect x="1391" y="777" width="1" height="14" fill="#707070"/>
<rect x="1471" y="777" width="1" height="14" fill="#707070"/>
<rect x="1571" y="777" width="1" height="14" fill="#707070"/>
</g>
<text x="15.3" y="789" font-size="12.7" fill="#6a6a6a" stroke="#6a6a6a" stroke-width="0.18" textLength="79.2" lengthAdjust="spacingAndGlyphs">EURUSD,Daily</text>
<text x="117.5" y="789" font-size="12.7" fill="#000" stroke="#000" stroke-width="0.18" textLength="78.3" lengthAdjust="spacingAndGlyphs">USDCHF,Daily</text>
<text x="217.8" y="789" font-size="12.7" fill="#6a6a6a" stroke="#6a6a6a" stroke-width="0.18" textLength="81.7" lengthAdjust="spacingAndGlyphs">AUDUSD,Daily</text>
<text x="322.2" y="789" font-size="12.7" fill="#6a6a6a" stroke="#6a6a6a" stroke-width="0.18" textLength="80.6" lengthAdjust="spacingAndGlyphs">USDCAD,Daily</text>
<text x="425.5" y="789" font-size="12.7" fill="#6a6a6a" stroke="#6a6a6a" stroke-width="0.18" textLength="82.3" lengthAdjust="spacingAndGlyphs">USDCNH,Daily</text>
<text x="531.2" y="789" font-size="12.7" fill="#6a6a6a" stroke="#6a6a6a" stroke-width="0.18" textLength="80" lengthAdjust="spacingAndGlyphs">EURUSD,Daily</text>
<text x="635.5" y="789" font-size="12.7" fill="#6a6a6a" stroke="#6a6a6a" stroke-width="0.18" textLength="67.3" lengthAdjust="spacingAndGlyphs">GBPUSD,H4</text>
<text x="726.2" y="789" font-size="12.7" fill="#6a6a6a" stroke="#6a6a6a" stroke-width="0.18" textLength="80.6" lengthAdjust="spacingAndGlyphs">XAUUSD,Daily</text>
<text x="830.2" y="789" font-size="12.7" fill="#6a6a6a" stroke="#6a6a6a" stroke-width="0.18" textLength="49.3" lengthAdjust="spacingAndGlyphs">HK50,H1</text>
<text x="902.2" y="789" font-size="12.7" fill="#6a6a6a" stroke="#6a6a6a" stroke-width="0.18" textLength="56.3" lengthAdjust="spacingAndGlyphs">UK100,H1</text>
<text x="982.2" y="789" font-size="12.7" fill="#6a6a6a" stroke="#6a6a6a" stroke-width="0.18" textLength="56.3" lengthAdjust="spacingAndGlyphs">UK100,H1</text>
<text x="1062.2" y="789" font-size="12.7" fill="#6a6a6a" stroke="#6a6a6a" stroke-width="0.18" textLength="56.6" lengthAdjust="spacingAndGlyphs">GER30,H1</text>
<text x="1141.1" y="789" font-size="12.7" fill="#6a6a6a" stroke="#6a6a6a" stroke-width="0.18" textLength="54.4" lengthAdjust="spacingAndGlyphs">FRA40,H1</text>
<text x="1217.5" y="789" font-size="12.7" fill="#6a6a6a" stroke="#6a6a6a" stroke-width="0.18" textLength="77.3" lengthAdjust="spacingAndGlyphs">USOil,Weekly</text>
<text x="1317.5" y="789" font-size="12.7" fill="#6a6a6a" stroke="#6a6a6a" stroke-width="0.18" textLength="61.7" lengthAdjust="spacingAndGlyphs">USDJPY,H1</text>
<text x="1401.5" y="789" font-size="12.7" fill="#6a6a6a" stroke="#6a6a6a" stroke-width="0.18" textLength="58.7" lengthAdjust="spacingAndGlyphs">DJ30,Daily</text>
<text x="1481.5" y="789" font-size="12.7" fill="#6a6a6a" stroke="#6a6a6a" stroke-width="0.18" textLength="78.3" lengthAdjust="spacingAndGlyphs">CHINA300,H1</text>
<text x="1581.3" y="789" font-size="12.7" fill="#6a6a6a" stroke="#6a6a6a" stroke-width="0.18" textLength="7" lengthAdjust="spacingAndGlyphs">U</text>
<rect x="1591" y="775" width="32" height="19" fill="#f0f0f0"/>
<path d="M1597.2 780 L1597.2 786 L1593.8 783 Z" fill="#909090"/>
<path d="M1613 780 L1613 786.2 L1616.4 783.1 Z" fill="#000"/>
</svg>
</body></html>
